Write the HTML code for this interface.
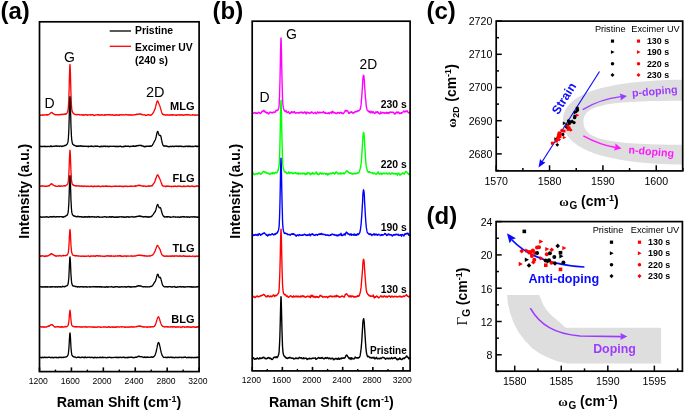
<!DOCTYPE html>
<html><head><meta charset="utf-8"><style>
html,body{margin:0;padding:0;background:#fff;}
svg{display:block;will-change:transform;}
</style></head><body>
<svg width="685" height="411" viewBox="0 0 685 411">
<rect width="685" height="411" fill="#fff"/>
<text x="0.5" y="18.6" font-family='"Liberation Sans", sans-serif' font-size="24" font-weight="bold" text-anchor="start" fill="#000">(a)</text>
<polyline points="39.5,114.9 39.7,115.0 39.8,115.0 40.0,115.0 40.1,115.1 40.3,115.1 40.5,115.2 40.6,115.4 40.8,115.2 40.9,115.1 41.1,115.2 41.3,115.2 41.4,115.1 41.6,115.0 41.7,115.0 41.9,115.1 42.1,114.9 42.2,115.1 42.4,114.9 42.5,115.0 42.7,115.0 42.9,115.2 43.0,115.1 43.2,115.2 43.3,115.2 43.5,115.1 43.6,114.9 43.8,115.1 44.0,115.1 44.1,115.1 44.3,114.9 44.4,114.9 44.6,114.8 44.8,114.8 44.9,115.0 45.1,114.7 45.2,114.8 45.4,114.9 45.6,114.8 45.7,114.8 45.9,114.8 46.0,114.8 46.2,114.7 46.4,114.9 46.5,115.0 46.7,114.7 46.8,115.0 47.0,114.9 47.2,114.8 47.3,115.1 47.5,114.9 47.6,114.7 47.8,114.8 48.0,114.8 48.1,114.7 48.3,114.7 48.4,114.6 48.6,114.6 48.8,114.6 48.9,114.3 49.1,114.3 49.2,114.1 49.4,114.1 49.6,113.8 49.7,113.8 49.9,113.7 50.0,113.6 50.2,113.5 50.4,113.1 50.5,113.1 50.7,113.1 50.8,112.7 51.0,112.7 51.2,112.6 51.3,112.7 51.5,112.6 51.6,112.5 51.8,112.5 51.9,112.6 52.1,112.9 52.3,112.8 52.4,113.0 52.6,113.2 52.7,113.3 52.9,113.5 53.1,113.5 53.2,113.7 53.4,113.7 53.5,113.9 53.7,113.9 53.9,113.9 54.0,114.0 54.2,114.1 54.3,114.3 54.5,114.4 54.7,114.5 54.8,114.4 55.0,114.7 55.1,114.6 55.3,114.6 55.5,114.7 55.6,114.7 55.8,114.8 55.9,114.9 56.1,114.6 56.3,114.6 56.4,114.7 56.6,114.7 56.7,114.7 56.9,114.7 57.1,114.8 57.2,114.8 57.4,114.6 57.5,114.7 57.7,114.7 57.9,114.6 58.0,114.8 58.2,114.7 58.3,114.9 58.5,114.8 58.7,114.8 58.8,114.7 59.0,114.8 59.1,114.6 59.3,114.7 59.5,114.9 59.6,114.6 59.8,114.9 59.9,114.6 60.1,114.8 60.2,114.6 60.4,114.7 60.6,114.6 60.7,114.4 60.9,114.6 61.0,114.6 61.2,114.5 61.4,114.4 61.5,114.4 61.7,114.3 61.8,114.5 62.0,114.4 62.2,114.4 62.3,114.3 62.5,114.4 62.6,114.3 62.8,114.6 63.0,114.4 63.1,114.5 63.3,114.3 63.4,114.2 63.6,114.2 63.8,114.2 63.9,114.2 64.1,114.1 64.2,114.1 64.4,114.0 64.6,114.0 64.7,114.2 64.9,114.0 65.0,113.9 65.2,114.0 65.4,114.2 65.5,113.9 65.7,114.0 65.8,113.9 66.0,113.8 66.2,114.0 66.3,113.9 66.5,113.7 66.6,113.4 66.8,113.3 67.0,113.0 67.1,112.8 67.3,112.3 67.4,112.0 67.6,111.9 67.7,111.2 67.9,110.6 68.1,109.7 68.2,108.4 68.4,106.6 68.5,104.4 68.7,101.1 68.9,97.2 69.0,92.4 69.2,87.0 69.3,81.0 69.5,74.9 69.7,69.5 69.8,65.7 70.0,64.5 70.1,66.0 70.3,69.7 70.5,75.1 70.6,81.1 70.8,87.1 70.9,92.6 71.1,97.1 71.3,101.2 71.4,104.1 71.6,106.7 71.7,108.4 71.9,109.7 72.1,110.8 72.2,111.5 72.4,111.7 72.5,112.1 72.7,112.6 72.9,112.7 73.0,113.0 73.2,113.3 73.3,113.2 73.5,113.3 73.7,113.7 73.8,113.8 74.0,113.9 74.1,114.0 74.3,114.0 74.5,114.1 74.6,114.3 74.8,114.3 74.9,114.3 75.1,114.6 75.3,114.6 75.4,114.6 75.6,114.5 75.7,114.5 75.9,114.5 76.0,114.5 76.2,114.6 76.4,114.5 76.5,114.6 76.7,114.6 76.8,114.8 77.0,114.5 77.2,114.7 77.3,114.7 77.5,114.7 77.6,114.5 77.8,114.6 78.0,114.7 78.1,114.6 78.3,114.6 78.4,114.6 78.6,114.7 78.8,114.6 78.9,114.5 79.1,114.6 79.2,114.6 79.4,114.5 79.6,114.8 79.7,115.0 79.9,114.9 80.0,114.7 80.2,114.8 80.4,114.9 80.5,114.8 80.7,114.8 80.8,114.8 81.0,114.8 81.2,114.9 81.3,114.9 81.5,114.9 81.6,114.8 81.8,115.0 82.0,114.9 82.1,115.1 82.3,114.8 82.4,114.9 82.6,114.9 82.8,114.8 82.9,115.1 83.1,115.0 83.2,114.9 83.4,115.0 83.5,115.0 83.7,114.8 83.9,115.1 84.0,115.1 84.2,115.2 84.3,115.0 84.5,115.0 84.7,114.9 84.8,115.0 85.0,114.8 85.1,114.7 85.3,114.7 85.5,114.6 85.6,114.6 85.8,114.5 85.9,114.9 86.1,114.9 86.3,114.9 86.4,114.9 86.6,114.9 86.7,115.0 86.9,114.9 87.1,115.0 87.2,115.0 87.4,115.2 87.5,115.1 87.7,115.0 87.9,115.0 88.0,114.9 88.2,115.1 88.3,115.0 88.5,114.9 88.7,114.9 88.8,114.8 89.0,114.9 89.1,114.9 89.3,114.8 89.5,114.8 89.6,114.8 89.8,114.8 89.9,114.7 90.1,114.8 90.3,114.8 90.4,115.0 90.6,114.8 90.7,115.0 90.9,115.1 91.1,114.9 91.2,114.8 91.4,114.9 91.5,114.8 91.7,114.7 91.8,114.8 92.0,114.9 92.2,114.7 92.3,114.8 92.5,114.7 92.6,114.9 92.8,114.8 93.0,114.8 93.1,115.1 93.3,114.9 93.4,115.2 93.6,115.3 93.8,115.2 93.9,115.3 94.1,115.5 94.2,115.3 94.4,115.3 94.6,115.2 94.7,115.3 94.9,115.4 95.0,115.3 95.2,115.1 95.4,115.1 95.5,115.0 95.7,115.1 95.8,115.0 96.0,115.0 96.2,114.9 96.3,114.8 96.5,114.8 96.6,114.8 96.8,114.8 97.0,114.9 97.1,115.0 97.3,114.9 97.4,114.8 97.6,114.7 97.8,114.9 97.9,114.7 98.1,114.7 98.2,115.0 98.4,115.0 98.6,114.9 98.7,114.7 98.9,114.9 99.0,114.9 99.2,115.1 99.3,115.3 99.5,115.1 99.7,115.0 99.8,115.0 100.0,115.1 100.1,115.0 100.3,114.9 100.5,115.0 100.6,114.8 100.8,115.0 100.9,115.0 101.1,115.0 101.3,114.8 101.4,114.9 101.6,114.8 101.7,114.8 101.9,114.8 102.1,114.7 102.2,114.8 102.4,115.0 102.5,115.0 102.7,115.0 102.9,115.1 103.0,114.9 103.2,115.0 103.3,115.1 103.5,115.2 103.7,115.1 103.8,115.2 104.0,115.1 104.1,115.0 104.3,115.0 104.5,115.2 104.6,115.1 104.8,114.8 104.9,115.1 105.1,115.0 105.3,115.1 105.4,114.9 105.6,114.9 105.7,114.8 105.9,115.1 106.1,114.8 106.2,115.0 106.4,114.8 106.5,114.8 106.7,114.6 106.9,114.7 107.0,114.9 107.2,114.6 107.3,114.9 107.5,114.8 107.6,114.6 107.8,114.7 108.0,114.7 108.1,114.8 108.3,114.8 108.4,114.7 108.6,114.8 108.8,114.8 108.9,114.7 109.1,114.8 109.2,114.9 109.4,114.6 109.6,114.7 109.7,114.6 109.9,114.5 110.0,114.8 110.2,114.7 110.4,115.0 110.5,114.8 110.7,115.0 110.8,115.0 111.0,115.0 111.2,115.1 111.3,115.0 111.5,115.1 111.6,115.0 111.8,114.8 112.0,114.9 112.1,114.9 112.3,115.0 112.4,114.8 112.6,115.0 112.8,114.8 112.9,115.1 113.1,114.9 113.2,114.9 113.4,115.1 113.6,115.2 113.7,115.0 113.9,115.1 114.0,115.1 114.2,115.1 114.4,115.3 114.5,115.2 114.7,115.2 114.8,115.3 115.0,115.1 115.2,115.2 115.3,115.1 115.5,115.1 115.6,114.9 115.8,115.3 115.9,115.0 116.1,115.0 116.3,114.9 116.4,114.9 116.6,114.8 116.7,115.0 116.9,114.8 117.1,114.8 117.2,114.9 117.4,114.9 117.5,115.2 117.7,115.2 117.9,115.0 118.0,115.0 118.2,115.1 118.3,115.3 118.5,114.9 118.7,115.2 118.8,115.1 119.0,115.2 119.1,115.0 119.3,115.0 119.5,114.8 119.6,114.9 119.8,115.0 119.9,114.9 120.1,114.8 120.3,114.8 120.4,114.7 120.6,114.8 120.7,114.8 120.9,114.8 121.1,114.8 121.2,114.7 121.4,114.9 121.5,114.9 121.7,115.0 121.9,115.1 122.0,114.9 122.2,114.9 122.3,114.9 122.5,114.8 122.7,114.8 122.8,114.8 123.0,114.7 123.1,114.8 123.3,114.7 123.4,114.8 123.6,114.8 123.8,114.9 123.9,114.9 124.1,115.1 124.2,115.1 124.4,115.2 124.6,115.1 124.7,114.9 124.9,115.0 125.0,114.7 125.2,114.7 125.4,114.7 125.5,114.4 125.7,114.6 125.8,114.7 126.0,114.7 126.2,114.7 126.3,114.7 126.5,114.7 126.6,114.8 126.8,114.8 127.0,114.9 127.1,114.7 127.3,114.9 127.4,114.9 127.6,114.9 127.8,114.9 127.9,115.0 128.1,114.8 128.2,115.0 128.4,115.0 128.6,115.0 128.7,115.0 128.9,114.9 129.0,114.9 129.2,115.0 129.4,115.0 129.5,115.0 129.7,114.8 129.8,115.0 130.0,115.1 130.2,115.1 130.3,115.0 130.5,114.9 130.6,115.1 130.8,115.0 131.0,114.8 131.1,115.1 131.3,114.9 131.4,114.9 131.6,114.9 131.7,115.1 131.9,114.9 132.1,115.0 132.2,115.1 132.4,115.1 132.5,115.0 132.7,115.0 132.9,114.9 133.0,115.0 133.2,115.1 133.3,115.2 133.5,115.1 133.7,115.1 133.8,114.8 134.0,114.8 134.1,114.8 134.3,114.7 134.5,114.7 134.6,114.6 134.8,114.6 134.9,114.7 135.1,114.6 135.3,114.6 135.4,114.8 135.6,114.8 135.7,114.8 135.9,114.5 136.1,114.6 136.2,114.5 136.4,114.4 136.5,114.2 136.7,114.4 136.9,114.5 137.0,114.4 137.2,114.3 137.3,114.3 137.5,114.4 137.7,114.0 137.8,114.2 138.0,114.2 138.1,114.2 138.3,114.3 138.5,114.2 138.6,114.1 138.8,114.1 138.9,114.1 139.1,113.9 139.2,114.0 139.4,114.0 139.6,114.1 139.7,113.9 139.9,113.9 140.0,113.9 140.2,114.1 140.4,114.0 140.5,114.2 140.7,114.0 140.8,114.1 141.0,114.2 141.2,114.3 141.3,114.4 141.5,114.2 141.6,114.4 141.8,114.6 142.0,114.6 142.1,114.5 142.3,114.9 142.4,114.8 142.6,114.9 142.8,114.8 142.9,114.9 143.1,114.8 143.2,115.0 143.4,114.8 143.6,114.8 143.7,114.9 143.9,114.8 144.0,114.9 144.2,114.8 144.4,114.7 144.5,114.8 144.7,114.8 144.8,115.0 145.0,114.9 145.2,115.0 145.3,115.2 145.5,115.4 145.6,115.5 145.8,115.3 146.0,115.3 146.1,115.4 146.3,115.3 146.4,115.2 146.6,115.3 146.8,115.3 146.9,115.1 147.1,115.0 147.2,114.9 147.4,115.0 147.5,114.8 147.7,114.8 147.9,114.7 148.0,114.8 148.2,114.7 148.3,114.8 148.5,114.7 148.7,114.8 148.8,114.8 149.0,115.1 149.1,115.0 149.3,115.0 149.5,115.0 149.6,115.1 149.8,115.2 149.9,115.1 150.1,115.1 150.3,115.2 150.4,115.4 150.6,115.2 150.7,115.0 150.9,115.0 151.1,115.1 151.2,114.7 151.4,114.6 151.5,114.7 151.7,114.5 151.9,114.4 152.0,114.2 152.2,114.3 152.3,114.1 152.5,113.8 152.7,113.6 152.8,113.1 153.0,113.2 153.1,112.8 153.3,112.6 153.5,112.4 153.6,112.0 153.8,111.5 153.9,111.4 154.1,111.0 154.3,110.7 154.4,110.3 154.6,110.0 154.7,109.4 154.9,109.3 155.1,108.8 155.2,108.4 155.4,107.9 155.5,107.2 155.7,106.4 155.8,105.9 156.0,105.2 156.2,104.5 156.3,103.9 156.5,103.0 156.6,102.7 156.8,101.9 157.0,101.7 157.1,101.3 157.3,101.1 157.4,101.0 157.6,101.0 157.8,101.2 157.9,101.3 158.1,101.8 158.2,102.3 158.4,102.7 158.6,103.0 158.7,103.4 158.9,103.6 159.0,104.2 159.2,104.5 159.4,104.8 159.5,105.2 159.7,105.6 159.8,106.0 160.0,106.4 160.2,106.8 160.3,107.4 160.5,108.2 160.6,108.5 160.8,109.1 161.0,109.7 161.1,110.3 161.3,110.7 161.4,111.4 161.6,112.0 161.8,112.4 161.9,112.9 162.1,113.4 162.2,113.5 162.4,113.9 162.6,114.0 162.7,114.4 162.9,114.1 163.0,114.4 163.2,114.4 163.3,114.6 163.5,114.6 163.7,114.8 163.8,114.5 164.0,114.8 164.1,114.7 164.3,114.7 164.5,114.9 164.6,114.7 164.8,114.7 164.9,114.9 165.1,114.8 165.3,114.9 165.4,115.0 165.6,115.1 165.7,115.2 165.9,115.0 166.1,114.9 166.2,115.0 166.4,114.9 166.5,114.9 166.7,115.0 166.9,114.9 167.0,114.8 167.2,115.1 167.3,115.0 167.5,115.0 167.7,115.0 167.8,115.1 168.0,115.0 168.1,115.1 168.3,115.1 168.5,115.1 168.6,115.1 168.8,114.9 168.9,115.0 169.1,115.0 169.3,115.0 169.4,114.9 169.6,115.2 169.7,115.0 169.9,114.9 170.1,114.8 170.2,114.9 170.4,115.0 170.5,114.9 170.7,115.0 170.9,114.9 171.0,115.0 171.2,114.9 171.3,114.9 171.5,115.0 171.6,115.2 171.8,114.8 172.0,114.9 172.1,114.8 172.3,115.0 172.4,114.8 172.6,114.9 172.8,115.0 172.9,114.9 173.1,114.9 173.2,115.0 173.4,114.9 173.6,115.0 173.7,115.0 173.9,115.0 174.0,115.0 174.2,114.8 174.4,114.8 174.5,114.9 174.7,114.9 174.8,114.9 175.0,114.8 175.2,115.0 175.3,115.0 175.5,115.0 175.6,115.1 175.8,115.3 176.0,115.2 176.1,115.3 176.3,115.1 176.4,115.2 176.6,115.0 176.8,115.0 176.9,115.2 177.1,115.0 177.2,114.9 177.4,114.9 177.6,114.9 177.7,115.0 177.9,114.8 178.0,114.7 178.2,114.8 178.4,114.9 178.5,114.9 178.7,115.0 178.8,114.9 179.0,115.0 179.2,114.8 179.3,115.0 179.5,115.1 179.6,115.0 179.8,114.9 179.9,114.9 180.1,115.1 180.3,114.8 180.4,114.9 180.6,115.0 180.7,115.0 180.9,114.9 181.1,115.0 181.2,115.0 181.4,115.0 181.5,115.0 181.7,114.9 181.9,114.9 182.0,115.0 182.2,114.8 182.3,114.9 182.5,114.9 182.7,114.8 182.8,115.0 183.0,114.9 183.1,115.2 183.3,115.3 183.5,115.3 183.6,115.1 183.8,115.2 183.9,115.1 184.1,115.0 184.3,115.1 184.4,114.8 184.6,115.0 184.7,114.9 184.9,115.0 185.1,114.8 185.2,114.7 185.4,114.8 185.5,114.8 185.7,114.7 185.9,114.7 186.0,114.6 186.2,114.5 186.3,114.8 186.5,114.8 186.7,114.8 186.8,114.8 187.0,115.0 187.1,114.8 187.3,114.7 187.4,114.8 187.6,114.9 187.8,114.6 187.9,114.8 188.1,114.6 188.2,114.6 188.4,114.9 188.6,114.8 188.7,114.7 188.9,114.9 189.0,115.0 189.2,115.1 189.4,115.0 189.5,115.1 189.7,115.1 189.8,115.0 190.0,115.1 190.2,115.1 190.3,115.1 190.5,115.1 190.6,115.1 190.8,115.1 191.0,115.1 191.1,115.1 191.3,115.2 191.4,115.1 191.6,115.1 191.8,115.1 191.9,115.0 192.1,115.1 192.2,114.8 192.4,114.9 192.6,114.7 192.7,115.0 192.9,115.0 193.0,114.6 193.2,114.7 193.4,114.9 193.5,114.9 193.7,114.9 193.8,114.9 194.0,115.0 194.2,115.1 194.3,115.1 194.5,115.3 194.6,115.0 194.8,115.3 195.0,115.1 195.1,115.3 195.3,115.1 195.4,115.0 195.6,115.1 195.7,115.0 195.9,114.9 196.1,114.9 196.2,115.0 196.4,115.1 196.5,115.1 196.7,115.0 196.9,115.1 197.0,115.0 197.2,115.0 197.3,115.1 197.5,115.1 197.7,115.0 197.8,115.1 198.0,115.1 198.1,115.1 198.3,115.1 198.5,115.3 198.6,115.2 198.8,115.3 198.9,115.2 199.1,115.3" fill="none" stroke="#ff0000" stroke-width="1.3" stroke-linejoin="round"/>
<polyline points="39.5,146.2 39.7,146.2 39.8,146.3 40.0,146.2 40.1,146.2 40.3,146.4 40.5,146.3 40.6,146.4 40.8,146.5 40.9,146.7 41.1,146.4 41.3,146.5 41.4,146.5 41.6,146.5 41.7,146.6 41.9,146.4 42.1,146.4 42.2,146.3 42.4,146.4 42.5,146.5 42.7,146.5 42.9,146.4 43.0,146.4 43.2,146.5 43.3,146.5 43.5,146.4 43.6,146.4 43.8,146.3 44.0,146.3 44.1,146.6 44.3,146.3 44.4,146.5 44.6,146.6 44.8,146.5 44.9,146.5 45.1,146.6 45.2,146.6 45.4,146.6 45.6,146.4 45.7,146.5 45.9,146.4 46.0,146.4 46.2,146.5 46.4,146.5 46.5,146.5 46.7,146.4 46.8,146.6 47.0,146.6 47.2,146.6 47.3,146.6 47.5,146.5 47.6,146.5 47.8,146.6 48.0,146.3 48.1,146.5 48.3,146.4 48.4,146.4 48.6,146.3 48.8,146.4 48.9,146.5 49.1,146.6 49.2,146.7 49.4,146.6 49.6,146.6 49.7,146.5 49.9,146.5 50.0,146.4 50.2,146.4 50.4,146.4 50.5,146.1 50.7,145.9 50.8,146.0 51.0,146.0 51.2,146.1 51.3,146.5 51.5,146.4 51.6,146.3 51.8,146.6 51.9,146.6 52.1,146.4 52.3,146.4 52.4,146.4 52.6,146.4 52.7,146.4 52.9,146.4 53.1,146.4 53.2,146.4 53.4,146.4 53.5,146.4 53.7,146.1 53.9,146.3 54.0,146.3 54.2,146.2 54.3,146.3 54.5,146.2 54.7,146.1 54.8,146.3 55.0,146.2 55.1,146.2 55.3,146.2 55.5,146.2 55.6,146.1 55.8,145.8 55.9,146.0 56.1,146.0 56.3,145.9 56.4,146.1 56.6,146.2 56.7,146.0 56.9,146.0 57.1,146.4 57.2,146.1 57.4,146.1 57.5,146.2 57.7,146.2 57.9,146.1 58.0,146.3 58.2,146.1 58.3,146.1 58.5,146.2 58.7,146.2 58.8,146.1 59.0,146.2 59.1,146.2 59.3,146.5 59.5,146.2 59.6,146.4 59.8,146.2 59.9,146.2 60.1,146.2 60.2,146.2 60.4,146.2 60.6,146.0 60.7,145.9 60.9,145.9 61.0,146.1 61.2,146.2 61.4,146.3 61.5,146.3 61.7,146.4 61.8,146.5 62.0,146.3 62.2,146.1 62.3,146.1 62.5,146.0 62.6,146.3 62.8,146.0 63.0,146.2 63.1,146.1 63.3,146.2 63.4,146.1 63.6,145.9 63.8,145.9 63.9,145.9 64.1,145.8 64.2,145.7 64.4,145.7 64.6,145.9 64.7,145.5 64.9,145.6 65.0,145.4 65.2,145.5 65.4,145.5 65.5,145.4 65.7,145.4 65.8,145.1 66.0,145.2 66.2,145.0 66.3,145.0 66.5,144.8 66.6,144.4 66.8,144.4 67.0,144.3 67.1,144.3 67.3,143.9 67.4,143.5 67.6,143.0 67.7,142.8 67.9,142.1 68.1,141.0 68.2,139.7 68.4,137.9 68.5,135.8 68.7,132.9 68.9,128.8 69.0,124.2 69.2,118.8 69.3,112.8 69.5,107.1 69.7,101.7 69.8,98.0 70.0,96.7 70.1,98.1 70.3,101.8 70.5,107.0 70.6,112.8 70.8,118.6 70.9,124.1 71.1,128.7 71.3,132.4 71.4,135.5 71.6,137.9 71.7,139.5 71.9,140.8 72.1,141.7 72.2,142.6 72.4,143.2 72.5,143.8 72.7,143.8 72.9,144.1 73.0,144.5 73.2,144.6 73.3,144.7 73.5,145.0 73.7,144.9 73.8,144.9 74.0,145.0 74.1,145.2 74.3,145.3 74.5,145.2 74.6,145.4 74.8,145.6 74.9,145.7 75.1,145.6 75.3,145.8 75.4,145.9 75.6,145.7 75.7,145.9 75.9,146.1 76.0,146.1 76.2,146.0 76.4,146.2 76.5,146.3 76.7,146.4 76.8,146.0 77.0,146.5 77.2,146.1 77.3,146.3 77.5,146.3 77.6,146.3 77.8,146.2 78.0,146.0 78.1,146.2 78.3,146.0 78.4,145.9 78.6,146.4 78.8,146.1 78.9,146.2 79.1,145.9 79.2,146.2 79.4,146.1 79.6,146.1 79.7,145.9 79.9,145.8 80.0,145.9 80.2,145.8 80.4,145.8 80.5,146.0 80.7,145.9 80.8,146.0 81.0,146.0 81.2,146.2 81.3,146.1 81.5,146.0 81.6,146.1 81.8,145.9 82.0,146.0 82.1,146.1 82.3,146.0 82.4,146.1 82.6,146.1 82.8,146.3 82.9,146.5 83.1,146.3 83.2,146.4 83.4,146.3 83.5,146.2 83.7,146.2 83.9,146.4 84.0,146.4 84.2,146.2 84.3,146.1 84.5,146.3 84.7,146.2 84.8,146.3 85.0,146.3 85.1,146.3 85.3,146.4 85.5,146.3 85.6,146.3 85.8,146.1 85.9,146.2 86.1,146.1 86.3,146.2 86.4,146.1 86.6,146.3 86.7,146.3 86.9,146.1 87.1,146.2 87.2,146.2 87.4,146.4 87.5,146.5 87.7,146.5 87.9,146.4 88.0,146.6 88.2,146.3 88.3,146.7 88.5,146.5 88.7,146.3 88.8,146.8 89.0,146.6 89.1,146.3 89.3,146.4 89.5,146.3 89.6,146.3 89.8,146.1 89.9,146.2 90.1,146.3 90.3,146.3 90.4,146.4 90.6,146.3 90.7,146.5 90.9,146.2 91.1,146.3 91.2,146.1 91.4,146.1 91.5,146.4 91.7,146.2 91.8,146.3 92.0,146.2 92.2,146.2 92.3,146.3 92.5,146.3 92.6,146.3 92.8,146.5 93.0,146.5 93.1,146.4 93.3,146.4 93.4,146.4 93.6,146.4 93.8,146.4 93.9,146.6 94.1,146.3 94.2,146.2 94.4,146.2 94.6,146.1 94.7,146.1 94.9,146.1 95.0,146.2 95.2,146.1 95.4,146.3 95.5,146.1 95.7,146.2 95.8,146.0 96.0,146.3 96.2,146.2 96.3,146.3 96.5,146.2 96.6,146.3 96.8,146.1 97.0,146.2 97.1,146.4 97.3,146.0 97.4,146.3 97.6,146.3 97.8,146.2 97.9,146.3 98.1,146.4 98.2,146.3 98.4,146.4 98.6,146.3 98.7,146.4 98.9,146.4 99.0,146.5 99.2,146.6 99.3,146.7 99.5,146.5 99.7,146.9 99.8,146.9 100.0,146.8 100.1,146.6 100.3,146.5 100.5,146.5 100.6,146.4 100.8,146.1 100.9,146.3 101.1,146.6 101.3,146.1 101.4,146.5 101.6,146.4 101.7,146.4 101.9,146.6 102.1,146.4 102.2,146.5 102.4,146.6 102.5,146.5 102.7,146.4 102.9,146.5 103.0,146.4 103.2,146.6 103.3,146.3 103.5,146.4 103.7,146.2 103.8,146.4 104.0,146.3 104.1,146.0 104.3,146.2 104.5,146.1 104.6,146.2 104.8,146.4 104.9,146.2 105.1,146.2 105.3,146.5 105.4,146.3 105.6,146.5 105.7,146.4 105.9,146.2 106.1,146.3 106.2,146.5 106.4,146.4 106.5,146.3 106.7,146.3 106.9,146.3 107.0,146.3 107.2,146.5 107.3,146.3 107.5,146.2 107.6,146.2 107.8,146.4 108.0,146.5 108.1,146.4 108.3,146.4 108.4,146.6 108.6,146.5 108.8,146.6 108.9,146.7 109.1,146.5 109.2,146.5 109.4,146.5 109.6,146.3 109.7,146.2 109.9,146.3 110.0,146.2 110.2,146.1 110.4,146.3 110.5,146.3 110.7,146.3 110.8,146.4 111.0,146.4 111.2,146.2 111.3,146.4 111.5,146.4 111.6,146.4 111.8,146.3 112.0,146.4 112.1,146.4 112.3,146.4 112.4,146.3 112.6,146.4 112.8,146.2 112.9,146.3 113.1,146.4 113.2,146.2 113.4,146.3 113.6,146.4 113.7,146.3 113.9,146.3 114.0,146.4 114.2,146.5 114.4,146.2 114.5,146.3 114.7,146.3 114.8,146.3 115.0,146.4 115.2,146.4 115.3,146.5 115.5,146.4 115.6,146.5 115.8,146.5 115.9,146.4 116.1,146.5 116.3,146.6 116.4,146.5 116.6,146.3 116.7,146.4 116.9,146.3 117.1,146.5 117.2,146.5 117.4,146.4 117.5,146.4 117.7,146.6 117.9,146.4 118.0,146.5 118.2,146.4 118.3,146.4 118.5,146.4 118.7,146.7 118.8,146.5 119.0,146.4 119.1,146.3 119.3,146.3 119.5,146.3 119.6,146.2 119.8,146.3 119.9,146.1 120.1,146.3 120.3,146.2 120.4,146.4 120.6,146.2 120.7,146.4 120.9,146.5 121.1,146.6 121.2,146.4 121.4,146.7 121.5,146.6 121.7,146.7 121.9,146.7 122.0,146.7 122.2,146.8 122.3,146.6 122.5,146.6 122.7,146.7 122.8,146.6 123.0,146.6 123.1,146.5 123.3,146.5 123.4,146.5 123.6,146.7 123.8,146.4 123.9,146.7 124.1,146.6 124.2,146.5 124.4,146.6 124.6,146.3 124.7,146.3 124.9,146.2 125.0,146.3 125.2,146.2 125.4,146.2 125.5,146.2 125.7,146.0 125.8,146.3 126.0,146.1 126.2,146.2 126.3,146.3 126.5,146.2 126.6,146.2 126.8,146.2 127.0,146.3 127.1,146.4 127.3,146.4 127.4,146.2 127.6,146.2 127.8,146.2 127.9,146.3 128.1,146.1 128.2,146.4 128.4,146.2 128.6,146.2 128.7,146.3 128.9,146.4 129.0,146.4 129.2,146.5 129.4,146.4 129.5,146.5 129.7,146.6 129.8,146.5 130.0,146.7 130.2,146.5 130.3,146.5 130.5,146.3 130.6,146.3 130.8,146.4 131.0,146.2 131.1,146.3 131.3,146.3 131.4,146.3 131.6,146.1 131.7,146.3 131.9,146.4 132.1,146.3 132.2,146.4 132.4,146.1 132.5,146.3 132.7,146.1 132.9,146.3 133.0,145.9 133.2,146.2 133.3,146.0 133.5,146.2 133.7,146.0 133.8,146.1 134.0,146.4 134.1,146.1 134.3,146.2 134.5,146.2 134.6,146.2 134.8,146.4 134.9,146.4 135.1,146.2 135.3,146.0 135.4,146.3 135.6,146.3 135.7,146.2 135.9,146.2 136.1,145.9 136.2,146.0 136.4,145.8 136.5,145.7 136.7,145.9 136.9,145.7 137.0,146.0 137.2,145.7 137.3,145.6 137.5,145.7 137.7,145.7 137.8,145.5 138.0,145.4 138.1,145.6 138.3,145.7 138.5,145.5 138.6,145.5 138.8,145.8 138.9,145.7 139.1,145.5 139.2,145.5 139.4,145.4 139.6,145.4 139.7,145.4 139.9,145.4 140.0,145.3 140.2,145.1 140.4,145.4 140.5,145.5 140.7,145.5 140.8,145.6 141.0,145.5 141.2,145.5 141.3,145.7 141.5,145.6 141.6,145.5 141.8,145.9 142.0,145.7 142.1,145.8 142.3,145.8 142.4,145.8 142.6,145.9 142.8,146.1 142.9,146.2 143.1,146.0 143.2,146.4 143.4,146.3 143.6,146.3 143.7,146.5 143.9,146.5 144.0,146.4 144.2,146.8 144.4,146.5 144.5,146.7 144.7,146.6 144.8,146.7 145.0,146.5 145.2,146.6 145.3,146.4 145.5,146.5 145.6,146.3 145.8,146.3 146.0,146.5 146.1,146.3 146.3,146.3 146.4,146.5 146.6,146.3 146.8,146.1 146.9,146.3 147.1,146.1 147.2,146.3 147.4,146.3 147.5,146.2 147.7,146.2 147.9,146.3 148.0,146.3 148.2,146.2 148.3,146.4 148.5,146.2 148.7,146.4 148.8,146.4 149.0,146.4 149.1,146.4 149.3,146.2 149.5,146.4 149.6,146.2 149.8,146.1 149.9,146.0 150.1,146.0 150.3,146.2 150.4,146.0 150.6,146.2 150.7,146.3 150.9,146.3 151.1,146.3 151.2,146.1 151.4,146.0 151.5,146.1 151.7,145.9 151.9,145.9 152.0,145.6 152.2,145.5 152.3,145.3 152.5,145.0 152.7,144.7 152.8,144.4 153.0,144.1 153.1,143.8 153.3,143.5 153.5,143.0 153.6,142.9 153.8,142.4 153.9,142.3 154.1,141.9 154.3,141.6 154.4,141.5 154.6,141.0 154.7,140.6 154.9,140.4 155.1,140.1 155.2,140.1 155.4,139.5 155.5,139.1 155.7,138.4 155.8,138.0 156.0,137.4 156.2,136.9 156.3,135.9 156.5,135.3 156.6,134.5 156.8,133.7 157.0,133.1 157.1,132.4 157.3,131.7 157.4,131.7 157.6,131.5 157.8,131.4 157.9,131.5 158.1,132.1 158.2,132.5 158.4,133.1 158.6,133.7 158.7,134.1 158.9,134.7 159.0,134.9 159.2,135.2 159.4,135.3 159.5,135.4 159.7,135.5 159.8,135.3 160.0,135.3 160.2,135.3 160.3,135.4 160.5,135.5 160.6,135.9 160.8,136.3 161.0,136.8 161.1,137.5 161.3,138.1 161.4,139.2 161.6,139.9 161.8,140.6 161.9,141.3 162.1,142.3 162.2,142.8 162.4,143.4 162.6,143.9 162.7,144.4 162.9,144.9 163.0,145.1 163.2,145.5 163.3,145.4 163.5,145.8 163.7,145.7 163.8,146.1 164.0,145.9 164.1,146.0 164.3,146.1 164.5,146.2 164.6,145.9 164.8,146.0 164.9,145.9 165.1,146.1 165.3,146.0 165.4,146.0 165.6,146.0 165.7,146.0 165.9,146.0 166.1,146.1 166.2,146.2 166.4,145.9 166.5,146.1 166.7,146.1 166.9,146.2 167.0,146.1 167.2,146.3 167.3,146.2 167.5,146.5 167.7,146.5 167.8,146.5 168.0,146.6 168.1,146.6 168.3,146.4 168.5,146.7 168.6,146.6 168.8,146.6 168.9,146.7 169.1,146.8 169.3,146.5 169.4,146.5 169.6,146.7 169.7,146.7 169.9,146.4 170.1,146.4 170.2,146.4 170.4,146.4 170.5,146.3 170.7,146.5 170.9,146.4 171.0,146.4 171.2,146.6 171.3,146.5 171.5,146.5 171.6,146.5 171.8,146.5 172.0,146.4 172.1,146.4 172.3,146.2 172.4,146.5 172.6,146.4 172.8,146.2 172.9,146.3 173.1,146.4 173.2,146.4 173.4,146.5 173.6,146.5 173.7,146.3 173.9,146.4 174.0,146.3 174.2,146.4 174.4,146.4 174.5,146.7 174.7,146.4 174.8,146.2 175.0,146.3 175.2,146.3 175.3,146.2 175.5,146.2 175.6,146.2 175.8,146.2 176.0,146.2 176.1,146.1 176.3,146.3 176.4,146.2 176.6,146.2 176.8,146.1 176.9,146.1 177.1,146.3 177.2,146.1 177.4,146.3 177.6,146.4 177.7,146.3 177.9,146.4 178.0,146.3 178.2,146.5 178.4,146.5 178.5,146.4 178.7,146.2 178.8,146.2 179.0,146.4 179.2,146.5 179.3,146.3 179.5,146.4 179.6,146.2 179.8,146.2 179.9,146.2 180.1,146.3 180.3,146.1 180.4,146.3 180.6,146.4 180.7,146.2 180.9,146.2 181.1,146.4 181.2,146.3 181.4,146.2 181.5,146.5 181.7,146.4 181.9,146.4 182.0,146.6 182.2,146.4 182.3,146.3 182.5,146.4 182.7,146.3 182.8,146.3 183.0,146.5 183.1,146.4 183.3,146.4 183.5,146.7 183.6,146.6 183.8,146.6 183.9,146.6 184.1,146.5 184.3,146.6 184.4,146.4 184.6,146.6 184.7,146.3 184.9,146.4 185.1,146.2 185.2,146.3 185.4,146.4 185.5,146.5 185.7,146.3 185.9,146.3 186.0,146.3 186.2,146.3 186.3,146.2 186.5,146.4 186.7,146.2 186.8,146.4 187.0,146.4 187.1,146.3 187.3,146.3 187.4,146.2 187.6,146.6 187.8,146.2 187.9,146.5 188.1,146.4 188.2,146.3 188.4,146.2 188.6,146.4 188.7,146.5 188.9,146.2 189.0,146.3 189.2,146.4 189.4,146.3 189.5,146.5 189.7,146.2 189.8,146.4 190.0,146.2 190.2,146.5 190.3,146.3 190.5,146.1 190.6,146.4 190.8,146.4 191.0,146.6 191.1,146.4 191.3,146.5 191.4,146.6 191.6,146.7 191.8,146.5 191.9,146.6 192.1,146.5 192.2,146.5 192.4,146.5 192.6,146.5 192.7,146.4 192.9,146.6 193.0,146.4 193.2,146.7 193.4,146.7 193.5,146.6 193.7,146.5 193.8,146.5 194.0,146.5 194.2,146.5 194.3,146.3 194.5,146.3 194.6,146.1 194.8,146.1 195.0,146.0 195.1,146.2 195.3,146.2 195.4,146.2 195.6,146.4 195.7,146.4 195.9,146.0 196.1,146.3 196.2,146.2 196.4,146.4 196.5,146.6 196.7,146.3 196.9,146.3 197.0,146.3 197.2,146.4 197.3,146.4 197.5,146.5 197.7,146.3 197.8,146.5 198.0,146.3 198.1,146.4 198.3,146.5 198.5,146.4 198.6,146.2 198.8,146.2 198.9,146.2 199.1,146.3" fill="none" stroke="#000" stroke-width="1.3" stroke-linejoin="round"/>
<polyline points="39.5,186.4 39.7,186.3 39.8,186.2 40.0,186.4 40.1,186.4 40.3,186.2 40.5,186.3 40.6,186.1 40.8,186.3 40.9,186.1 41.1,186.0 41.3,186.0 41.4,185.9 41.6,186.0 41.7,186.0 41.9,186.0 42.1,185.9 42.2,185.7 42.4,186.1 42.5,185.9 42.7,186.1 42.9,186.2 43.0,186.1 43.2,186.1 43.3,186.1 43.5,186.1 43.6,186.0 43.8,186.0 44.0,186.0 44.1,186.2 44.3,186.1 44.4,186.3 44.6,186.2 44.8,186.2 44.9,186.2 45.1,186.3 45.2,186.4 45.4,186.3 45.6,186.2 45.7,186.2 45.9,186.4 46.0,186.2 46.2,186.2 46.4,186.3 46.5,186.3 46.7,186.2 46.8,186.1 47.0,186.3 47.2,186.1 47.3,186.1 47.5,186.0 47.6,185.8 47.8,185.8 48.0,186.0 48.1,185.9 48.3,185.8 48.4,185.7 48.6,185.7 48.8,185.7 48.9,185.6 49.1,185.8 49.2,185.8 49.4,185.9 49.6,185.6 49.7,185.3 49.9,185.1 50.0,184.6 50.2,184.7 50.4,184.6 50.5,184.5 50.7,184.3 50.8,184.2 51.0,184.0 51.2,184.0 51.3,184.1 51.5,183.8 51.6,183.9 51.8,183.8 51.9,184.2 52.1,184.3 52.3,184.3 52.4,184.3 52.6,184.5 52.7,184.7 52.9,184.8 53.1,184.9 53.2,185.1 53.4,185.1 53.5,185.4 53.7,185.4 53.9,185.4 54.0,185.5 54.2,185.6 54.3,185.8 54.5,185.7 54.7,185.9 54.8,185.8 55.0,185.8 55.1,186.0 55.3,185.9 55.5,186.1 55.6,186.1 55.8,186.0 55.9,186.1 56.1,186.1 56.3,186.1 56.4,186.1 56.6,186.4 56.7,186.3 56.9,186.4 57.1,186.3 57.2,186.4 57.4,186.4 57.5,186.4 57.7,186.3 57.9,186.2 58.0,186.1 58.2,185.9 58.3,186.0 58.5,185.9 58.7,185.9 58.8,185.9 59.0,186.0 59.1,186.3 59.3,186.0 59.5,186.1 59.6,186.2 59.8,185.9 59.9,186.1 60.1,186.1 60.2,186.3 60.4,186.1 60.6,186.0 60.7,186.1 60.9,186.1 61.0,186.0 61.2,186.1 61.4,186.0 61.5,186.1 61.7,186.1 61.8,186.3 62.0,186.1 62.2,186.1 62.3,186.1 62.5,186.1 62.6,186.2 62.8,186.1 63.0,186.0 63.1,186.0 63.3,186.0 63.4,186.0 63.6,185.9 63.8,185.8 63.9,185.7 64.1,185.8 64.2,185.6 64.4,185.9 64.6,185.9 64.7,185.7 64.9,185.9 65.0,186.0 65.2,185.9 65.4,186.0 65.5,185.9 65.7,185.5 65.8,185.6 66.0,185.5 66.2,185.4 66.3,185.3 66.5,185.1 66.6,185.0 66.8,184.9 67.0,184.8 67.1,184.7 67.3,184.4 67.4,184.2 67.6,184.1 67.7,183.7 67.9,183.2 68.1,182.3 68.2,181.5 68.4,180.2 68.5,178.6 68.7,176.3 68.9,173.6 69.0,170.1 69.2,166.2 69.3,162.0 69.5,157.8 69.7,153.9 69.8,151.3 70.0,150.2 70.1,151.2 70.3,153.9 70.5,157.7 70.6,162.1 70.8,166.3 70.9,170.2 71.1,173.6 71.3,176.4 71.4,178.8 71.6,180.4 71.7,181.5 71.9,182.8 72.1,183.3 72.2,183.7 72.4,184.1 72.5,184.3 72.7,184.8 72.9,184.8 73.0,184.7 73.2,185.1 73.3,185.1 73.5,185.4 73.7,185.2 73.8,185.2 74.0,185.5 74.1,185.5 74.3,185.6 74.5,185.4 74.6,185.7 74.8,185.9 74.9,185.6 75.1,185.9 75.3,185.7 75.4,186.0 75.6,185.9 75.7,185.8 75.9,185.9 76.0,185.9 76.2,185.7 76.4,185.9 76.5,185.8 76.7,185.7 76.8,186.1 77.0,185.8 77.2,185.8 77.3,185.9 77.5,185.8 77.6,185.8 77.8,185.9 78.0,185.9 78.1,185.9 78.3,186.1 78.4,185.9 78.6,186.0 78.8,186.0 78.9,185.9 79.1,186.1 79.2,186.0 79.4,186.2 79.6,186.2 79.7,186.2 79.9,186.0 80.0,186.2 80.2,186.1 80.4,186.2 80.5,186.1 80.7,186.0 80.8,186.2 81.0,186.1 81.2,186.0 81.3,186.2 81.5,186.0 81.6,186.0 81.8,186.0 82.0,186.0 82.1,186.0 82.3,186.1 82.4,186.3 82.6,186.3 82.8,186.2 82.9,186.4 83.1,186.2 83.2,186.3 83.4,186.4 83.5,186.3 83.7,186.5 83.9,186.3 84.0,186.2 84.2,186.4 84.3,186.2 84.5,186.2 84.7,185.9 84.8,186.2 85.0,186.1 85.1,186.1 85.3,186.1 85.5,186.2 85.6,186.1 85.8,186.3 85.9,186.2 86.1,186.3 86.3,186.5 86.4,186.6 86.6,186.3 86.7,186.5 86.9,186.4 87.1,186.3 87.2,186.4 87.4,186.3 87.5,186.1 87.7,186.1 87.9,186.4 88.0,186.1 88.2,186.3 88.3,186.3 88.5,186.3 88.7,186.1 88.8,186.2 89.0,186.3 89.1,186.4 89.3,186.3 89.5,186.3 89.6,186.5 89.8,186.5 89.9,186.4 90.1,186.3 90.3,186.4 90.4,186.4 90.6,186.4 90.7,186.2 90.9,186.3 91.1,186.2 91.2,186.1 91.4,186.3 91.5,186.2 91.7,186.2 91.8,186.2 92.0,186.0 92.2,186.2 92.3,186.3 92.5,186.4 92.6,186.5 92.8,186.4 93.0,186.4 93.1,186.6 93.3,186.6 93.4,186.7 93.6,186.5 93.8,186.2 93.9,186.3 94.1,186.1 94.2,186.0 94.4,186.4 94.6,186.2 94.7,186.2 94.9,186.2 95.0,186.4 95.2,186.3 95.4,186.4 95.5,186.2 95.7,186.2 95.8,186.5 96.0,186.5 96.2,186.4 96.3,186.4 96.5,186.4 96.6,186.3 96.8,186.5 97.0,186.3 97.1,186.3 97.3,186.2 97.4,186.3 97.6,186.2 97.8,186.2 97.9,186.0 98.1,186.2 98.2,186.4 98.4,186.2 98.6,186.2 98.7,186.4 98.9,186.4 99.0,186.3 99.2,186.1 99.3,186.4 99.5,186.2 99.7,186.2 99.8,186.4 100.0,186.4 100.1,186.5 100.3,186.8 100.5,186.6 100.6,186.6 100.8,186.5 100.9,186.6 101.1,186.5 101.3,186.5 101.4,186.3 101.6,186.3 101.7,186.3 101.9,186.1 102.1,186.0 102.2,186.0 102.4,186.2 102.5,186.2 102.7,186.3 102.9,186.3 103.0,186.2 103.2,186.3 103.3,186.1 103.5,186.5 103.7,186.4 103.8,186.3 104.0,186.2 104.1,186.4 104.3,186.2 104.5,186.3 104.6,186.4 104.8,186.4 104.9,186.3 105.1,186.4 105.3,186.2 105.4,186.3 105.6,186.2 105.7,186.2 105.9,186.3 106.1,186.1 106.2,186.3 106.4,186.1 106.5,186.3 106.7,186.0 106.9,186.2 107.0,186.1 107.2,186.1 107.3,186.3 107.5,186.4 107.6,186.2 107.8,186.5 108.0,186.3 108.1,186.3 108.3,186.4 108.4,186.4 108.6,186.1 108.8,186.5 108.9,186.4 109.1,186.3 109.2,186.2 109.4,186.2 109.6,186.2 109.7,186.4 109.9,186.3 110.0,186.3 110.2,186.3 110.4,186.6 110.5,186.4 110.7,186.4 110.8,186.6 111.0,186.5 111.2,186.5 111.3,186.4 111.5,186.3 111.6,186.3 111.8,186.4 112.0,186.4 112.1,186.5 112.3,186.5 112.4,186.4 112.6,186.4 112.8,186.3 112.9,186.2 113.1,186.3 113.2,186.3 113.4,186.3 113.6,186.3 113.7,186.2 113.9,186.2 114.0,186.3 114.2,186.4 114.4,186.3 114.5,186.4 114.7,186.3 114.8,186.1 115.0,186.2 115.2,186.4 115.3,186.1 115.5,186.2 115.6,186.3 115.8,186.3 115.9,186.1 116.1,186.4 116.3,186.2 116.4,186.2 116.6,186.2 116.7,186.3 116.9,186.3 117.1,186.3 117.2,186.4 117.4,186.2 117.5,186.2 117.7,186.4 117.9,186.4 118.0,186.4 118.2,186.2 118.3,186.4 118.5,186.3 118.7,186.4 118.8,186.1 119.0,186.3 119.1,186.2 119.3,186.1 119.5,186.2 119.6,186.4 119.8,186.2 119.9,186.2 120.1,186.4 120.3,186.4 120.4,186.3 120.6,186.1 120.7,186.2 120.9,186.3 121.1,186.1 121.2,186.1 121.4,186.3 121.5,186.5 121.7,186.3 121.9,186.2 122.0,186.3 122.2,186.4 122.3,186.5 122.5,186.6 122.7,186.6 122.8,186.5 123.0,186.6 123.1,186.5 123.3,186.6 123.4,186.5 123.6,186.8 123.8,186.5 123.9,186.3 124.1,186.2 124.2,186.2 124.4,186.1 124.6,186.2 124.7,186.2 124.9,186.4 125.0,186.3 125.2,186.2 125.4,186.2 125.5,186.2 125.7,186.3 125.8,186.3 126.0,186.4 126.2,186.2 126.3,186.4 126.5,186.3 126.6,186.2 126.8,186.1 127.0,186.2 127.1,186.4 127.3,186.5 127.4,186.4 127.6,186.5 127.8,186.4 127.9,186.4 128.1,186.4 128.2,186.5 128.4,186.4 128.6,186.4 128.7,186.3 128.9,186.4 129.0,186.4 129.2,186.2 129.4,186.5 129.5,186.3 129.7,186.3 129.8,186.4 130.0,186.4 130.2,186.3 130.3,186.3 130.5,186.2 130.6,186.2 130.8,186.0 131.0,186.4 131.1,186.0 131.3,186.3 131.4,186.2 131.6,186.2 131.7,186.2 131.9,186.3 132.1,186.3 132.2,186.5 132.4,186.3 132.5,186.3 132.7,186.1 132.9,186.2 133.0,186.2 133.2,186.1 133.3,186.1 133.5,186.1 133.7,186.2 133.8,186.2 134.0,186.2 134.1,186.2 134.3,186.4 134.5,186.1 134.6,186.2 134.8,186.4 134.9,185.9 135.1,186.0 135.3,186.1 135.4,185.8 135.6,186.2 135.7,185.7 135.9,186.1 136.1,186.1 136.2,186.0 136.4,185.9 136.5,186.0 136.7,185.8 136.9,185.9 137.0,185.7 137.2,185.7 137.3,185.8 137.5,185.5 137.7,185.6 137.8,185.6 138.0,185.4 138.1,185.6 138.3,185.5 138.5,185.3 138.6,185.5 138.8,185.4 138.9,185.4 139.1,185.4 139.2,185.3 139.4,185.5 139.6,185.3 139.7,185.5 139.9,185.4 140.0,185.4 140.2,185.4 140.4,185.4 140.5,185.4 140.7,185.7 140.8,185.8 141.0,186.0 141.2,185.9 141.3,185.8 141.5,185.8 141.6,185.8 141.8,185.8 142.0,185.9 142.1,185.9 142.3,185.7 142.4,185.8 142.6,186.1 142.8,186.0 142.9,186.0 143.1,186.2 143.2,186.1 143.4,186.2 143.6,186.2 143.7,186.0 143.9,186.3 144.0,186.1 144.2,186.1 144.4,186.1 144.5,186.2 144.7,186.2 144.8,186.2 145.0,186.0 145.2,186.2 145.3,186.1 145.5,186.3 145.6,186.3 145.8,186.3 146.0,186.5 146.1,186.3 146.3,186.3 146.4,186.3 146.6,186.2 146.8,186.3 146.9,186.4 147.1,186.2 147.2,186.4 147.4,186.4 147.5,186.4 147.7,186.4 147.9,186.3 148.0,186.2 148.2,186.4 148.3,186.2 148.5,186.0 148.7,186.1 148.8,185.9 149.0,185.7 149.1,185.7 149.3,185.8 149.5,186.1 149.6,186.1 149.8,186.1 149.9,186.2 150.1,186.3 150.3,186.0 150.4,186.1 150.6,186.0 150.7,185.9 150.9,185.9 151.1,185.8 151.2,185.7 151.4,185.6 151.5,185.7 151.7,186.0 151.9,185.6 152.0,185.5 152.2,185.7 152.3,185.6 152.5,185.4 152.7,185.0 152.8,185.0 153.0,184.6 153.1,184.3 153.3,184.0 153.5,183.8 153.6,183.7 153.8,183.4 153.9,183.1 154.1,183.0 154.3,182.6 154.4,182.5 154.6,182.0 154.7,181.6 154.9,181.5 155.1,180.9 155.2,180.6 155.4,180.1 155.5,179.6 155.7,179.1 155.8,178.8 156.0,178.0 156.2,177.8 156.3,177.5 156.5,176.8 156.6,176.4 156.8,176.1 157.0,175.8 157.1,175.1 157.3,175.0 157.4,174.8 157.6,174.8 157.8,174.8 157.9,175.0 158.1,175.1 158.2,175.5 158.4,175.8 158.6,176.2 158.7,176.6 158.9,177.0 159.0,177.3 159.2,177.9 159.4,178.0 159.5,178.1 159.7,178.7 159.8,178.8 160.0,179.3 160.2,179.6 160.3,180.0 160.5,180.5 160.6,180.8 160.8,181.4 161.0,182.0 161.1,182.1 161.3,182.7 161.4,183.3 161.6,183.6 161.8,183.9 161.9,184.7 162.1,184.7 162.2,185.3 162.4,185.4 162.6,185.5 162.7,185.7 162.9,185.9 163.0,186.1 163.2,186.1 163.3,186.1 163.5,186.2 163.7,186.3 163.8,186.3 164.0,186.1 164.1,186.1 164.3,186.2 164.5,186.1 164.6,186.1 164.8,186.1 164.9,186.2 165.1,186.3 165.3,186.4 165.4,186.3 165.6,186.6 165.7,186.4 165.9,186.7 166.1,186.4 166.2,186.3 166.4,186.2 166.5,186.0 166.7,186.2 166.9,186.2 167.0,186.4 167.2,186.1 167.3,186.4 167.5,186.2 167.7,186.3 167.8,186.0 168.0,186.3 168.1,186.2 168.3,186.3 168.5,186.2 168.6,186.1 168.8,186.3 168.9,186.3 169.1,186.3 169.3,186.3 169.4,186.3 169.6,186.3 169.7,186.1 169.9,186.1 170.1,186.4 170.2,186.4 170.4,186.4 170.5,186.4 170.7,186.4 170.9,186.5 171.0,186.5 171.2,186.5 171.3,186.8 171.5,186.6 171.6,186.4 171.8,186.3 172.0,186.4 172.1,186.5 172.3,186.4 172.4,186.3 172.6,186.3 172.8,186.3 172.9,186.2 173.1,186.5 173.2,186.4 173.4,186.6 173.6,186.2 173.7,186.3 173.9,186.4 174.0,186.2 174.2,186.1 174.4,186.1 174.5,186.2 174.7,186.2 174.8,186.2 175.0,186.3 175.2,186.3 175.3,186.2 175.5,186.2 175.6,186.1 175.8,186.2 176.0,186.3 176.1,186.3 176.3,186.4 176.4,186.3 176.6,186.3 176.8,186.4 176.9,186.6 177.1,186.5 177.2,186.6 177.4,186.3 177.6,186.4 177.7,186.4 177.9,186.3 178.0,186.0 178.2,186.1 178.4,186.1 178.5,186.0 178.7,186.2 178.8,186.2 179.0,186.1 179.2,186.3 179.3,186.1 179.5,186.2 179.6,186.2 179.8,186.1 179.9,186.3 180.1,186.3 180.3,186.4 180.4,186.3 180.6,186.3 180.7,186.2 180.9,186.1 181.1,186.2 181.2,186.1 181.4,186.3 181.5,186.3 181.7,186.5 181.9,186.5 182.0,186.5 182.2,186.5 182.3,186.6 182.5,186.7 182.7,186.6 182.8,186.3 183.0,186.4 183.1,186.5 183.3,186.1 183.5,186.0 183.6,185.8 183.8,185.8 183.9,186.2 184.1,186.1 184.3,186.2 184.4,186.4 184.6,186.5 184.7,186.3 184.9,186.5 185.1,186.4 185.2,186.4 185.4,186.4 185.5,186.4 185.7,186.6 185.9,186.5 186.0,186.4 186.2,186.4 186.3,186.4 186.5,186.3 186.7,186.2 186.8,186.3 187.0,186.2 187.1,186.1 187.3,186.0 187.4,186.1 187.6,186.0 187.8,186.2 187.9,186.2 188.1,186.0 188.2,186.2 188.4,186.3 188.6,186.3 188.7,186.2 188.9,186.4 189.0,186.3 189.2,186.2 189.4,186.3 189.5,186.4 189.7,186.5 189.8,186.6 190.0,186.5 190.2,186.4 190.3,186.5 190.5,186.4 190.6,186.4 190.8,186.2 191.0,186.3 191.1,186.3 191.3,186.2 191.4,186.2 191.6,186.0 191.8,186.0 191.9,186.0 192.1,186.2 192.2,186.2 192.4,186.0 192.6,186.2 192.7,186.1 192.9,186.3 193.0,186.3 193.2,186.2 193.4,186.4 193.5,186.3 193.7,186.3 193.8,186.3 194.0,186.5 194.2,186.5 194.3,186.5 194.5,186.5 194.6,186.7 194.8,186.5 195.0,186.4 195.1,186.6 195.3,186.5 195.4,186.4 195.6,186.1 195.7,186.2 195.9,186.3 196.1,186.2 196.2,186.3 196.4,186.0 196.5,186.1 196.7,185.9 196.9,186.1 197.0,185.9 197.2,186.1 197.3,186.0 197.5,186.0 197.7,186.1 197.8,186.3 198.0,186.3 198.1,186.6 198.3,186.6 198.5,186.4 198.6,186.3 198.8,186.3 198.9,186.2 199.1,186.4" fill="none" stroke="#ff0000" stroke-width="1.3" stroke-linejoin="round"/>
<polyline points="39.5,217.1 39.7,217.0 39.8,217.0 40.0,217.2 40.1,217.2 40.3,216.8 40.5,216.9 40.6,217.2 40.8,217.0 40.9,217.0 41.1,217.1 41.3,217.2 41.4,217.2 41.6,217.2 41.7,217.3 41.9,217.2 42.1,217.3 42.2,217.1 42.4,217.1 42.5,217.1 42.7,217.2 42.9,217.1 43.0,217.0 43.2,217.1 43.3,217.1 43.5,217.1 43.6,217.0 43.8,217.2 44.0,217.1 44.1,217.0 44.3,217.0 44.4,217.1 44.6,217.1 44.8,217.1 44.9,217.0 45.1,217.0 45.2,217.1 45.4,217.2 45.6,217.1 45.7,216.9 45.9,217.1 46.0,216.9 46.2,217.0 46.4,217.0 46.5,216.8 46.7,216.9 46.8,216.7 47.0,216.8 47.2,216.7 47.3,216.9 47.5,217.0 47.6,217.1 47.8,217.1 48.0,217.1 48.1,217.2 48.3,217.2 48.4,217.4 48.6,217.3 48.8,217.1 48.9,217.1 49.1,217.0 49.2,216.9 49.4,217.0 49.6,217.0 49.7,216.8 49.9,216.8 50.0,216.6 50.2,216.8 50.4,216.8 50.5,216.6 50.7,216.9 50.8,216.9 51.0,216.8 51.2,216.9 51.3,216.8 51.5,217.0 51.6,216.8 51.8,216.9 51.9,217.1 52.1,216.9 52.3,216.9 52.4,216.8 52.6,216.7 52.7,216.8 52.9,216.8 53.1,216.6 53.2,216.8 53.4,216.8 53.5,216.8 53.7,216.5 53.9,216.5 54.0,216.4 54.2,216.8 54.3,216.8 54.5,216.9 54.7,216.8 54.8,216.8 55.0,217.0 55.1,217.1 55.3,217.0 55.5,217.0 55.6,217.0 55.8,216.9 55.9,216.8 56.1,216.6 56.3,216.8 56.4,216.8 56.6,216.8 56.7,216.7 56.9,216.7 57.1,216.9 57.2,216.8 57.4,216.8 57.5,216.7 57.7,216.7 57.9,216.8 58.0,216.7 58.2,216.7 58.3,216.8 58.5,216.9 58.7,216.8 58.8,216.9 59.0,216.7 59.1,216.7 59.3,216.6 59.5,216.6 59.6,216.8 59.8,216.7 59.9,216.7 60.1,216.7 60.2,216.7 60.4,216.6 60.6,216.7 60.7,216.7 60.9,216.7 61.0,216.7 61.2,216.7 61.4,216.6 61.5,216.7 61.7,216.7 61.8,216.9 62.0,216.6 62.2,216.8 62.3,217.1 62.5,216.9 62.6,216.9 62.8,217.0 63.0,217.2 63.1,217.0 63.3,217.0 63.4,216.9 63.6,216.8 63.8,217.1 63.9,216.7 64.1,216.6 64.2,216.6 64.4,216.6 64.6,216.6 64.7,216.6 64.9,216.5 65.0,216.3 65.2,216.5 65.4,216.3 65.5,216.2 65.7,216.0 65.8,216.0 66.0,215.8 66.2,215.8 66.3,215.5 66.5,215.6 66.6,215.5 66.8,215.3 67.0,215.2 67.1,215.1 67.3,215.1 67.4,214.5 67.6,214.4 67.7,213.8 67.9,213.3 68.1,212.6 68.2,211.4 68.4,209.9 68.5,207.9 68.7,205.6 68.9,202.3 69.0,198.5 69.2,193.8 69.3,189.0 69.5,184.4 69.7,179.9 69.8,176.8 70.0,175.7 70.1,176.7 70.3,179.9 70.5,184.2 70.6,189.1 70.8,193.9 70.9,198.5 71.1,202.3 71.3,205.6 71.4,208.2 71.6,210.2 71.7,211.6 71.9,212.7 72.1,213.1 72.2,214.1 72.4,214.4 72.5,214.7 72.7,215.0 72.9,215.1 73.0,215.3 73.2,215.6 73.3,215.8 73.5,215.7 73.7,215.7 73.8,216.0 74.0,215.9 74.1,216.2 74.3,216.1 74.5,216.0 74.6,216.2 74.8,216.3 74.9,216.0 75.1,216.3 75.3,216.2 75.4,216.4 75.6,216.3 75.7,216.3 75.9,216.5 76.0,216.7 76.2,216.8 76.4,216.9 76.5,216.7 76.7,216.6 76.8,216.6 77.0,216.6 77.2,216.5 77.3,216.5 77.5,216.2 77.6,216.5 77.8,216.5 78.0,216.8 78.1,216.6 78.3,216.5 78.4,216.6 78.6,216.5 78.8,216.6 78.9,216.5 79.1,216.8 79.2,216.8 79.4,216.6 79.6,216.7 79.7,216.9 79.9,216.8 80.0,216.8 80.2,216.7 80.4,216.7 80.5,216.8 80.7,216.8 80.8,216.7 81.0,216.7 81.2,216.9 81.3,216.7 81.5,217.0 81.6,216.9 81.8,217.0 82.0,217.1 82.1,217.0 82.3,217.0 82.4,216.9 82.6,216.9 82.8,217.1 82.9,217.2 83.1,217.2 83.2,217.3 83.4,217.1 83.5,217.0 83.7,217.1 83.9,217.0 84.0,217.0 84.2,216.8 84.3,217.0 84.5,216.8 84.7,217.0 84.8,216.8 85.0,217.1 85.1,216.8 85.3,217.0 85.5,216.8 85.6,216.9 85.8,217.1 85.9,216.9 86.1,216.9 86.3,216.9 86.4,216.7 86.6,217.0 86.7,217.0 86.9,216.9 87.1,217.1 87.2,217.0 87.4,217.0 87.5,217.1 87.7,216.9 87.9,217.2 88.0,216.7 88.2,216.9 88.3,216.9 88.5,216.5 88.7,216.5 88.8,216.8 89.0,216.7 89.1,216.8 89.3,217.0 89.5,216.9 89.6,216.8 89.8,216.7 89.9,217.0 90.1,216.9 90.3,217.0 90.4,216.9 90.6,216.7 90.7,217.0 90.9,216.9 91.1,216.9 91.2,216.7 91.4,216.7 91.5,216.7 91.7,216.7 91.8,216.7 92.0,216.8 92.2,216.8 92.3,216.9 92.5,216.8 92.6,217.0 92.8,216.9 93.0,216.7 93.1,216.9 93.3,216.9 93.4,217.0 93.6,216.9 93.8,216.9 93.9,216.9 94.1,217.0 94.2,216.9 94.4,216.9 94.6,216.9 94.7,217.0 94.9,216.9 95.0,216.8 95.2,217.1 95.4,217.0 95.5,217.1 95.7,217.1 95.8,217.2 96.0,217.2 96.2,217.1 96.3,217.1 96.5,217.0 96.6,217.2 96.8,217.0 97.0,217.0 97.1,216.8 97.3,216.5 97.4,216.8 97.6,216.6 97.8,216.7 97.9,216.7 98.1,216.8 98.2,216.9 98.4,216.7 98.6,217.0 98.7,216.9 98.9,217.0 99.0,217.2 99.2,217.2 99.3,217.1 99.5,217.0 99.7,217.3 99.8,217.3 100.0,217.3 100.1,217.1 100.3,217.1 100.5,217.1 100.6,217.2 100.8,217.2 100.9,217.2 101.1,217.1 101.3,217.2 101.4,217.2 101.6,217.1 101.7,217.2 101.9,217.4 102.1,217.2 102.2,217.3 102.4,217.1 102.5,217.1 102.7,216.9 102.9,217.0 103.0,217.1 103.2,217.2 103.3,217.1 103.5,217.0 103.7,216.9 103.8,216.8 104.0,216.8 104.1,216.8 104.3,216.7 104.5,216.8 104.6,216.7 104.8,216.6 104.9,216.7 105.1,216.6 105.3,216.7 105.4,216.9 105.6,216.8 105.7,216.9 105.9,217.0 106.1,217.1 106.2,217.0 106.4,217.2 106.5,217.1 106.7,217.1 106.9,217.1 107.0,217.0 107.2,217.0 107.3,217.1 107.5,217.2 107.6,217.1 107.8,217.1 108.0,217.1 108.1,217.2 108.3,217.1 108.4,217.1 108.6,216.9 108.8,216.8 108.9,216.9 109.1,216.9 109.2,216.8 109.4,217.1 109.6,216.9 109.7,216.8 109.9,217.0 110.0,217.1 110.2,217.0 110.4,217.1 110.5,216.9 110.7,216.9 110.8,216.9 111.0,217.0 111.2,217.2 111.3,216.8 111.5,217.0 111.6,216.7 111.8,216.8 112.0,216.8 112.1,216.8 112.3,216.8 112.4,216.6 112.6,216.8 112.8,216.7 112.9,217.1 113.1,216.9 113.2,216.9 113.4,216.9 113.6,217.0 113.7,216.9 113.9,217.2 114.0,217.1 114.2,217.2 114.4,217.2 114.5,217.2 114.7,217.4 114.8,217.2 115.0,217.1 115.2,217.3 115.3,217.2 115.5,217.3 115.6,217.4 115.8,217.1 115.9,217.3 116.1,217.0 116.3,217.2 116.4,217.1 116.6,216.9 116.7,217.0 116.9,217.0 117.1,217.1 117.2,217.3 117.4,217.0 117.5,217.3 117.7,217.1 117.9,217.1 118.0,217.0 118.2,217.3 118.3,217.1 118.5,217.0 118.7,216.9 118.8,217.0 119.0,216.7 119.1,216.9 119.3,217.1 119.5,216.8 119.6,216.9 119.8,216.9 119.9,216.8 120.1,216.8 120.3,216.9 120.4,216.8 120.6,216.8 120.7,216.6 120.9,216.7 121.1,216.6 121.2,216.8 121.4,216.8 121.5,216.8 121.7,216.7 121.9,217.1 122.0,217.1 122.2,217.0 122.3,216.9 122.5,217.0 122.7,217.1 122.8,216.9 123.0,216.9 123.1,217.0 123.3,217.0 123.4,217.0 123.6,217.0 123.8,217.0 123.9,217.3 124.1,217.3 124.2,217.3 124.4,217.2 124.6,217.2 124.7,217.3 124.9,217.1 125.0,217.3 125.2,217.2 125.4,217.1 125.5,217.1 125.7,217.1 125.8,216.9 126.0,217.0 126.2,217.2 126.3,216.9 126.5,217.0 126.6,217.1 126.8,216.9 127.0,216.8 127.1,216.7 127.3,216.9 127.4,216.9 127.6,216.9 127.8,216.7 127.9,216.9 128.1,216.7 128.2,216.9 128.4,216.9 128.6,217.1 128.7,217.2 128.9,217.3 129.0,217.1 129.2,217.3 129.4,217.0 129.5,216.9 129.7,217.0 129.8,216.8 130.0,216.9 130.2,216.9 130.3,216.9 130.5,217.0 130.6,216.9 130.8,216.9 131.0,216.8 131.1,216.9 131.3,216.8 131.4,216.8 131.6,216.8 131.7,216.8 131.9,216.5 132.1,216.5 132.2,216.6 132.4,216.7 132.5,216.8 132.7,216.9 132.9,217.0 133.0,217.0 133.2,217.0 133.3,217.0 133.5,217.0 133.7,217.0 133.8,217.1 134.0,217.1 134.1,217.1 134.3,217.0 134.5,217.1 134.6,217.0 134.8,217.0 134.9,216.9 135.1,216.8 135.3,216.7 135.4,216.8 135.6,216.7 135.7,216.6 135.9,216.6 136.1,216.8 136.2,216.5 136.4,216.6 136.5,216.6 136.7,216.4 136.9,216.5 137.0,216.6 137.2,216.5 137.3,216.4 137.5,216.4 137.7,216.3 137.8,216.4 138.0,216.2 138.1,216.2 138.3,216.2 138.5,216.3 138.6,216.2 138.8,216.2 138.9,215.9 139.1,216.2 139.2,216.3 139.4,216.2 139.6,216.0 139.7,216.0 139.9,216.1 140.0,216.0 140.2,216.2 140.4,216.2 140.5,216.4 140.7,216.5 140.8,216.2 141.0,216.6 141.2,216.5 141.3,216.5 141.5,216.5 141.6,216.6 141.8,216.7 142.0,216.4 142.1,216.7 142.3,216.8 142.4,216.7 142.6,216.7 142.8,216.7 142.9,216.6 143.1,216.7 143.2,216.7 143.4,216.8 143.6,217.0 143.7,216.8 143.9,216.8 144.0,216.9 144.2,216.7 144.4,216.7 144.5,216.8 144.7,216.7 144.8,216.8 145.0,216.7 145.2,216.8 145.3,216.8 145.5,216.6 145.6,216.5 145.8,216.6 146.0,216.7 146.1,216.5 146.3,216.7 146.4,216.8 146.6,216.8 146.8,216.9 146.9,217.0 147.1,216.8 147.2,216.9 147.4,216.9 147.5,217.1 147.7,216.9 147.9,217.2 148.0,217.1 148.2,217.1 148.3,217.0 148.5,216.9 148.7,217.2 148.8,216.9 149.0,217.1 149.1,217.0 149.3,216.9 149.5,217.0 149.6,216.9 149.8,216.9 149.9,216.6 150.1,216.8 150.3,216.7 150.4,216.7 150.6,216.7 150.7,216.8 150.9,216.9 151.1,216.5 151.2,216.7 151.4,216.5 151.5,216.5 151.7,216.2 151.9,216.1 152.0,215.9 152.2,215.8 152.3,215.6 152.5,215.3 152.7,215.2 152.8,214.8 153.0,214.8 153.1,214.6 153.3,214.3 153.5,214.2 153.6,213.7 153.8,213.4 153.9,213.2 154.1,213.1 154.3,212.9 154.4,212.7 154.6,212.4 154.7,212.3 154.9,211.9 155.1,211.6 155.2,211.3 155.4,211.3 155.5,210.5 155.7,210.3 155.8,210.0 156.0,209.3 156.2,208.6 156.3,208.0 156.5,207.4 156.6,206.8 156.8,205.9 157.0,205.5 157.1,205.1 157.3,204.8 157.4,204.6 157.6,204.4 157.8,204.4 157.9,204.8 158.1,205.3 158.2,205.5 158.4,205.9 158.6,206.6 158.7,206.7 158.9,207.2 159.0,207.4 159.2,207.6 159.4,207.7 159.5,207.9 159.7,207.6 159.8,207.6 160.0,207.5 160.2,207.6 160.3,207.7 160.5,208.0 160.6,208.1 160.8,208.6 161.0,209.2 161.1,209.6 161.3,210.3 161.4,210.9 161.6,211.4 161.8,211.9 161.9,212.8 162.1,213.2 162.2,213.8 162.4,214.0 162.6,214.5 162.7,214.8 162.9,215.2 163.0,215.7 163.2,215.9 163.3,216.0 163.5,216.1 163.7,216.4 163.8,216.4 164.0,216.6 164.1,216.7 164.3,216.5 164.5,216.8 164.6,217.1 164.8,216.9 164.9,216.9 165.1,216.9 165.3,216.9 165.4,217.0 165.6,216.9 165.7,216.8 165.9,216.6 166.1,216.9 166.2,216.7 166.4,216.7 166.5,217.0 166.7,217.0 166.9,216.8 167.0,217.0 167.2,217.0 167.3,216.8 167.5,217.0 167.7,216.7 167.8,216.7 168.0,216.7 168.1,216.7 168.3,216.9 168.5,216.7 168.6,216.8 168.8,216.8 168.9,216.9 169.1,216.9 169.3,217.0 169.4,216.9 169.6,216.8 169.7,217.0 169.9,217.0 170.1,217.0 170.2,217.1 170.4,217.3 170.5,217.1 170.7,217.1 170.9,217.3 171.0,217.1 171.2,217.1 171.3,217.1 171.5,217.2 171.6,217.2 171.8,217.1 172.0,217.1 172.1,217.1 172.3,217.1 172.4,216.8 172.6,216.9 172.8,216.9 172.9,216.9 173.1,216.8 173.2,216.7 173.4,216.7 173.6,216.5 173.7,216.8 173.9,216.8 174.0,216.9 174.2,216.9 174.4,217.0 174.5,217.0 174.7,217.1 174.8,217.2 175.0,217.1 175.2,217.2 175.3,217.0 175.5,217.1 175.6,216.9 175.8,217.0 176.0,217.0 176.1,217.1 176.3,217.1 176.4,217.1 176.6,217.2 176.8,217.1 176.9,217.1 177.1,217.1 177.2,217.0 177.4,217.0 177.6,217.1 177.7,217.0 177.9,217.0 178.0,217.1 178.2,217.1 178.4,217.1 178.5,217.0 178.7,217.2 178.8,217.2 179.0,217.4 179.2,217.3 179.3,217.3 179.5,217.3 179.6,217.1 179.8,217.1 179.9,217.3 180.1,217.2 180.3,217.0 180.4,217.0 180.6,216.9 180.7,217.1 180.9,217.0 181.1,217.1 181.2,217.0 181.4,217.1 181.5,217.0 181.7,217.0 181.9,217.0 182.0,216.9 182.2,216.6 182.3,216.6 182.5,216.5 182.7,216.6 182.8,216.8 183.0,216.8 183.1,216.7 183.3,216.9 183.5,216.8 183.6,216.7 183.8,216.7 183.9,216.8 184.1,217.0 184.3,216.7 184.4,217.0 184.6,217.0 184.7,216.8 184.9,216.9 185.1,216.8 185.2,216.9 185.4,217.0 185.5,216.9 185.7,217.1 185.9,217.1 186.0,217.0 186.2,217.0 186.3,217.0 186.5,217.0 186.7,216.9 186.8,217.1 187.0,217.1 187.1,216.9 187.3,217.2 187.4,216.9 187.6,216.8 187.8,216.9 187.9,216.7 188.1,216.8 188.2,216.8 188.4,216.9 188.6,217.0 188.7,217.1 188.9,217.2 189.0,217.3 189.2,217.4 189.4,217.2 189.5,217.1 189.7,217.2 189.8,216.9 190.0,216.9 190.2,217.0 190.3,216.9 190.5,216.8 190.6,216.9 190.8,216.9 191.0,216.7 191.1,216.9 191.3,216.8 191.4,216.9 191.6,216.9 191.8,217.1 191.9,217.0 192.1,216.9 192.2,217.0 192.4,216.9 192.6,217.0 192.7,217.0 192.9,217.0 193.0,216.7 193.2,216.8 193.4,216.9 193.5,216.8 193.7,216.9 193.8,216.7 194.0,216.9 194.2,216.8 194.3,217.0 194.5,217.0 194.6,217.1 194.8,217.0 195.0,217.1 195.1,216.9 195.3,216.9 195.4,217.1 195.6,217.1 195.7,216.9 195.9,217.0 196.1,217.0 196.2,217.2 196.4,217.1 196.5,217.1 196.7,216.8 196.9,216.9 197.0,217.0 197.2,217.0 197.3,217.1 197.5,217.0 197.7,217.3 197.8,217.3 198.0,217.2 198.1,217.2 198.3,217.4 198.5,217.1 198.6,217.2 198.8,217.3 198.9,216.9 199.1,217.0" fill="none" stroke="#000" stroke-width="1.3" stroke-linejoin="round"/>
<polyline points="39.5,256.1 39.7,256.0 39.8,256.1 40.0,256.2 40.1,256.1 40.3,256.3 40.5,255.9 40.6,256.1 40.8,256.0 40.9,256.3 41.1,256.0 41.3,256.0 41.4,255.9 41.6,256.1 41.7,255.9 41.9,256.0 42.1,255.7 42.2,256.0 42.4,255.9 42.5,255.9 42.7,255.9 42.9,255.7 43.0,255.8 43.2,256.0 43.3,256.1 43.5,256.1 43.6,256.2 43.8,256.2 44.0,256.5 44.1,256.5 44.3,256.3 44.4,256.5 44.6,256.1 44.8,256.2 44.9,256.4 45.1,256.1 45.2,256.0 45.4,256.3 45.6,256.2 45.7,256.0 45.9,256.2 46.0,256.0 46.2,255.9 46.4,256.0 46.5,256.0 46.7,255.9 46.8,256.0 47.0,255.9 47.2,256.0 47.3,256.0 47.5,256.0 47.6,255.9 47.8,255.7 48.0,255.7 48.1,255.7 48.3,255.8 48.4,255.7 48.6,255.5 48.8,255.5 48.9,255.2 49.1,255.4 49.2,255.1 49.4,255.1 49.6,255.0 49.7,254.8 49.9,254.7 50.0,254.5 50.2,254.4 50.4,254.4 50.5,254.6 50.7,254.2 50.8,254.0 51.0,253.8 51.2,254.0 51.3,253.7 51.5,253.7 51.6,253.9 51.8,253.8 51.9,254.1 52.1,254.1 52.3,254.0 52.4,254.2 52.6,254.2 52.7,254.3 52.9,254.6 53.1,254.7 53.2,254.8 53.4,254.9 53.5,254.9 53.7,255.1 53.9,255.0 54.0,255.2 54.2,255.5 54.3,255.6 54.5,255.5 54.7,255.6 54.8,255.8 55.0,255.9 55.1,255.6 55.3,255.8 55.5,255.9 55.6,256.0 55.8,255.9 55.9,256.0 56.1,256.0 56.3,256.3 56.4,256.1 56.6,256.0 56.7,255.9 56.9,256.1 57.1,256.0 57.2,255.8 57.4,255.9 57.5,255.8 57.7,255.8 57.9,255.8 58.0,255.8 58.2,255.9 58.3,255.9 58.5,256.0 58.7,256.0 58.8,255.9 59.0,255.7 59.1,255.9 59.3,255.5 59.5,255.5 59.6,255.7 59.8,255.7 59.9,255.8 60.1,255.7 60.2,255.7 60.4,255.8 60.6,255.9 60.7,255.8 60.9,255.8 61.0,255.8 61.2,255.8 61.4,256.0 61.5,256.0 61.7,255.8 61.8,255.8 62.0,255.8 62.2,255.9 62.3,255.7 62.5,255.8 62.6,255.5 62.8,255.6 63.0,255.7 63.1,255.7 63.3,255.5 63.4,255.5 63.6,255.7 63.8,255.5 63.9,255.5 64.1,255.6 64.2,255.6 64.4,255.7 64.6,255.7 64.7,255.6 64.9,255.7 65.0,255.7 65.2,255.6 65.4,255.6 65.5,255.7 65.7,255.4 65.8,255.6 66.0,255.4 66.2,255.3 66.3,255.3 66.5,255.2 66.6,255.3 66.8,255.1 67.0,255.0 67.1,254.9 67.3,255.0 67.4,254.8 67.6,254.4 67.7,254.2 67.9,253.7 68.1,253.3 68.2,252.6 68.4,251.8 68.5,250.1 68.7,248.8 68.9,246.7 69.0,244.1 69.2,241.3 69.3,238.1 69.5,235.0 69.7,232.3 69.8,230.0 70.0,229.6 70.1,230.1 70.3,232.3 70.5,235.0 70.6,238.2 70.8,241.3 70.9,244.2 71.1,246.5 71.3,248.5 71.4,250.3 71.6,251.5 71.7,252.6 71.9,252.8 72.1,253.6 72.2,254.1 72.4,254.2 72.5,254.5 72.7,254.9 72.9,255.0 73.0,255.0 73.2,255.3 73.3,255.3 73.5,255.4 73.7,255.4 73.8,255.4 74.0,255.3 74.1,255.4 74.3,255.6 74.5,255.6 74.6,255.8 74.8,255.7 74.9,255.5 75.1,255.8 75.3,255.9 75.4,255.9 75.6,255.8 75.7,255.7 75.9,256.0 76.0,255.7 76.2,255.9 76.4,255.7 76.5,255.7 76.7,255.9 76.8,255.6 77.0,255.7 77.2,255.9 77.3,255.8 77.5,255.9 77.6,255.9 77.8,255.9 78.0,256.2 78.1,256.0 78.3,256.0 78.4,256.0 78.6,256.0 78.8,256.2 78.9,256.2 79.1,256.1 79.2,256.1 79.4,256.2 79.6,256.0 79.7,256.1 79.9,256.1 80.0,256.1 80.2,256.2 80.4,256.1 80.5,256.1 80.7,256.3 80.8,256.2 81.0,256.3 81.2,256.2 81.3,256.3 81.5,256.2 81.6,256.3 81.8,256.4 82.0,256.2 82.1,256.2 82.3,256.2 82.4,255.8 82.6,256.0 82.8,256.1 82.9,256.2 83.1,256.1 83.2,256.2 83.4,256.3 83.5,256.1 83.7,256.3 83.9,256.3 84.0,256.2 84.2,256.1 84.3,256.3 84.5,256.2 84.7,256.1 84.8,256.2 85.0,256.1 85.1,256.3 85.3,256.3 85.5,256.3 85.6,256.2 85.8,256.1 85.9,256.1 86.1,256.2 86.3,256.1 86.4,256.4 86.6,256.1 86.7,256.1 86.9,256.2 87.1,256.2 87.2,256.1 87.4,256.1 87.5,256.1 87.7,256.2 87.9,256.2 88.0,256.1 88.2,256.1 88.3,256.2 88.5,256.2 88.7,255.8 88.8,256.1 89.0,256.1 89.1,256.2 89.3,256.3 89.5,256.4 89.6,256.5 89.8,256.4 89.9,256.4 90.1,256.5 90.3,256.2 90.4,256.3 90.6,256.3 90.7,256.2 90.9,255.9 91.1,256.1 91.2,256.0 91.4,256.0 91.5,256.2 91.7,256.1 91.8,256.0 92.0,256.1 92.2,256.1 92.3,256.0 92.5,256.1 92.6,256.1 92.8,256.0 93.0,256.0 93.1,256.0 93.3,255.9 93.4,255.9 93.6,256.2 93.8,256.0 93.9,256.1 94.1,256.1 94.2,256.1 94.4,256.1 94.6,256.1 94.7,256.0 94.9,256.2 95.0,256.0 95.2,256.2 95.4,255.9 95.5,256.0 95.7,256.2 95.8,256.0 96.0,255.9 96.2,256.0 96.3,255.8 96.5,255.9 96.6,255.7 96.8,255.8 97.0,255.8 97.1,255.9 97.3,255.9 97.4,255.7 97.6,255.9 97.8,255.8 97.9,255.7 98.1,255.7 98.2,256.1 98.4,256.0 98.6,256.0 98.7,256.1 98.9,256.0 99.0,256.2 99.2,256.0 99.3,256.1 99.5,255.9 99.7,255.6 99.8,255.9 100.0,255.8 100.1,255.9 100.3,256.1 100.5,256.0 100.6,256.2 100.8,256.1 100.9,256.1 101.1,256.2 101.3,256.1 101.4,256.2 101.6,256.2 101.7,256.1 101.9,256.2 102.1,256.2 102.2,256.1 102.4,256.2 102.5,256.2 102.7,256.3 102.9,256.1 103.0,256.3 103.2,256.3 103.3,256.2 103.5,256.3 103.7,256.3 103.8,256.4 104.0,256.3 104.1,256.4 104.3,256.5 104.5,256.4 104.6,256.1 104.8,256.3 104.9,256.3 105.1,256.2 105.3,256.3 105.4,256.2 105.6,256.2 105.7,256.1 105.9,256.0 106.1,256.0 106.2,256.0 106.4,256.1 106.5,256.0 106.7,256.0 106.9,256.0 107.0,256.0 107.2,255.8 107.3,255.9 107.5,255.8 107.6,255.9 107.8,255.9 108.0,255.9 108.1,255.8 108.3,256.0 108.4,256.0 108.6,255.8 108.8,256.0 108.9,255.9 109.1,256.2 109.2,256.0 109.4,256.0 109.6,256.1 109.7,256.1 109.9,256.1 110.0,256.2 110.2,256.0 110.4,256.0 110.5,256.0 110.7,255.8 110.8,256.0 111.0,255.8 111.2,255.9 111.3,255.8 111.5,256.0 111.6,256.0 111.8,256.0 112.0,256.3 112.1,256.2 112.3,256.1 112.4,256.1 112.6,256.2 112.8,256.2 112.9,256.2 113.1,256.2 113.2,256.2 113.4,256.0 113.6,256.1 113.7,256.0 113.9,256.2 114.0,256.3 114.2,256.2 114.4,256.1 114.5,256.1 114.7,256.3 114.8,256.1 115.0,256.1 115.2,256.1 115.3,255.9 115.5,256.1 115.6,256.1 115.8,256.1 115.9,256.0 116.1,256.0 116.3,256.0 116.4,256.1 116.6,256.1 116.7,256.1 116.9,256.2 117.1,256.2 117.2,256.0 117.4,255.9 117.5,256.2 117.7,255.9 117.9,256.1 118.0,256.1 118.2,255.9 118.3,256.0 118.5,256.0 118.7,255.9 118.8,255.9 119.0,255.9 119.1,256.0 119.3,255.9 119.5,255.9 119.6,255.8 119.8,255.7 119.9,256.0 120.1,255.6 120.3,255.8 120.4,256.0 120.6,255.8 120.7,256.1 120.9,256.2 121.1,256.0 121.2,256.2 121.4,256.1 121.5,256.3 121.7,256.2 121.9,256.3 122.0,256.4 122.2,256.4 122.3,256.4 122.5,256.3 122.7,256.1 122.8,256.2 123.0,256.2 123.1,256.0 123.3,256.2 123.4,256.1 123.6,256.2 123.8,256.0 123.9,256.1 124.1,256.2 124.2,256.1 124.4,256.2 124.6,255.9 124.7,256.2 124.9,255.9 125.0,255.8 125.2,255.9 125.4,255.9 125.5,256.0 125.7,255.9 125.8,256.1 126.0,256.0 126.2,256.4 126.3,256.3 126.5,256.5 126.6,256.2 126.8,256.3 127.0,256.1 127.1,256.2 127.3,256.2 127.4,255.9 127.6,255.9 127.8,255.8 127.9,255.8 128.1,256.0 128.2,256.0 128.4,256.0 128.6,256.1 128.7,256.2 128.9,256.1 129.0,256.1 129.2,256.2 129.4,256.1 129.5,256.1 129.7,256.2 129.8,256.2 130.0,256.2 130.2,256.1 130.3,256.2 130.5,256.2 130.6,256.0 130.8,256.0 131.0,256.1 131.1,255.8 131.3,256.0 131.4,256.0 131.6,256.0 131.7,256.1 131.9,256.0 132.1,256.1 132.2,256.0 132.4,256.4 132.5,256.3 132.7,256.3 132.9,256.2 133.0,256.2 133.2,256.2 133.3,256.2 133.5,256.1 133.7,256.0 133.8,256.1 134.0,256.0 134.1,255.9 134.3,255.9 134.5,256.1 134.6,256.1 134.8,255.9 134.9,256.2 135.1,256.1 135.3,255.9 135.4,255.9 135.6,255.9 135.7,256.0 135.9,255.8 136.1,255.7 136.2,255.8 136.4,255.5 136.5,255.7 136.7,255.7 136.9,255.6 137.0,255.6 137.2,255.5 137.3,255.5 137.5,255.4 137.7,255.2 137.8,255.2 138.0,255.2 138.1,255.3 138.3,255.4 138.5,255.2 138.6,255.1 138.8,255.1 138.9,255.2 139.1,255.3 139.2,255.2 139.4,255.1 139.6,255.0 139.7,255.2 139.9,255.1 140.0,255.1 140.2,255.2 140.4,255.4 140.5,255.2 140.7,255.5 140.8,255.5 141.0,255.4 141.2,255.5 141.3,255.5 141.5,255.4 141.6,255.5 141.8,255.5 142.0,255.6 142.1,255.6 142.3,255.7 142.4,255.7 142.6,255.3 142.8,255.7 142.9,255.5 143.1,255.7 143.2,255.6 143.4,255.7 143.6,255.9 143.7,255.6 143.9,255.8 144.0,255.8 144.2,255.7 144.4,255.9 144.5,255.9 144.7,255.9 144.8,255.8 145.0,256.3 145.2,255.9 145.3,255.8 145.5,255.9 145.6,255.9 145.8,255.9 146.0,256.0 146.1,255.9 146.3,256.1 146.4,256.0 146.6,255.9 146.8,256.0 146.9,256.0 147.1,256.2 147.2,256.2 147.4,256.1 147.5,256.2 147.7,256.2 147.9,256.4 148.0,256.1 148.2,256.1 148.3,256.1 148.5,255.9 148.7,255.9 148.8,255.8 149.0,255.7 149.1,255.8 149.3,255.9 149.5,256.0 149.6,255.9 149.8,256.0 149.9,256.2 150.1,255.9 150.3,256.0 150.4,256.0 150.6,255.8 150.7,255.8 150.9,255.7 151.1,255.6 151.2,255.6 151.4,255.4 151.5,255.4 151.7,255.4 151.9,255.3 152.0,255.3 152.2,255.1 152.3,255.2 152.5,255.1 152.7,255.0 152.8,254.8 153.0,254.4 153.1,254.5 153.3,254.1 153.5,254.0 153.6,253.9 153.8,253.4 153.9,253.3 154.1,252.9 154.3,252.6 154.4,252.2 154.6,252.0 154.7,251.6 154.9,251.5 155.1,251.2 155.2,250.5 155.4,250.2 155.5,249.8 155.7,249.3 155.8,248.8 156.0,248.5 156.2,248.0 156.3,247.4 156.5,247.1 156.6,246.7 156.8,246.2 157.0,245.9 157.1,245.9 157.3,245.6 157.4,245.3 157.6,245.3 157.8,245.6 157.9,245.6 158.1,245.9 158.2,246.2 158.4,246.6 158.6,246.6 158.7,246.9 158.9,247.4 159.0,247.9 159.2,248.0 159.4,248.2 159.5,248.6 159.7,248.9 159.8,249.1 160.0,249.5 160.2,249.9 160.3,250.4 160.5,250.8 160.6,251.4 160.8,251.8 161.0,252.3 161.1,252.8 161.3,253.4 161.4,253.7 161.6,254.1 161.8,254.5 161.9,254.7 162.1,255.0 162.2,254.9 162.4,255.3 162.6,255.3 162.7,255.4 162.9,255.5 163.0,255.8 163.2,255.8 163.3,255.7 163.5,255.6 163.7,255.8 163.8,255.9 164.0,256.2 164.1,255.9 164.3,256.0 164.5,256.2 164.6,256.3 164.8,256.3 164.9,256.3 165.1,256.4 165.3,256.2 165.4,256.1 165.6,256.0 165.7,256.2 165.9,256.2 166.1,256.1 166.2,256.2 166.4,256.0 166.5,256.2 166.7,256.0 166.9,255.9 167.0,256.0 167.2,255.9 167.3,255.9 167.5,256.2 167.7,256.3 167.8,256.4 168.0,256.2 168.1,256.2 168.3,256.1 168.5,256.3 168.6,256.2 168.8,256.1 168.9,256.2 169.1,256.1 169.3,255.9 169.4,256.2 169.6,256.1 169.7,256.1 169.9,256.1 170.1,256.3 170.2,256.3 170.4,256.3 170.5,256.0 170.7,256.1 170.9,256.2 171.0,256.0 171.2,256.0 171.3,255.9 171.5,256.3 171.6,256.2 171.8,256.1 172.0,256.0 172.1,255.9 172.3,255.9 172.4,256.0 172.6,255.9 172.8,256.1 172.9,256.0 173.1,256.0 173.2,256.3 173.4,256.2 173.6,256.3 173.7,256.2 173.9,256.0 174.0,256.2 174.2,256.0 174.4,256.3 174.5,256.0 174.7,255.9 174.8,256.1 175.0,256.1 175.2,256.0 175.3,255.9 175.5,256.1 175.6,255.8 175.8,255.9 176.0,255.8 176.1,255.9 176.3,256.0 176.4,255.9 176.6,256.0 176.8,256.0 176.9,255.8 177.1,255.9 177.2,256.0 177.4,256.0 177.6,256.2 177.7,256.0 177.9,256.3 178.0,256.3 178.2,256.2 178.4,256.0 178.5,256.1 178.7,256.1 178.8,256.1 179.0,256.1 179.2,256.1 179.3,256.0 179.5,256.2 179.6,255.8 179.8,256.0 179.9,256.1 180.1,255.9 180.3,256.2 180.4,256.0 180.6,256.1 180.7,256.0 180.9,256.1 181.1,256.2 181.2,256.2 181.4,256.2 181.5,256.4 181.7,256.2 181.9,256.1 182.0,256.2 182.2,256.2 182.3,256.2 182.5,256.3 182.7,256.0 182.8,256.1 183.0,256.1 183.1,256.0 183.3,255.9 183.5,255.6 183.6,255.8 183.8,256.1 183.9,255.8 184.1,255.9 184.3,256.1 184.4,256.2 184.6,256.3 184.7,256.0 184.9,256.2 185.1,256.3 185.2,256.1 185.4,256.2 185.5,256.4 185.7,256.4 185.9,256.3 186.0,256.0 186.2,256.2 186.3,256.3 186.5,256.2 186.7,256.2 186.8,256.5 187.0,256.2 187.1,256.1 187.3,256.3 187.4,256.2 187.6,256.3 187.8,256.3 187.9,256.4 188.1,256.4 188.2,256.2 188.4,256.3 188.6,256.3 188.7,256.2 188.9,256.3 189.0,256.3 189.2,256.0 189.4,256.2 189.5,256.4 189.7,256.3 189.8,256.2 190.0,256.3 190.2,256.1 190.3,256.1 190.5,256.3 190.6,256.3 190.8,256.3 191.0,256.3 191.1,256.3 191.3,256.3 191.4,256.4 191.6,256.4 191.8,256.3 191.9,256.3 192.1,256.0 192.2,256.0 192.4,256.2 192.6,256.2 192.7,256.1 192.9,256.1 193.0,256.1 193.2,256.3 193.4,256.3 193.5,256.2 193.7,256.4 193.8,256.4 194.0,256.4 194.2,256.3 194.3,256.4 194.5,256.2 194.6,256.5 194.8,256.4 195.0,256.2 195.1,256.5 195.3,256.4 195.4,256.2 195.6,256.5 195.7,256.1 195.9,256.2 196.1,256.3 196.2,256.0 196.4,256.4 196.5,256.3 196.7,256.3 196.9,256.2 197.0,256.4 197.2,256.2 197.3,256.2 197.5,256.2 197.7,256.1 197.8,256.4 198.0,256.1 198.1,256.1 198.3,256.1 198.5,256.1 198.6,256.1 198.8,256.1 198.9,255.9 199.1,255.9" fill="none" stroke="#ff0000" stroke-width="1.3" stroke-linejoin="round"/>
<polyline points="39.5,286.7 39.7,286.7 39.8,286.7 40.0,286.8 40.1,286.7 40.3,286.6 40.5,286.8 40.6,286.8 40.8,286.6 40.9,286.7 41.1,286.7 41.3,286.7 41.4,286.8 41.6,286.9 41.7,287.0 41.9,287.0 42.1,287.0 42.2,287.0 42.4,287.1 42.5,286.9 42.7,287.1 42.9,287.0 43.0,287.0 43.2,287.0 43.3,287.0 43.5,287.0 43.6,286.9 43.8,287.1 44.0,287.0 44.1,287.0 44.3,287.0 44.4,287.0 44.6,286.8 44.8,286.8 44.9,286.7 45.1,286.6 45.2,286.6 45.4,287.0 45.6,286.7 45.7,286.9 45.9,287.1 46.0,286.9 46.2,287.1 46.4,287.1 46.5,287.0 46.7,287.1 46.8,286.9 47.0,286.8 47.2,286.9 47.3,286.8 47.5,286.7 47.6,286.7 47.8,287.1 48.0,286.8 48.1,286.9 48.3,286.8 48.4,286.9 48.6,286.9 48.8,286.8 48.9,286.8 49.1,286.8 49.2,286.8 49.4,286.9 49.6,287.1 49.7,287.0 49.9,287.1 50.0,287.0 50.2,286.9 50.4,286.8 50.5,287.0 50.7,286.8 50.8,286.9 51.0,287.1 51.2,286.9 51.3,287.0 51.5,286.8 51.6,286.7 51.8,286.7 51.9,286.7 52.1,286.9 52.3,287.0 52.4,286.7 52.6,286.8 52.7,286.8 52.9,286.8 53.1,286.7 53.2,286.9 53.4,286.9 53.5,286.9 53.7,286.8 53.9,286.9 54.0,286.7 54.2,287.0 54.3,286.8 54.5,286.8 54.7,286.8 54.8,286.8 55.0,286.8 55.1,286.7 55.3,287.0 55.5,286.8 55.6,286.8 55.8,287.0 55.9,286.7 56.1,286.8 56.3,286.7 56.4,286.9 56.6,286.9 56.7,286.9 56.9,286.9 57.1,287.0 57.2,287.2 57.4,286.9 57.5,287.0 57.7,287.0 57.9,286.9 58.0,286.7 58.2,286.9 58.3,286.7 58.5,286.7 58.7,286.7 58.8,286.6 59.0,286.8 59.1,286.7 59.3,286.8 59.5,286.9 59.6,286.9 59.8,286.9 59.9,286.9 60.1,287.1 60.2,286.9 60.4,286.7 60.6,286.8 60.7,286.7 60.9,286.8 61.0,286.8 61.2,286.8 61.4,287.0 61.5,286.9 61.7,286.9 61.8,286.9 62.0,286.8 62.2,286.9 62.3,286.7 62.5,286.7 62.6,286.2 62.8,286.4 63.0,286.4 63.1,286.6 63.3,286.5 63.4,286.4 63.6,286.7 63.8,286.7 63.9,286.6 64.1,286.8 64.2,286.9 64.4,286.9 64.6,286.8 64.7,286.5 64.9,286.8 65.0,286.3 65.2,286.4 65.4,286.2 65.5,286.4 65.7,286.2 65.8,286.2 66.0,286.1 66.2,286.0 66.3,285.9 66.5,285.7 66.6,285.9 66.8,285.8 67.0,285.6 67.1,285.6 67.3,285.5 67.4,285.5 67.6,285.2 67.7,284.9 67.9,284.4 68.1,283.8 68.2,283.2 68.4,282.2 68.5,280.8 68.7,279.0 68.9,276.7 69.0,273.8 69.2,270.5 69.3,267.0 69.5,263.4 69.7,260.1 69.8,257.9 70.0,256.8 70.1,257.9 70.3,259.8 70.5,263.2 70.6,266.6 70.8,270.2 70.9,273.3 71.1,276.1 71.3,278.6 71.4,280.4 71.6,281.8 71.7,282.9 71.9,283.8 72.1,284.4 72.2,284.8 72.4,284.9 72.5,285.3 72.7,285.6 72.9,286.0 73.0,286.0 73.2,286.0 73.3,286.1 73.5,286.0 73.7,286.1 73.8,286.1 74.0,285.9 74.1,286.1 74.3,286.2 74.5,286.1 74.6,286.1 74.8,286.3 74.9,286.5 75.1,286.4 75.3,286.4 75.4,286.5 75.6,286.3 75.7,286.3 75.9,286.5 76.0,286.5 76.2,286.5 76.4,286.5 76.5,286.7 76.7,286.7 76.8,286.7 77.0,286.8 77.2,287.0 77.3,287.1 77.5,287.1 77.6,287.1 77.8,286.6 78.0,286.8 78.1,286.8 78.3,286.8 78.4,286.6 78.6,286.8 78.8,286.8 78.9,286.7 79.1,286.8 79.2,286.8 79.4,286.8 79.6,287.0 79.7,286.9 79.9,286.8 80.0,286.8 80.2,286.9 80.4,286.7 80.5,286.9 80.7,286.6 80.8,286.9 81.0,286.8 81.2,286.6 81.3,286.7 81.5,286.8 81.6,286.7 81.8,286.6 82.0,286.7 82.1,286.9 82.3,286.6 82.4,286.9 82.6,286.9 82.8,286.9 82.9,286.9 83.1,287.0 83.2,287.1 83.4,287.0 83.5,286.9 83.7,287.1 83.9,286.8 84.0,287.0 84.2,287.0 84.3,287.0 84.5,286.9 84.7,286.9 84.8,286.7 85.0,286.8 85.1,286.7 85.3,286.8 85.5,286.6 85.6,286.8 85.8,286.8 85.9,286.8 86.1,286.8 86.3,287.0 86.4,286.8 86.6,286.8 86.7,287.0 86.9,286.8 87.1,287.1 87.2,286.9 87.4,287.0 87.5,287.0 87.7,287.0 87.9,286.9 88.0,286.8 88.2,286.8 88.3,286.9 88.5,286.9 88.7,286.9 88.8,286.8 89.0,286.8 89.1,286.7 89.3,286.9 89.5,287.0 89.6,286.8 89.8,287.0 89.9,287.0 90.1,286.9 90.3,287.0 90.4,286.9 90.6,286.7 90.7,286.9 90.9,286.9 91.1,287.0 91.2,286.8 91.4,286.8 91.5,286.8 91.7,286.8 91.8,286.8 92.0,286.9 92.2,286.9 92.3,286.8 92.5,286.8 92.6,286.8 92.8,286.8 93.0,286.9 93.1,286.5 93.3,286.8 93.4,286.8 93.6,286.9 93.8,286.7 93.9,286.8 94.1,286.9 94.2,286.7 94.4,286.6 94.6,286.8 94.7,286.7 94.9,286.9 95.0,286.7 95.2,287.0 95.4,286.9 95.5,286.7 95.7,286.7 95.8,286.7 96.0,286.8 96.2,286.9 96.3,286.7 96.5,286.8 96.6,286.6 96.8,286.8 97.0,287.0 97.1,286.6 97.3,286.9 97.4,287.0 97.6,286.7 97.8,286.7 97.9,286.7 98.1,286.9 98.2,286.7 98.4,286.7 98.6,286.8 98.7,286.7 98.9,286.7 99.0,286.7 99.2,286.9 99.3,286.7 99.5,287.0 99.7,286.8 99.8,286.8 100.0,287.0 100.1,286.9 100.3,286.7 100.5,286.9 100.6,286.7 100.8,286.8 100.9,287.0 101.1,286.8 101.3,286.9 101.4,286.8 101.6,287.0 101.7,286.8 101.9,286.6 102.1,286.6 102.2,286.7 102.4,286.8 102.5,286.9 102.7,287.0 102.9,287.0 103.0,287.0 103.2,287.1 103.3,287.0 103.5,287.1 103.7,287.2 103.8,287.2 104.0,287.1 104.1,287.0 104.3,287.1 104.5,287.2 104.6,286.9 104.8,287.1 104.9,287.2 105.1,287.1 105.3,287.0 105.4,287.3 105.6,287.2 105.7,287.0 105.9,287.0 106.1,287.0 106.2,286.7 106.4,287.0 106.5,286.6 106.7,286.7 106.9,286.7 107.0,286.9 107.2,286.8 107.3,287.0 107.5,287.1 107.6,287.1 107.8,287.0 108.0,287.2 108.1,286.9 108.3,287.1 108.4,286.9 108.6,287.0 108.8,286.9 108.9,286.9 109.1,286.9 109.2,286.8 109.4,286.8 109.6,286.9 109.7,286.9 109.9,286.8 110.0,286.8 110.2,286.8 110.4,286.8 110.5,286.8 110.7,286.8 110.8,286.7 111.0,286.8 111.2,286.7 111.3,286.5 111.5,286.8 111.6,286.7 111.8,286.8 112.0,286.8 112.1,286.9 112.3,286.8 112.4,287.0 112.6,286.9 112.8,286.9 112.9,286.9 113.1,287.1 113.2,287.1 113.4,287.2 113.6,287.3 113.7,287.1 113.9,287.1 114.0,287.0 114.2,287.0 114.4,286.9 114.5,286.9 114.7,287.1 114.8,286.7 115.0,286.9 115.2,286.9 115.3,286.9 115.5,286.7 115.6,286.8 115.8,286.8 115.9,286.7 116.1,286.8 116.3,286.7 116.4,286.7 116.6,286.8 116.7,286.7 116.9,286.8 117.1,286.7 117.2,286.8 117.4,286.8 117.5,286.8 117.7,286.7 117.9,286.8 118.0,286.8 118.2,286.9 118.3,287.0 118.5,287.0 118.7,286.9 118.8,287.0 119.0,286.8 119.1,286.8 119.3,287.0 119.5,287.0 119.6,287.0 119.8,287.0 119.9,287.2 120.1,287.0 120.3,286.9 120.4,287.2 120.6,286.9 120.7,286.8 120.9,286.8 121.1,286.6 121.2,286.9 121.4,286.6 121.5,286.7 121.7,286.8 121.9,286.8 122.0,287.0 122.2,286.7 122.3,286.8 122.5,286.9 122.7,286.9 122.8,286.9 123.0,286.9 123.1,287.0 123.3,286.8 123.4,286.8 123.6,286.9 123.8,286.8 123.9,286.8 124.1,286.7 124.2,286.7 124.4,286.6 124.6,286.7 124.7,286.7 124.9,286.9 125.0,286.7 125.2,287.1 125.4,287.1 125.5,287.0 125.7,286.9 125.8,286.9 126.0,287.1 126.2,287.0 126.3,287.0 126.5,286.9 126.6,287.1 126.8,286.8 127.0,286.9 127.1,286.7 127.3,286.7 127.4,286.8 127.6,286.6 127.8,286.6 127.9,286.7 128.1,286.7 128.2,286.8 128.4,286.4 128.6,286.7 128.7,286.7 128.9,286.6 129.0,286.6 129.2,286.9 129.4,286.7 129.5,286.8 129.7,287.0 129.8,287.0 130.0,287.1 130.2,286.9 130.3,287.0 130.5,287.1 130.6,287.0 130.8,286.7 131.0,287.0 131.1,286.9 131.3,286.8 131.4,287.1 131.6,286.8 131.7,287.1 131.9,286.9 132.1,287.1 132.2,286.9 132.4,286.8 132.5,286.9 132.7,286.9 132.9,286.9 133.0,286.9 133.2,286.7 133.3,286.8 133.5,286.8 133.7,286.7 133.8,286.7 134.0,286.7 134.1,286.8 134.3,286.8 134.5,286.6 134.6,286.6 134.8,286.9 134.9,286.6 135.1,286.8 135.3,286.7 135.4,286.6 135.6,286.7 135.7,286.7 135.9,286.8 136.1,286.8 136.2,286.5 136.4,286.6 136.5,286.5 136.7,286.3 136.9,286.2 137.0,286.4 137.2,286.1 137.3,286.1 137.5,286.0 137.7,286.0 137.8,285.9 138.0,286.0 138.1,286.0 138.3,285.8 138.5,285.7 138.6,285.9 138.8,285.7 138.9,285.8 139.1,286.0 139.2,286.1 139.4,286.0 139.6,285.9 139.7,286.1 139.9,285.8 140.0,286.0 140.2,286.2 140.4,286.1 140.5,285.9 140.7,285.9 140.8,286.2 141.0,286.1 141.2,286.0 141.3,286.2 141.5,286.2 141.6,286.2 141.8,286.5 142.0,286.5 142.1,286.5 142.3,286.6 142.4,286.7 142.6,286.7 142.8,286.8 142.9,286.8 143.1,286.9 143.2,286.8 143.4,286.8 143.6,286.6 143.7,286.7 143.9,286.8 144.0,287.0 144.2,286.6 144.4,286.6 144.5,286.7 144.7,286.7 144.8,286.6 145.0,286.7 145.2,286.6 145.3,286.7 145.5,286.9 145.6,287.0 145.8,286.8 146.0,286.8 146.1,286.9 146.3,286.9 146.4,286.9 146.6,286.7 146.8,286.8 146.9,286.9 147.1,286.8 147.2,286.7 147.4,286.9 147.5,286.9 147.7,287.0 147.9,286.9 148.0,286.8 148.2,286.9 148.3,286.8 148.5,286.8 148.7,286.9 148.8,286.9 149.0,287.0 149.1,286.7 149.3,286.8 149.5,286.7 149.6,286.9 149.8,286.7 149.9,286.6 150.1,286.6 150.3,286.5 150.4,286.5 150.6,286.6 150.7,286.5 150.9,286.6 151.1,286.5 151.2,286.4 151.4,286.3 151.5,286.1 151.7,286.3 151.9,286.1 152.0,286.1 152.2,286.0 152.3,285.8 152.5,285.5 152.7,285.5 152.8,285.3 153.0,284.9 153.1,284.7 153.3,284.5 153.5,284.0 153.6,283.8 153.8,283.4 153.9,283.4 154.1,283.1 154.3,282.8 154.4,282.4 154.6,282.3 154.7,282.2 154.9,281.8 155.1,281.6 155.2,281.4 155.4,280.9 155.5,280.6 155.7,280.3 155.8,279.7 156.0,279.2 156.2,278.7 156.3,278.1 156.5,277.4 156.6,276.9 156.8,276.3 157.0,275.5 157.1,275.0 157.3,274.7 157.4,274.5 157.6,274.4 157.8,274.1 157.9,274.4 158.1,274.7 158.2,275.1 158.4,275.6 158.6,276.1 158.7,276.7 158.9,276.8 159.0,277.3 159.2,277.4 159.4,277.5 159.5,277.7 159.7,277.6 159.8,277.4 160.0,277.4 160.2,277.5 160.3,277.4 160.5,277.9 160.6,278.1 160.8,278.5 161.0,279.0 161.1,279.7 161.3,280.2 161.4,280.8 161.6,281.7 161.8,282.1 161.9,282.8 162.1,283.3 162.2,284.1 162.4,284.6 162.6,285.0 162.7,285.3 162.9,285.5 163.0,285.7 163.2,285.8 163.3,286.1 163.5,286.1 163.7,286.4 163.8,286.3 164.0,286.4 164.1,286.5 164.3,286.8 164.5,286.6 164.6,286.9 164.8,286.9 164.9,286.8 165.1,286.8 165.3,286.6 165.4,286.7 165.6,286.6 165.7,286.8 165.9,286.7 166.1,286.7 166.2,286.8 166.4,286.8 166.5,286.7 166.7,286.7 166.9,286.6 167.0,286.8 167.2,287.0 167.3,286.7 167.5,286.9 167.7,286.8 167.8,286.9 168.0,286.9 168.1,286.8 168.3,286.6 168.5,286.7 168.6,286.9 168.8,286.7 168.9,286.8 169.1,286.6 169.3,286.5 169.4,286.7 169.6,286.7 169.7,286.6 169.9,286.7 170.1,286.7 170.2,286.6 170.4,286.8 170.5,286.8 170.7,286.6 170.9,286.8 171.0,286.8 171.2,286.8 171.3,287.0 171.5,286.9 171.6,287.0 171.8,287.1 172.0,287.0 172.1,286.8 172.3,286.9 172.4,287.1 172.6,286.9 172.8,286.9 172.9,286.9 173.1,286.9 173.2,286.9 173.4,286.9 173.6,286.7 173.7,286.7 173.9,286.7 174.0,286.7 174.2,286.5 174.4,286.7 174.5,286.5 174.7,286.8 174.8,286.9 175.0,287.0 175.2,287.0 175.3,286.9 175.5,287.2 175.6,287.1 175.8,287.3 176.0,287.1 176.1,287.1 176.3,287.2 176.4,287.3 176.6,287.1 176.8,287.3 176.9,287.3 177.1,286.9 177.2,287.0 177.4,286.9 177.6,287.0 177.7,286.9 177.9,286.9 178.0,287.0 178.2,287.0 178.4,286.9 178.5,286.8 178.7,286.8 178.8,286.8 179.0,286.8 179.2,286.7 179.3,286.8 179.5,286.6 179.6,286.8 179.8,286.9 179.9,286.8 180.1,286.6 180.3,286.9 180.4,286.8 180.6,286.5 180.7,286.8 180.9,286.9 181.1,286.9 181.2,287.0 181.4,287.0 181.5,286.9 181.7,286.7 181.9,286.7 182.0,286.8 182.2,286.9 182.3,286.7 182.5,286.7 182.7,286.8 182.8,286.7 183.0,286.7 183.1,286.9 183.3,287.0 183.5,287.0 183.6,286.9 183.8,287.1 183.9,286.9 184.1,287.1 184.3,287.0 184.4,287.0 184.6,287.0 184.7,286.9 184.9,287.0 185.1,287.0 185.2,287.0 185.4,287.1 185.5,286.9 185.7,287.0 185.9,287.0 186.0,286.8 186.2,286.9 186.3,286.8 186.5,286.8 186.7,286.8 186.8,286.9 187.0,286.7 187.1,286.7 187.3,286.6 187.4,286.7 187.6,286.8 187.8,286.8 187.9,286.8 188.1,286.7 188.2,286.6 188.4,286.7 188.6,286.6 188.7,286.6 188.9,286.8 189.0,286.7 189.2,286.9 189.4,286.6 189.5,286.8 189.7,286.7 189.8,286.9 190.0,286.8 190.2,286.9 190.3,286.9 190.5,286.9 190.6,287.0 190.8,287.0 191.0,286.8 191.1,287.0 191.3,286.9 191.4,286.8 191.6,287.1 191.8,286.6 191.9,286.8 192.1,286.7 192.2,286.8 192.4,286.8 192.6,287.2 192.7,286.9 192.9,287.0 193.0,287.0 193.2,286.8 193.4,286.9 193.5,287.1 193.7,286.9 193.8,286.9 194.0,287.0 194.2,286.8 194.3,286.8 194.5,287.0 194.6,287.0 194.8,286.8 195.0,286.9 195.1,287.0 195.3,287.0 195.4,287.1 195.6,287.1 195.7,287.1 195.9,287.0 196.1,287.0 196.2,287.1 196.4,286.8 196.5,287.0 196.7,286.8 196.9,286.8 197.0,286.9 197.2,286.7 197.3,286.7 197.5,286.7 197.7,286.8 197.8,287.0 198.0,286.5 198.1,286.7 198.3,286.7 198.5,286.8 198.6,286.7 198.8,286.5 198.9,286.9 199.1,286.7" fill="none" stroke="#000" stroke-width="1.3" stroke-linejoin="round"/>
<polyline points="39.5,326.7 39.7,326.8 39.8,326.7 40.0,326.8 40.1,326.8 40.3,326.7 40.5,326.8 40.6,326.9 40.8,326.9 40.9,326.9 41.1,326.9 41.3,326.8 41.4,326.8 41.6,327.0 41.7,326.8 41.9,326.9 42.1,326.7 42.2,326.9 42.4,326.9 42.5,326.8 42.7,327.0 42.9,326.9 43.0,327.0 43.2,327.0 43.3,327.0 43.5,327.2 43.6,327.0 43.8,327.1 44.0,327.0 44.1,327.0 44.3,327.0 44.4,327.0 44.6,326.9 44.8,327.0 44.9,327.1 45.1,326.9 45.2,326.9 45.4,326.9 45.6,327.2 45.7,327.1 45.9,327.1 46.0,327.1 46.2,327.0 46.4,327.0 46.5,326.9 46.7,326.9 46.8,326.7 47.0,326.6 47.2,326.7 47.3,326.6 47.5,326.3 47.6,326.5 47.8,326.5 48.0,326.3 48.1,326.3 48.3,326.0 48.4,326.2 48.6,326.0 48.8,325.9 48.9,326.0 49.1,326.2 49.2,325.9 49.4,325.8 49.6,325.9 49.7,325.7 49.9,325.8 50.0,325.3 50.2,325.2 50.4,325.2 50.5,325.1 50.7,325.0 50.8,325.0 51.0,324.6 51.2,324.6 51.3,324.6 51.5,324.6 51.6,324.6 51.8,324.5 51.9,324.5 52.1,324.8 52.3,324.9 52.4,325.2 52.6,325.0 52.7,325.3 52.9,325.2 53.1,325.4 53.2,325.6 53.4,325.8 53.5,325.9 53.7,326.1 53.9,326.3 54.0,326.3 54.2,326.6 54.3,326.6 54.5,326.7 54.7,327.0 54.8,326.9 55.0,327.0 55.1,327.0 55.3,327.0 55.5,327.1 55.6,326.9 55.8,327.1 55.9,327.1 56.1,327.0 56.3,326.8 56.4,326.7 56.6,326.8 56.7,326.8 56.9,326.9 57.1,326.8 57.2,326.8 57.4,326.9 57.5,326.7 57.7,326.9 57.9,326.9 58.0,326.6 58.2,326.8 58.3,326.7 58.5,326.7 58.7,326.7 58.8,326.7 59.0,327.0 59.1,327.0 59.3,327.1 59.5,327.0 59.6,327.2 59.8,327.1 59.9,327.0 60.1,326.9 60.2,327.1 60.4,327.0 60.6,326.8 60.7,326.9 60.9,327.0 61.0,327.1 61.2,326.8 61.4,327.0 61.5,327.2 61.7,327.0 61.8,327.1 62.0,326.7 62.2,327.1 62.3,327.0 62.5,326.8 62.6,327.1 62.8,327.1 63.0,327.2 63.1,327.2 63.3,327.0 63.4,326.9 63.6,327.0 63.8,327.0 63.9,327.0 64.1,326.9 64.2,326.9 64.4,326.9 64.6,326.8 64.7,327.0 64.9,326.9 65.0,326.5 65.2,326.5 65.4,326.5 65.5,326.5 65.7,326.7 65.8,326.6 66.0,326.6 66.2,326.7 66.3,326.8 66.5,326.6 66.6,326.6 66.8,326.6 67.0,326.5 67.1,326.5 67.3,326.4 67.4,326.1 67.6,326.1 67.7,325.8 67.9,325.8 68.1,325.4 68.2,324.8 68.4,324.4 68.5,323.4 68.7,322.6 68.9,321.2 69.0,319.5 69.2,317.7 69.3,315.8 69.5,313.9 69.7,312.1 69.8,310.9 70.0,310.2 70.1,310.8 70.3,312.0 70.5,313.6 70.6,315.7 70.8,317.5 70.9,319.2 71.1,321.0 71.3,322.3 71.4,323.5 71.6,324.1 71.7,324.9 71.9,325.4 72.1,325.6 72.2,325.9 72.4,325.9 72.5,326.0 72.7,326.2 72.9,326.3 73.0,326.3 73.2,326.3 73.3,326.3 73.5,326.6 73.7,326.6 73.8,326.5 74.0,326.7 74.1,326.8 74.3,326.7 74.5,326.8 74.6,326.8 74.8,326.6 74.9,326.7 75.1,326.7 75.3,326.8 75.4,326.8 75.6,326.5 75.7,326.8 75.9,326.9 76.0,327.0 76.2,327.0 76.4,326.8 76.5,326.8 76.7,326.7 76.8,326.9 77.0,326.7 77.2,326.9 77.3,326.8 77.5,326.8 77.6,326.5 77.8,326.7 78.0,326.9 78.1,326.7 78.3,326.8 78.4,326.9 78.6,327.0 78.8,326.9 78.9,326.9 79.1,326.8 79.2,326.9 79.4,326.9 79.6,326.9 79.7,326.8 79.9,327.0 80.0,326.7 80.2,327.0 80.4,326.9 80.5,327.0 80.7,326.9 80.8,327.0 81.0,327.1 81.2,326.9 81.3,326.9 81.5,326.9 81.6,327.0 81.8,326.8 82.0,327.0 82.1,326.9 82.3,326.9 82.4,326.9 82.6,326.8 82.8,327.1 82.9,327.0 83.1,327.1 83.2,326.8 83.4,326.8 83.5,327.0 83.7,326.8 83.9,326.9 84.0,326.9 84.2,326.9 84.3,326.9 84.5,326.8 84.7,327.0 84.8,326.8 85.0,326.6 85.1,326.8 85.3,326.5 85.5,326.7 85.6,326.7 85.8,326.8 85.9,327.1 86.1,326.9 86.3,327.0 86.4,327.1 86.6,327.1 86.7,327.2 86.9,326.9 87.1,326.9 87.2,327.0 87.4,326.8 87.5,326.8 87.7,327.0 87.9,326.9 88.0,326.9 88.2,326.8 88.3,326.8 88.5,326.9 88.7,326.9 88.8,327.0 89.0,327.0 89.1,326.8 89.3,326.8 89.5,326.9 89.6,326.7 89.8,326.8 89.9,326.9 90.1,326.8 90.3,326.9 90.4,327.0 90.6,326.9 90.7,327.0 90.9,327.1 91.1,327.1 91.2,326.9 91.4,327.1 91.5,326.9 91.7,326.9 91.8,326.8 92.0,326.8 92.2,326.8 92.3,327.0 92.5,326.9 92.6,327.0 92.8,327.1 93.0,327.0 93.1,327.1 93.3,327.1 93.4,327.0 93.6,327.2 93.8,327.0 93.9,327.2 94.1,327.1 94.2,327.2 94.4,327.3 94.6,327.2 94.7,327.1 94.9,327.2 95.0,327.2 95.2,327.1 95.4,327.1 95.5,327.2 95.7,327.3 95.8,327.0 96.0,327.2 96.2,327.2 96.3,327.2 96.5,327.1 96.6,327.3 96.8,327.0 97.0,327.2 97.1,327.3 97.3,326.9 97.4,327.1 97.6,327.1 97.8,327.1 97.9,326.9 98.1,326.9 98.2,326.8 98.4,326.9 98.6,326.9 98.7,326.7 98.9,326.8 99.0,326.9 99.2,327.0 99.3,327.0 99.5,327.1 99.7,327.1 99.8,327.1 100.0,326.9 100.1,327.2 100.3,327.3 100.5,327.0 100.6,327.1 100.8,327.2 100.9,327.3 101.1,327.2 101.3,327.3 101.4,327.1 101.6,327.2 101.7,327.2 101.9,327.1 102.1,327.2 102.2,327.2 102.4,327.2 102.5,327.1 102.7,327.2 102.9,327.0 103.0,327.1 103.2,326.9 103.3,327.0 103.5,327.1 103.7,327.0 103.8,327.1 104.0,326.9 104.1,327.2 104.3,327.1 104.5,327.0 104.6,327.0 104.8,327.0 104.9,327.1 105.1,326.9 105.3,326.8 105.4,326.9 105.6,327.1 105.7,327.0 105.9,327.0 106.1,327.1 106.2,327.1 106.4,327.2 106.5,327.0 106.7,327.1 106.9,327.2 107.0,327.1 107.2,327.2 107.3,327.4 107.5,327.1 107.6,327.2 107.8,327.1 108.0,327.0 108.1,327.0 108.3,326.8 108.4,326.7 108.6,327.0 108.8,326.8 108.9,327.0 109.1,326.9 109.2,327.0 109.4,327.1 109.6,327.1 109.7,327.0 109.9,327.2 110.0,327.0 110.2,327.1 110.4,327.3 110.5,327.1 110.7,327.2 110.8,327.0 111.0,327.1 111.2,327.0 111.3,327.1 111.5,327.0 111.6,327.0 111.8,327.1 112.0,327.0 112.1,327.0 112.3,327.2 112.4,327.0 112.6,327.0 112.8,327.0 112.9,327.1 113.1,327.0 113.2,327.0 113.4,327.0 113.6,327.2 113.7,327.0 113.9,326.9 114.0,327.1 114.2,327.1 114.4,327.2 114.5,327.0 114.7,327.3 114.8,327.1 115.0,327.1 115.2,327.0 115.3,327.2 115.5,327.1 115.6,327.3 115.8,327.1 115.9,327.0 116.1,327.1 116.3,327.0 116.4,327.2 116.6,327.0 116.7,327.1 116.9,327.0 117.1,327.0 117.2,326.9 117.4,326.8 117.5,326.8 117.7,326.7 117.9,326.8 118.0,326.8 118.2,326.7 118.3,327.0 118.5,327.1 118.7,327.1 118.8,327.2 119.0,327.1 119.1,327.0 119.3,326.9 119.5,327.1 119.6,327.1 119.8,327.1 119.9,327.0 120.1,327.0 120.3,326.9 120.4,326.9 120.6,326.9 120.7,326.9 120.9,326.7 121.1,326.7 121.2,326.9 121.4,326.9 121.5,326.7 121.7,327.0 121.9,326.8 122.0,327.2 122.2,327.2 122.3,327.1 122.5,326.9 122.7,326.8 122.8,326.9 123.0,326.9 123.1,326.7 123.3,326.8 123.4,326.9 123.6,326.9 123.8,326.8 123.9,326.8 124.1,327.0 124.2,327.0 124.4,327.2 124.6,327.3 124.7,327.3 124.9,327.2 125.0,327.3 125.2,327.4 125.4,327.2 125.5,327.3 125.7,327.3 125.8,327.1 126.0,327.0 126.2,327.0 126.3,327.0 126.5,326.9 126.6,327.0 126.8,326.9 127.0,327.1 127.1,327.1 127.3,326.9 127.4,327.2 127.6,327.1 127.8,327.3 127.9,327.2 128.1,327.1 128.2,327.2 128.4,327.0 128.6,327.1 128.7,327.1 128.9,327.0 129.0,327.1 129.2,327.0 129.4,327.1 129.5,326.9 129.7,327.1 129.8,327.1 130.0,327.1 130.2,327.0 130.3,327.3 130.5,326.9 130.6,326.9 130.8,326.8 131.0,326.9 131.1,326.7 131.3,326.9 131.4,326.7 131.6,326.9 131.7,326.9 131.9,327.1 132.1,327.0 132.2,327.0 132.4,327.1 132.5,326.9 132.7,326.9 132.9,327.1 133.0,326.8 133.2,327.1 133.3,326.9 133.5,326.9 133.7,327.0 133.8,327.0 134.0,326.9 134.1,327.0 134.3,327.1 134.5,327.1 134.6,327.0 134.8,326.9 134.9,326.8 135.1,326.8 135.3,326.9 135.4,326.9 135.6,326.8 135.7,326.9 135.9,326.7 136.1,326.7 136.2,326.7 136.4,326.9 136.5,326.5 136.7,326.7 136.9,326.7 137.0,326.6 137.2,326.7 137.3,326.6 137.5,326.5 137.7,326.2 137.8,326.3 138.0,326.2 138.1,326.2 138.3,326.2 138.5,326.1 138.6,326.2 138.8,326.3 138.9,326.2 139.1,326.1 139.2,325.9 139.4,326.2 139.6,326.3 139.7,326.2 139.9,326.2 140.0,326.3 140.2,326.2 140.4,326.4 140.5,326.2 140.7,326.2 140.8,326.3 141.0,326.2 141.2,326.4 141.3,326.5 141.5,326.4 141.6,326.6 141.8,326.6 142.0,326.7 142.1,326.8 142.3,326.7 142.4,326.8 142.6,326.7 142.8,326.8 142.9,326.8 143.1,327.0 143.2,326.9 143.4,326.7 143.6,327.0 143.7,326.9 143.9,326.9 144.0,327.0 144.2,327.0 144.4,326.9 144.5,327.0 144.7,327.0 144.8,326.9 145.0,326.9 145.2,326.9 145.3,326.8 145.5,326.8 145.6,326.9 145.8,327.0 146.0,326.9 146.1,326.9 146.3,327.0 146.4,327.0 146.6,327.1 146.8,327.2 146.9,327.0 147.1,327.1 147.2,327.0 147.4,327.0 147.5,327.3 147.7,327.2 147.9,326.9 148.0,327.1 148.2,327.0 148.3,327.1 148.5,327.0 148.7,326.9 148.8,326.9 149.0,326.9 149.1,326.9 149.3,326.9 149.5,326.9 149.6,327.0 149.8,326.9 149.9,327.0 150.1,327.0 150.3,327.0 150.4,327.1 150.6,326.8 150.7,326.9 150.9,326.9 151.1,327.0 151.2,326.9 151.4,326.9 151.5,326.9 151.7,326.6 151.9,326.8 152.0,326.6 152.2,326.6 152.3,326.6 152.5,326.7 152.7,326.7 152.8,326.8 153.0,326.7 153.1,326.6 153.3,326.6 153.5,326.7 153.6,326.8 153.8,326.6 153.9,326.5 154.1,326.5 154.3,326.4 154.4,326.3 154.6,326.1 154.7,325.7 154.9,325.6 155.1,325.5 155.2,325.1 155.4,324.5 155.5,324.4 155.7,323.8 155.8,323.7 156.0,323.0 156.2,322.4 156.3,322.0 156.5,321.3 156.6,320.9 156.8,320.2 157.0,319.6 157.1,319.3 157.3,318.6 157.4,318.4 157.6,317.9 157.8,317.4 157.9,317.1 158.1,317.2 158.2,317.0 158.4,316.7 158.6,317.0 158.7,316.9 158.9,317.1 159.0,317.4 159.2,317.9 159.4,318.5 159.5,319.0 159.7,319.4 159.8,320.3 160.0,320.8 160.2,321.3 160.3,321.9 160.5,322.3 160.6,322.8 160.8,323.3 161.0,323.7 161.1,324.0 161.3,324.3 161.4,324.8 161.6,325.0 161.8,325.5 161.9,325.5 162.1,325.8 162.2,325.9 162.4,326.0 162.6,326.3 162.7,326.3 162.9,326.3 163.0,326.4 163.2,326.6 163.3,326.4 163.5,326.7 163.7,326.7 163.8,326.6 164.0,326.8 164.1,326.9 164.3,326.8 164.5,326.8 164.6,327.0 164.8,327.0 164.9,326.7 165.1,326.8 165.3,326.8 165.4,326.8 165.6,326.6 165.7,326.9 165.9,326.8 166.1,326.8 166.2,326.9 166.4,326.7 166.5,326.8 166.7,326.8 166.9,326.7 167.0,326.8 167.2,326.9 167.3,326.8 167.5,327.0 167.7,326.8 167.8,326.9 168.0,326.8 168.1,326.9 168.3,326.8 168.5,327.0 168.6,326.9 168.8,326.9 168.9,327.0 169.1,326.9 169.3,326.9 169.4,326.8 169.6,326.8 169.7,327.0 169.9,327.0 170.1,327.0 170.2,327.1 170.4,326.9 170.5,327.2 170.7,326.9 170.9,326.9 171.0,326.9 171.2,326.7 171.3,326.9 171.5,326.9 171.6,326.8 171.8,326.7 172.0,326.8 172.1,326.7 172.3,327.1 172.4,327.0 172.6,326.9 172.8,326.8 172.9,327.0 173.1,327.0 173.2,326.8 173.4,326.8 173.6,326.7 173.7,326.9 173.9,326.8 174.0,327.0 174.2,326.8 174.4,326.7 174.5,326.7 174.7,326.8 174.8,326.7 175.0,327.0 175.2,327.0 175.3,327.0 175.5,327.0 175.6,327.3 175.8,327.4 176.0,327.1 176.1,327.1 176.3,327.2 176.4,326.8 176.6,326.8 176.8,326.6 176.9,326.6 177.1,326.7 177.2,326.8 177.4,326.8 177.6,326.8 177.7,326.9 177.9,327.0 178.0,327.3 178.2,327.1 178.4,327.0 178.5,327.1 178.7,327.0 178.8,326.8 179.0,326.8 179.2,326.8 179.3,326.8 179.5,326.8 179.6,326.9 179.8,326.9 179.9,327.0 180.1,326.9 180.3,327.1 180.4,327.1 180.6,327.0 180.7,327.2 180.9,327.3 181.1,327.1 181.2,327.5 181.4,327.2 181.5,327.2 181.7,327.1 181.9,327.1 182.0,327.0 182.2,326.8 182.3,326.9 182.5,326.7 182.7,326.8 182.8,327.0 183.0,326.7 183.1,326.5 183.3,326.7 183.5,326.7 183.6,326.8 183.8,326.8 183.9,326.8 184.1,326.8 184.3,327.0 184.4,327.1 184.6,326.9 184.7,327.3 184.9,327.2 185.1,327.1 185.2,327.1 185.4,327.0 185.5,327.1 185.7,327.1 185.9,327.1 186.0,327.0 186.2,327.0 186.3,326.9 186.5,327.1 186.7,327.0 186.8,326.9 187.0,326.7 187.1,326.8 187.3,326.7 187.4,327.1 187.6,327.0 187.8,326.9 187.9,326.9 188.1,327.2 188.2,327.1 188.4,326.8 188.6,326.9 188.7,326.8 188.9,326.7 189.0,326.9 189.2,327.1 189.4,327.0 189.5,326.9 189.7,326.9 189.8,327.0 190.0,327.1 190.2,326.8 190.3,326.8 190.5,327.2 190.6,327.1 190.8,327.3 191.0,327.2 191.1,327.3 191.3,327.1 191.4,327.3 191.6,327.3 191.8,327.2 191.9,327.1 192.1,327.1 192.2,326.9 192.4,326.8 192.6,327.0 192.7,327.1 192.9,327.0 193.0,326.8 193.2,327.1 193.4,327.1 193.5,327.0 193.7,326.8 193.8,327.1 194.0,327.1 194.2,327.1 194.3,326.9 194.5,327.0 194.6,327.3 194.8,327.3 195.0,327.2 195.1,327.2 195.3,327.3 195.4,327.2 195.6,327.2 195.7,327.2 195.9,327.3 196.1,327.2 196.2,327.3 196.4,327.2 196.5,327.0 196.7,327.2 196.9,326.8 197.0,326.9 197.2,327.0 197.3,327.0 197.5,326.7 197.7,327.1 197.8,327.1 198.0,327.1 198.1,326.8 198.3,326.9 198.5,327.0 198.6,326.9 198.8,327.1 198.9,326.8 199.1,327.0" fill="none" stroke="#ff0000" stroke-width="1.3" stroke-linejoin="round"/>
<polyline points="39.5,357.4 39.7,357.4 39.8,357.3 40.0,357.3 40.1,357.4 40.3,357.5 40.5,357.6 40.6,357.4 40.8,357.5 40.9,357.6 41.1,357.6 41.3,357.5 41.4,357.5 41.6,357.7 41.7,357.5 41.9,357.5 42.1,357.3 42.2,357.5 42.4,357.4 42.5,357.6 42.7,357.3 42.9,357.4 43.0,357.5 43.2,357.6 43.3,357.3 43.5,357.7 43.6,357.5 43.8,357.6 44.0,357.6 44.1,357.5 44.3,357.5 44.4,357.2 44.6,357.4 44.8,357.3 44.9,357.2 45.1,357.2 45.2,357.5 45.4,357.3 45.6,357.3 45.7,357.5 45.9,357.3 46.0,357.4 46.2,357.4 46.4,357.5 46.5,357.6 46.7,357.6 46.8,357.4 47.0,357.5 47.2,357.5 47.3,357.5 47.5,357.5 47.6,357.4 47.8,357.4 48.0,357.4 48.1,357.3 48.3,357.4 48.4,357.3 48.6,357.2 48.8,357.3 48.9,357.2 49.1,357.3 49.2,357.3 49.4,357.2 49.6,357.1 49.7,357.4 49.9,357.4 50.0,357.4 50.2,357.5 50.4,357.5 50.5,357.5 50.7,357.6 50.8,357.8 51.0,357.6 51.2,357.6 51.3,357.4 51.5,357.5 51.6,357.6 51.8,357.4 51.9,357.5 52.1,357.5 52.3,357.5 52.4,357.6 52.6,357.5 52.7,357.6 52.9,357.5 53.1,357.8 53.2,357.6 53.4,357.6 53.5,357.7 53.7,357.5 53.9,357.6 54.0,357.5 54.2,357.6 54.3,357.5 54.5,357.6 54.7,357.5 54.8,357.4 55.0,357.4 55.1,357.4 55.3,357.4 55.5,357.5 55.6,357.5 55.8,357.5 55.9,357.3 56.1,357.5 56.3,357.3 56.4,357.5 56.6,357.5 56.7,357.5 56.9,357.5 57.1,357.5 57.2,357.8 57.4,357.6 57.5,357.6 57.7,357.7 57.9,357.6 58.0,357.6 58.2,357.4 58.3,357.4 58.5,357.8 58.7,357.4 58.8,357.4 59.0,357.4 59.1,357.5 59.3,357.2 59.5,357.3 59.6,357.3 59.8,357.3 59.9,357.3 60.1,357.3 60.2,357.3 60.4,357.1 60.6,357.5 60.7,357.3 60.9,357.4 61.0,357.6 61.2,357.4 61.4,357.5 61.5,357.4 61.7,357.5 61.8,357.4 62.0,357.4 62.2,357.5 62.3,357.4 62.5,357.3 62.6,357.3 62.8,357.4 63.0,357.2 63.1,357.4 63.3,357.4 63.4,357.5 63.6,357.2 63.8,357.3 63.9,357.1 64.1,357.2 64.2,357.2 64.4,357.3 64.6,357.2 64.7,357.2 64.9,357.1 65.0,357.1 65.2,357.1 65.4,357.1 65.5,357.1 65.7,357.1 65.8,357.1 66.0,356.7 66.2,356.8 66.3,356.8 66.5,356.7 66.6,356.7 66.8,356.6 67.0,356.4 67.1,356.3 67.3,356.3 67.4,356.0 67.6,355.8 67.7,355.6 67.9,355.2 68.1,354.8 68.2,354.1 68.4,353.2 68.5,351.9 68.7,350.4 68.9,348.6 69.0,346.1 69.2,343.8 69.3,340.9 69.5,338.0 69.7,335.4 69.8,333.6 70.0,332.8 70.1,333.5 70.3,335.5 70.5,337.9 70.6,340.8 70.8,343.7 70.9,346.3 71.1,348.7 71.3,350.6 71.4,352.3 71.6,353.2 71.7,354.2 71.9,355.0 72.1,355.3 72.2,355.6 72.4,355.8 72.5,356.1 72.7,356.2 72.9,356.4 73.0,356.3 73.2,356.4 73.3,356.6 73.5,356.7 73.7,356.9 73.8,356.6 74.0,356.9 74.1,356.8 74.3,357.1 74.5,357.1 74.6,357.1 74.8,357.1 74.9,357.1 75.1,357.0 75.3,357.1 75.4,357.2 75.6,357.2 75.7,357.3 75.9,357.3 76.0,357.7 76.2,357.6 76.4,357.7 76.5,357.6 76.7,357.5 76.8,357.5 77.0,357.5 77.2,357.4 77.3,357.4 77.5,357.3 77.6,357.1 77.8,357.2 78.0,357.3 78.1,357.4 78.3,357.1 78.4,357.1 78.6,357.3 78.8,357.2 78.9,357.2 79.1,357.4 79.2,357.3 79.4,357.2 79.6,357.5 79.7,357.6 79.9,357.6 80.0,357.7 80.2,357.6 80.4,357.6 80.5,357.5 80.7,357.4 80.8,357.6 81.0,357.6 81.2,357.5 81.3,357.6 81.5,357.3 81.6,357.1 81.8,357.2 82.0,357.2 82.1,357.0 82.3,357.1 82.4,357.3 82.6,357.4 82.8,357.3 82.9,357.4 83.1,357.4 83.2,357.4 83.4,357.4 83.5,357.5 83.7,357.5 83.9,357.5 84.0,357.3 84.2,357.8 84.3,357.5 84.5,357.5 84.7,357.3 84.8,357.4 85.0,357.2 85.1,357.3 85.3,357.2 85.5,357.4 85.6,357.2 85.8,357.3 85.9,357.4 86.1,357.7 86.3,357.4 86.4,357.6 86.6,357.5 86.7,357.5 86.9,357.5 87.1,357.5 87.2,357.5 87.4,357.4 87.5,357.3 87.7,357.3 87.9,357.2 88.0,357.3 88.2,357.3 88.3,357.3 88.5,357.4 88.7,357.3 88.8,357.4 89.0,357.4 89.1,357.1 89.3,357.4 89.5,357.4 89.6,357.4 89.8,357.3 89.9,357.5 90.1,357.5 90.3,357.5 90.4,357.4 90.6,357.5 90.7,357.5 90.9,357.6 91.1,357.5 91.2,357.4 91.4,357.3 91.5,357.3 91.7,357.3 91.8,357.2 92.0,357.3 92.2,357.3 92.3,357.3 92.5,357.5 92.6,357.5 92.8,357.6 93.0,357.5 93.1,357.9 93.3,357.8 93.4,357.7 93.6,357.7 93.8,357.6 93.9,357.5 94.1,357.7 94.2,357.4 94.4,357.5 94.6,357.6 94.7,357.3 94.9,357.4 95.0,357.3 95.2,357.5 95.4,357.3 95.5,357.3 95.7,357.6 95.8,357.6 96.0,357.4 96.2,357.7 96.3,357.6 96.5,357.9 96.6,357.8 96.8,357.5 97.0,357.5 97.1,357.4 97.3,357.5 97.4,357.5 97.6,357.5 97.8,357.5 97.9,357.4 98.1,357.5 98.2,357.7 98.4,357.7 98.6,357.6 98.7,357.7 98.9,357.6 99.0,357.6 99.2,357.4 99.3,357.6 99.5,357.4 99.7,357.5 99.8,357.2 100.0,357.5 100.1,357.6 100.3,357.3 100.5,357.6 100.6,357.6 100.8,357.5 100.9,357.4 101.1,357.6 101.3,357.5 101.4,357.6 101.6,357.5 101.7,357.4 101.9,357.6 102.1,357.4 102.2,357.6 102.4,357.3 102.5,357.4 102.7,357.4 102.9,357.6 103.0,357.3 103.2,357.4 103.3,357.6 103.5,357.5 103.7,357.7 103.8,357.7 104.0,357.5 104.1,357.5 104.3,357.3 104.5,357.4 104.6,357.4 104.8,357.4 104.9,357.3 105.1,357.4 105.3,357.4 105.4,357.6 105.6,357.5 105.7,357.5 105.9,357.6 106.1,357.7 106.2,357.6 106.4,357.7 106.5,357.6 106.7,357.8 106.9,357.7 107.0,357.6 107.2,357.6 107.3,357.5 107.5,357.6 107.6,357.4 107.8,357.3 108.0,357.3 108.1,357.5 108.3,357.5 108.4,357.5 108.6,357.5 108.8,357.4 108.9,357.3 109.1,357.3 109.2,357.2 109.4,357.4 109.6,357.3 109.7,357.4 109.9,357.4 110.0,357.3 110.2,357.5 110.4,357.6 110.5,357.4 110.7,357.5 110.8,357.6 111.0,357.5 111.2,357.7 111.3,357.6 111.5,357.7 111.6,357.6 111.8,357.5 112.0,357.6 112.1,357.6 112.3,357.6 112.4,357.5 112.6,357.5 112.8,357.6 112.9,357.6 113.1,357.6 113.2,357.6 113.4,357.6 113.6,357.5 113.7,357.5 113.9,357.6 114.0,357.5 114.2,357.3 114.4,357.3 114.5,357.3 114.7,357.3 114.8,357.4 115.0,357.4 115.2,357.3 115.3,357.2 115.5,357.5 115.6,357.6 115.8,357.4 115.9,357.5 116.1,357.4 116.3,357.5 116.4,357.4 116.6,357.4 116.7,357.4 116.9,357.2 117.1,357.5 117.2,357.4 117.4,357.2 117.5,357.5 117.7,357.4 117.9,357.5 118.0,357.5 118.2,357.4 118.3,357.4 118.5,357.4 118.7,357.5 118.8,357.7 119.0,357.6 119.1,357.4 119.3,357.3 119.5,357.3 119.6,357.3 119.8,357.1 119.9,357.1 120.1,357.4 120.3,357.4 120.4,357.2 120.6,357.2 120.7,357.3 120.9,357.5 121.1,357.6 121.2,357.5 121.4,357.4 121.5,357.5 121.7,357.6 121.9,357.5 122.0,357.5 122.2,357.6 122.3,357.5 122.5,357.3 122.7,357.4 122.8,357.2 123.0,357.4 123.1,357.3 123.3,357.2 123.4,357.3 123.6,357.4 123.8,357.1 123.9,357.4 124.1,357.6 124.2,357.3 124.4,357.4 124.6,357.4 124.7,357.5 124.9,357.3 125.0,357.4 125.2,357.6 125.4,357.7 125.5,357.8 125.7,357.7 125.8,357.7 126.0,357.7 126.2,357.6 126.3,357.4 126.5,357.4 126.6,357.7 126.8,357.7 127.0,357.5 127.1,357.5 127.3,357.6 127.4,357.5 127.6,357.7 127.8,357.5 127.9,357.5 128.1,357.7 128.2,357.3 128.4,357.5 128.6,357.3 128.7,357.4 128.9,357.4 129.0,357.4 129.2,357.4 129.4,357.3 129.5,357.4 129.7,357.2 129.8,357.3 130.0,357.2 130.2,357.4 130.3,357.2 130.5,357.4 130.6,357.3 130.8,357.3 131.0,357.4 131.1,357.3 131.3,357.1 131.4,357.4 131.6,357.1 131.7,357.4 131.9,357.3 132.1,357.2 132.2,357.4 132.4,357.4 132.5,357.7 132.7,357.5 132.9,357.7 133.0,357.7 133.2,357.5 133.3,357.6 133.5,357.8 133.7,357.6 133.8,357.6 134.0,357.5 134.1,357.4 134.3,357.5 134.5,357.4 134.6,357.3 134.8,357.4 134.9,357.5 135.1,357.5 135.3,357.2 135.4,357.2 135.6,357.2 135.7,357.3 135.9,357.2 136.1,357.1 136.2,357.1 136.4,357.3 136.5,357.4 136.7,357.1 136.9,356.9 137.0,357.1 137.2,356.9 137.3,356.9 137.5,356.9 137.7,356.7 137.8,356.5 138.0,356.4 138.1,356.6 138.3,356.4 138.5,356.5 138.6,356.3 138.8,356.4 138.9,356.2 139.1,356.3 139.2,356.4 139.4,356.5 139.6,356.6 139.7,356.5 139.9,356.5 140.0,356.8 140.2,356.6 140.4,356.7 140.5,356.7 140.7,356.8 140.8,356.7 141.0,356.7 141.2,356.7 141.3,356.6 141.5,356.7 141.6,356.7 141.8,356.8 142.0,356.8 142.1,356.9 142.3,356.9 142.4,356.9 142.6,356.9 142.8,357.2 142.9,357.3 143.1,357.2 143.2,357.5 143.4,357.5 143.6,357.4 143.7,357.2 143.9,357.2 144.0,357.2 144.2,357.4 144.4,357.1 144.5,357.0 144.7,357.0 144.8,357.1 145.0,357.3 145.2,357.1 145.3,357.1 145.5,357.5 145.6,357.5 145.8,357.4 146.0,357.5 146.1,357.4 146.3,357.1 146.4,357.2 146.6,357.3 146.8,357.1 146.9,357.1 147.1,357.3 147.2,357.2 147.4,357.1 147.5,357.2 147.7,357.2 147.9,357.4 148.0,357.2 148.2,357.5 148.3,357.2 148.5,357.3 148.7,357.2 148.8,357.3 149.0,357.4 149.1,357.4 149.3,357.4 149.5,357.3 149.6,357.3 149.8,357.3 149.9,357.3 150.1,357.2 150.3,357.3 150.4,357.2 150.6,357.2 150.7,357.1 150.9,357.1 151.1,356.9 151.2,356.9 151.4,356.8 151.5,357.0 151.7,357.0 151.9,357.1 152.0,357.0 152.2,357.4 152.3,357.1 152.5,357.3 152.7,357.2 152.8,356.8 153.0,357.0 153.1,357.1 153.3,356.7 153.5,357.0 153.6,356.7 153.8,356.6 153.9,356.6 154.1,356.2 154.3,356.2 154.4,356.0 154.6,355.7 154.7,355.6 154.9,355.6 155.1,355.0 155.2,354.7 155.4,354.2 155.5,353.7 155.7,353.3 155.8,352.9 156.0,352.2 156.2,351.6 156.3,350.8 156.5,350.4 156.6,349.2 156.8,348.7 157.0,347.9 157.1,347.0 157.3,346.1 157.4,345.3 157.6,344.7 157.8,344.1 157.9,343.4 158.1,343.0 158.2,342.8 158.4,342.7 158.6,342.5 158.7,342.6 158.9,342.8 159.0,343.5 159.2,343.7 159.4,344.1 159.5,344.8 159.7,345.6 159.8,346.2 160.0,346.6 160.2,347.5 160.3,348.3 160.5,349.1 160.6,349.8 160.8,350.7 161.0,351.4 161.1,352.2 161.3,352.8 161.4,353.2 161.6,353.7 161.8,354.3 161.9,354.9 162.1,355.2 162.2,355.5 162.4,355.5 162.6,356.0 162.7,356.3 162.9,356.5 163.0,356.6 163.2,356.9 163.3,357.0 163.5,357.5 163.7,357.3 163.8,357.3 164.0,357.3 164.1,357.3 164.3,357.3 164.5,357.3 164.6,357.3 164.8,357.4 164.9,357.4 165.1,357.3 165.3,357.5 165.4,357.3 165.6,357.2 165.7,357.1 165.9,357.3 166.1,357.4 166.2,357.5 166.4,357.6 166.5,357.4 166.7,357.4 166.9,357.6 167.0,357.6 167.2,357.4 167.3,357.4 167.5,357.5 167.7,357.3 167.8,357.2 168.0,357.0 168.1,357.4 168.3,357.4 168.5,357.4 168.6,357.4 168.8,357.3 168.9,357.5 169.1,357.5 169.3,357.6 169.4,357.4 169.6,357.6 169.7,357.4 169.9,357.5 170.1,357.2 170.2,357.3 170.4,357.4 170.5,357.3 170.7,357.2 170.9,357.3 171.0,357.4 171.2,357.2 171.3,357.2 171.5,357.4 171.6,357.3 171.8,357.5 172.0,357.4 172.1,357.3 172.3,357.5 172.4,357.7 172.6,357.5 172.8,357.6 172.9,357.6 173.1,357.4 173.2,357.6 173.4,357.5 173.6,357.5 173.7,357.3 173.9,357.3 174.0,357.3 174.2,357.6 174.4,357.6 174.5,357.7 174.7,357.8 174.8,357.6 175.0,357.5 175.2,357.5 175.3,357.6 175.5,357.3 175.6,357.3 175.8,357.2 176.0,357.2 176.1,357.4 176.3,357.3 176.4,357.3 176.6,357.5 176.8,357.5 176.9,357.5 177.1,357.5 177.2,357.5 177.4,357.4 177.6,357.5 177.7,357.4 177.9,357.5 178.0,357.5 178.2,357.5 178.4,357.4 178.5,357.4 178.7,357.3 178.8,357.7 179.0,357.4 179.2,357.5 179.3,357.5 179.5,357.2 179.6,357.2 179.8,357.2 179.9,357.1 180.1,357.1 180.3,357.1 180.4,357.4 180.6,357.4 180.7,357.4 180.9,357.4 181.1,357.3 181.2,357.6 181.4,357.7 181.5,357.5 181.7,357.6 181.9,357.5 182.0,357.5 182.2,357.4 182.3,357.4 182.5,357.4 182.7,357.5 182.8,357.5 183.0,357.5 183.1,357.4 183.3,357.3 183.5,357.5 183.6,357.1 183.8,357.4 183.9,357.3 184.1,357.3 184.3,357.2 184.4,357.3 184.6,357.1 184.7,357.1 184.9,357.3 185.1,357.1 185.2,357.4 185.4,357.4 185.5,357.0 185.7,357.2 185.9,357.4 186.0,357.4 186.2,357.4 186.3,357.5 186.5,357.6 186.7,357.7 186.8,357.8 187.0,357.7 187.1,357.7 187.3,357.5 187.4,357.6 187.6,357.4 187.8,357.7 187.9,357.7 188.1,357.5 188.2,357.3 188.4,357.4 188.6,357.4 188.7,357.5 188.9,357.5 189.0,357.5 189.2,357.2 189.4,357.6 189.5,357.4 189.7,357.4 189.8,357.6 190.0,357.5 190.2,357.4 190.3,357.4 190.5,357.5 190.6,357.6 190.8,357.7 191.0,357.5 191.1,357.5 191.3,357.7 191.4,357.4 191.6,357.6 191.8,357.5 191.9,357.5 192.1,357.5 192.2,357.5 192.4,357.5 192.6,357.4 192.7,357.5 192.9,357.5 193.0,357.6 193.2,357.6 193.4,357.5 193.5,357.6 193.7,357.6 193.8,357.8 194.0,357.6 194.2,357.5 194.3,357.5 194.5,357.6 194.6,357.5 194.8,357.5 195.0,357.5 195.1,357.6 195.3,357.6 195.4,357.6 195.6,357.4 195.7,357.5 195.9,357.3 196.1,357.6 196.2,357.6 196.4,357.6 196.5,357.4 196.7,357.5 196.9,357.3 197.0,357.3 197.2,357.1 197.3,357.2 197.5,357.3 197.7,357.5 197.8,357.6 198.0,357.4 198.1,357.5 198.3,357.5 198.5,357.4 198.6,357.2 198.8,357.3 198.9,357.2 199.1,357.3" fill="none" stroke="#000" stroke-width="1.3" stroke-linejoin="round"/>
<rect x="39.5" y="21.8" width="159.6" height="349.8" fill="none" stroke="#000" stroke-width="1.7"/>
<line x1="39.5" y1="371.6" x2="39.5" y2="367.40000000000003" stroke="#000" stroke-width="1.6"/>
<line x1="55.46" y1="371.6" x2="55.46" y2="369.6" stroke="#000" stroke-width="1.4"/>
<line x1="71.42" y1="371.6" x2="71.42" y2="367.40000000000003" stroke="#000" stroke-width="1.6"/>
<line x1="87.38" y1="371.6" x2="87.38" y2="369.6" stroke="#000" stroke-width="1.4"/>
<line x1="103.34" y1="371.6" x2="103.34" y2="367.40000000000003" stroke="#000" stroke-width="1.6"/>
<line x1="119.3" y1="371.6" x2="119.3" y2="369.6" stroke="#000" stroke-width="1.4"/>
<line x1="135.26" y1="371.6" x2="135.26" y2="367.40000000000003" stroke="#000" stroke-width="1.6"/>
<line x1="151.22" y1="371.6" x2="151.22" y2="369.6" stroke="#000" stroke-width="1.4"/>
<line x1="167.18" y1="371.6" x2="167.18" y2="367.40000000000003" stroke="#000" stroke-width="1.6"/>
<line x1="183.14" y1="371.6" x2="183.14" y2="369.6" stroke="#000" stroke-width="1.4"/>
<line x1="199.1" y1="371.6" x2="199.1" y2="367.40000000000003" stroke="#000" stroke-width="1.6"/>
<text x="38.3" y="383.8" font-family='"Liberation Sans", sans-serif' font-size="8.6" font-weight="normal" text-anchor="middle" fill="#000">1200</text>
<text x="70.2" y="383.8" font-family='"Liberation Sans", sans-serif' font-size="8.6" font-weight="normal" text-anchor="middle" fill="#000">1600</text>
<text x="102.1" y="383.8" font-family='"Liberation Sans", sans-serif' font-size="8.6" font-weight="normal" text-anchor="middle" fill="#000">2000</text>
<text x="134.1" y="383.8" font-family='"Liberation Sans", sans-serif' font-size="8.6" font-weight="normal" text-anchor="middle" fill="#000">2400</text>
<text x="166.0" y="383.8" font-family='"Liberation Sans", sans-serif' font-size="8.6" font-weight="normal" text-anchor="middle" fill="#000">2800</text>
<text x="197.9" y="383.8" font-family='"Liberation Sans", sans-serif' font-size="8.6" font-weight="normal" text-anchor="middle" fill="#000">3200</text>
<line x1="109.7" y1="31" x2="131" y2="31" stroke="#000" stroke-width="1.3"/>
<line x1="109.7" y1="46.3" x2="131" y2="46.3" stroke="#ff0000" stroke-width="1.3"/>
<text x="135" y="34.2" font-family='"Liberation Sans", sans-serif' font-size="10.4" font-weight="bold" text-anchor="start" fill="#000">Pristine</text>
<text x="135" y="50.6" font-family='"Liberation Sans", sans-serif' font-size="10.4" font-weight="bold" text-anchor="start" fill="#000">Excimer UV</text>
<text x="135" y="63.5" font-family='"Liberation Sans", sans-serif' font-size="10.4" font-weight="bold" text-anchor="start" fill="#000">(240 s)</text>
<text x="63.9" y="61.5" font-family='"Liberation Sans", sans-serif' font-size="14.0" font-weight="normal" text-anchor="start" fill="#000">G</text>
<text x="44.4" y="108.3" font-family='"Liberation Sans", sans-serif' font-size="14.0" font-weight="normal" text-anchor="start" fill="#000">D</text>
<text x="146.0" y="96.9" font-family='"Liberation Sans", sans-serif' font-size="14.5" font-weight="normal" text-anchor="start" fill="#000">2D</text>
<text x="194.5" y="109.8" font-family='"Liberation Sans", sans-serif' font-size="11.0" font-weight="bold" text-anchor="end" fill="#000">MLG</text>
<text x="194.5" y="182.3" font-family='"Liberation Sans", sans-serif' font-size="11.0" font-weight="bold" text-anchor="end" fill="#000">FLG</text>
<text x="194.5" y="252.2" font-family='"Liberation Sans", sans-serif' font-size="11.0" font-weight="bold" text-anchor="end" fill="#000">TLG</text>
<text x="194.5" y="323.1" font-family='"Liberation Sans", sans-serif' font-size="11.0" font-weight="bold" text-anchor="end" fill="#000">BLG</text>
<text x="119.0" y="406.6" font-family='"Liberation Sans", sans-serif' font-size="14.2" font-weight="bold" text-anchor="middle" fill="#000">Raman Shift (cm<tspan dy="-5" font-size="9">-1</tspan><tspan dy="5">)</tspan></text>
<text x="28.9" y="191.2" font-family='"Liberation Sans", sans-serif' font-size="14.0" font-weight="bold" text-anchor="middle" fill="#000" transform="rotate(-90 28.9 191.2)">Intensity (a.u.)</text>
<text x="212.5" y="18.6" font-family='"Liberation Sans", sans-serif' font-size="24" font-weight="bold" text-anchor="start" fill="#000">(b)</text>
<polyline points="252.2,112.5 252.4,112.6 252.6,112.9 252.8,113.3 253.0,113.3 253.1,113.2 253.3,113.4 253.5,113.4 253.7,113.0 253.9,113.0 254.1,112.7 254.3,112.6 254.5,112.7 254.7,112.5 254.8,112.5 255.0,112.6 255.2,112.5 255.4,113.0 255.6,113.1 255.8,113.3 256.0,113.5 256.2,113.2 256.3,113.4 256.5,113.0 256.7,113.4 256.9,113.3 257.1,113.4 257.3,113.2 257.5,113.1 257.7,113.2 257.9,112.7 258.0,112.9 258.2,112.9 258.4,112.5 258.6,112.3 258.8,112.5 259.0,112.5 259.2,112.7 259.4,112.8 259.6,112.7 259.7,113.0 259.9,113.3 260.1,113.2 260.3,113.4 260.5,113.4 260.7,113.5 260.9,113.4 261.1,112.6 261.2,112.7 261.4,112.5 261.6,112.0 261.8,111.8 262.0,111.5 262.2,111.3 262.4,111.5 262.6,111.5 262.8,111.4 262.9,111.5 263.1,111.1 263.3,110.6 263.5,110.8 263.7,110.5 263.9,110.2 264.1,110.9 264.3,110.9 264.5,111.2 264.6,111.8 264.8,111.2 265.0,111.4 265.2,111.9 265.4,111.8 265.6,111.8 265.8,112.5 266.0,112.6 266.1,112.5 266.3,112.8 266.5,113.0 266.7,113.1 266.9,112.4 267.1,112.7 267.3,112.6 267.5,112.5 267.7,112.9 267.8,112.8 268.0,113.1 268.2,113.7 268.4,113.7 268.6,113.9 268.8,114.0 269.0,113.6 269.2,113.4 269.4,112.7 269.5,112.5 269.7,112.5 269.9,112.2 270.1,112.1 270.3,112.3 270.5,112.3 270.7,112.1 270.9,112.2 271.1,112.6 271.2,112.8 271.4,112.6 271.6,112.7 271.8,112.6 272.0,112.4 272.2,112.9 272.4,112.6 272.6,112.5 272.7,112.6 272.9,112.9 273.1,112.5 273.3,112.1 273.5,112.1 273.7,111.9 273.9,111.9 274.1,112.1 274.3,112.2 274.4,112.3 274.6,112.3 274.8,112.4 275.0,111.9 275.2,112.2 275.4,111.9 275.6,111.6 275.8,110.8 276.0,111.2 276.1,110.2 276.3,110.2 276.5,110.6 276.7,110.5 276.9,110.6 277.1,110.4 277.3,110.6 277.5,110.6 277.6,110.5 277.8,110.1 278.0,109.9 278.2,109.6 278.4,109.0 278.6,108.4 278.8,107.9 279.0,105.7 279.2,103.8 279.3,100.5 279.5,96.4 279.7,90.5 279.9,83.5 280.1,74.8 280.3,64.8 280.5,54.7 280.7,45.4 280.9,39.4 281.0,38.0 281.2,42.1 281.4,49.6 281.6,59.0 281.8,69.2 282.0,78.5 282.2,86.4 282.4,93.3 282.5,98.2 282.7,101.9 282.9,104.3 283.1,106.2 283.3,107.7 283.5,108.2 283.7,109.2 283.9,109.7 284.1,110.0 284.2,110.5 284.4,110.6 284.6,111.0 284.8,110.9 285.0,110.9 285.2,111.5 285.4,111.1 285.6,110.9 285.8,111.4 285.9,111.0 286.1,110.5 286.3,111.3 286.5,111.8 286.7,112.0 286.9,112.6 287.1,112.5 287.3,112.5 287.4,112.1 287.6,112.1 287.8,112.2 288.0,112.0 288.2,112.0 288.4,111.6 288.6,111.9 288.8,111.9 289.0,112.6 289.1,112.7 289.3,113.3 289.5,113.4 289.7,113.7 289.9,113.1 290.1,113.2 290.3,113.5 290.5,112.9 290.7,112.4 290.8,112.5 291.0,112.3 291.2,112.1 291.4,111.7 291.6,112.1 291.8,111.8 292.0,112.6 292.2,112.3 292.4,112.3 292.5,112.5 292.7,112.5 292.9,112.2 293.1,112.7 293.3,112.3 293.5,111.9 293.7,112.4 293.9,112.3 294.0,112.1 294.2,111.9 294.4,111.4 294.6,111.9 294.8,112.5 295.0,112.6 295.2,113.1 295.4,113.0 295.6,113.3 295.7,113.3 295.9,112.9 296.1,112.8 296.3,112.9 296.5,113.0 296.7,113.0 296.9,112.8 297.1,112.8 297.3,112.7 297.4,112.7 297.6,112.7 297.8,112.6 298.0,112.5 298.2,112.7 298.4,112.6 298.6,112.9 298.8,112.8 298.9,113.2 299.1,113.0 299.3,113.1 299.5,112.9 299.7,112.8 299.9,112.6 300.1,112.4 300.3,112.1 300.5,112.0 300.6,112.3 300.8,112.4 301.0,112.6 301.2,112.8 301.4,112.5 301.6,112.1 301.8,112.4 302.0,112.1 302.2,112.4 302.3,112.9 302.5,113.0 302.7,113.0 302.9,113.0 303.1,113.0 303.3,112.7 303.5,113.0 303.7,112.8 303.8,113.0 304.0,112.3 304.2,112.4 304.4,111.9 304.6,112.3 304.8,112.0 305.0,112.4 305.2,112.3 305.4,112.4 305.5,112.8 305.7,113.2 305.9,113.5 306.1,114.1 306.3,113.6 306.5,112.6 306.7,112.6 306.9,112.0 307.1,112.2 307.2,112.6 307.4,112.3 307.6,112.5 307.8,112.9 308.0,112.7 308.2,112.9 308.4,112.6 308.6,112.5 308.8,112.9 308.9,112.8 309.1,113.1 309.3,113.2 309.5,113.5 309.7,113.4 309.9,113.3 310.1,112.9 310.3,112.6 310.4,112.5 310.6,112.4 310.8,112.6 311.0,112.8 311.2,112.0 311.4,112.0 311.6,112.5 311.8,111.9 312.0,112.2 312.1,112.0 312.3,112.5 312.5,112.6 312.7,112.6 312.9,112.9 313.1,112.9 313.3,113.1 313.5,113.5 313.7,113.4 313.8,113.1 314.0,113.1 314.2,113.1 314.4,113.1 314.6,112.9 314.8,112.5 315.0,112.5 315.2,112.1 315.3,112.3 315.5,112.6 315.7,113.1 315.9,113.2 316.1,113.9 316.3,113.5 316.5,113.2 316.7,113.0 316.9,112.9 317.0,112.7 317.2,112.5 317.4,112.3 317.6,111.9 317.8,112.3 318.0,112.3 318.2,112.5 318.4,113.1 318.6,112.5 318.7,112.8 318.9,112.9 319.1,112.7 319.3,112.7 319.5,112.2 319.7,112.3 319.9,112.6 320.1,112.4 320.2,112.8 320.4,112.5 320.6,112.5 320.8,112.5 321.0,112.4 321.2,112.5 321.4,112.4 321.6,112.6 321.8,112.6 321.9,112.8 322.1,112.4 322.3,112.3 322.5,112.6 322.7,112.5 322.9,112.2 323.1,112.1 323.3,111.8 323.5,112.2 323.6,111.7 323.8,112.6 324.0,112.4 324.2,112.9 324.4,113.0 324.6,112.8 324.8,113.0 325.0,112.8 325.1,112.5 325.3,112.5 325.5,113.3 325.7,113.4 325.9,113.4 326.1,113.4 326.3,113.4 326.5,113.3 326.7,113.4 326.8,112.9 327.0,113.1 327.2,113.0 327.4,113.4 327.6,113.5 327.8,113.1 328.0,113.1 328.2,113.2 328.4,112.9 328.5,112.7 328.7,113.2 328.9,113.3 329.1,113.3 329.3,113.8 329.5,113.4 329.7,112.8 329.9,113.0 330.1,112.7 330.2,112.9 330.4,112.5 330.6,112.3 330.8,112.4 331.0,112.3 331.2,112.1 331.4,112.6 331.6,112.7 331.7,113.2 331.9,113.2 332.1,112.1 332.3,111.8 332.5,111.4 332.7,111.2 332.9,111.5 333.1,111.9 333.3,112.4 333.4,112.3 333.6,112.3 333.8,112.4 334.0,113.0 334.2,113.1 334.4,112.6 334.6,112.5 334.8,112.7 335.0,112.8 335.1,112.7 335.3,112.8 335.5,113.1 335.7,113.2 335.9,113.3 336.1,113.8 336.3,113.4 336.5,113.1 336.6,113.1 336.8,112.9 337.0,113.1 337.2,113.2 337.4,112.7 337.6,113.0 337.8,113.1 338.0,112.8 338.2,112.4 338.3,112.4 338.5,112.5 338.7,112.6 338.9,112.8 339.1,113.1 339.3,113.3 339.5,113.2 339.7,112.7 339.9,113.0 340.0,112.6 340.2,112.5 340.4,112.3 340.6,112.7 340.8,112.4 341.0,112.8 341.2,112.8 341.4,112.6 341.5,112.9 341.7,113.4 341.9,113.3 342.1,113.0 342.3,113.1 342.5,113.1 342.7,112.9 342.9,113.2 343.1,113.3 343.2,113.5 343.4,113.8 343.6,113.2 343.8,113.2 344.0,112.7 344.2,112.5 344.4,112.1 344.6,111.9 344.8,111.4 344.9,111.0 345.1,110.5 345.3,110.8 345.5,110.6 345.7,110.8 345.9,111.1 346.1,110.8 346.3,110.8 346.4,110.5 346.6,111.0 346.8,110.7 347.0,110.8 347.2,110.7 347.4,110.9 347.6,110.8 347.8,111.1 348.0,111.4 348.1,112.1 348.3,112.4 348.5,113.0 348.7,113.3 348.9,112.8 349.1,113.1 349.3,113.4 349.5,113.3 349.7,112.8 349.8,112.6 350.0,112.3 350.2,112.3 350.4,112.5 350.6,112.3 350.8,112.0 351.0,112.2 351.2,112.2 351.4,111.9 351.5,111.9 351.7,111.7 351.9,111.9 352.1,112.4 352.3,112.4 352.5,112.5 352.7,112.7 352.9,112.9 353.0,113.3 353.2,112.9 353.4,113.2 353.6,113.0 353.8,112.5 354.0,112.9 354.2,112.6 354.4,112.3 354.6,112.1 354.7,112.4 354.9,111.6 355.1,111.6 355.3,112.0 355.5,111.9 355.7,111.5 355.9,111.8 356.1,111.7 356.3,111.6 356.4,111.7 356.6,111.3 356.8,111.3 357.0,111.5 357.2,110.9 357.4,111.1 357.6,111.2 357.8,110.9 357.9,110.9 358.1,110.8 358.3,111.0 358.5,110.8 358.7,110.9 358.9,110.8 359.1,110.4 359.3,110.2 359.5,110.3 359.6,110.1 359.8,109.7 360.0,109.8 360.2,109.1 360.4,108.5 360.6,107.2 360.8,106.6 361.0,105.5 361.2,103.6 361.3,101.3 361.5,99.5 361.7,97.1 361.9,94.5 362.1,91.5 362.3,88.7 362.5,85.6 362.7,82.9 362.8,80.1 363.0,78.1 363.2,76.6 363.4,75.3 363.6,75.4 363.8,75.7 364.0,77.1 364.2,79.1 364.4,81.7 364.5,84.0 364.7,87.3 364.9,89.7 365.1,92.7 365.3,95.5 365.5,97.9 365.7,99.8 365.9,101.7 366.1,103.9 366.2,105.1 366.4,106.8 366.6,107.7 366.8,108.6 367.0,109.7 367.2,110.1 367.4,110.4 367.6,110.3 367.8,110.8 367.9,111.0 368.1,111.1 368.3,111.4 368.5,111.1 368.7,111.6 368.9,111.7 369.1,111.7 369.3,112.2 369.4,111.5 369.6,111.7 369.8,111.6 370.0,111.1 370.2,111.6 370.4,112.0 370.6,112.6 370.8,113.0 371.0,112.7 371.1,112.3 371.3,111.6 371.5,111.7 371.7,111.5 371.9,112.1 372.1,112.4 372.3,112.8 372.5,112.8 372.7,112.6 372.8,112.1 373.0,112.0 373.2,111.6 373.4,112.1 373.6,112.1 373.8,112.7 374.0,112.9 374.2,113.3 374.3,113.4 374.5,113.1 374.7,113.2 374.9,112.9 375.1,113.2 375.3,112.6 375.5,112.7 375.7,112.7 375.9,111.7 376.0,112.0 376.2,112.2 376.4,112.5 376.6,112.3 376.8,112.4 377.0,112.1 377.2,112.2 377.4,111.8 377.6,112.2 377.7,111.7 377.9,112.0 378.1,112.9 378.3,112.7 378.5,112.5 378.7,113.2 378.9,113.0 379.1,113.1 379.2,113.1 379.4,113.5 379.6,113.8 379.8,113.7 380.0,114.0 380.2,113.4 380.4,113.2 380.6,112.7 380.8,111.8 380.9,112.2 381.1,112.6 381.3,113.1 381.5,113.2 381.7,113.3 381.9,113.2 382.1,112.9 382.3,112.8 382.5,112.5 382.6,112.4 382.8,112.3 383.0,112.9 383.2,112.8 383.4,112.9 383.6,113.0 383.8,112.8 384.0,113.1 384.1,112.7 384.3,113.1 384.5,113.0 384.7,113.4 384.9,113.1 385.1,113.0 385.3,113.0 385.5,113.1 385.7,112.8 385.8,112.9 386.0,112.8 386.2,113.2 386.4,112.7 386.6,112.3 386.8,112.8 387.0,113.2 387.2,112.5 387.4,113.4 387.5,112.8 387.7,113.0 387.9,112.7 388.1,112.8 388.3,112.7 388.5,112.8 388.7,112.8 388.9,113.5 389.1,113.2 389.2,113.2 389.4,112.8 389.6,112.3 389.8,112.1 390.0,112.0 390.2,112.0 390.4,112.3 390.6,112.4 390.7,112.3 390.9,112.1 391.1,112.1 391.3,112.2 391.5,112.3 391.7,112.4 391.9,112.2 392.1,112.3 392.3,112.2 392.4,112.4 392.6,112.3 392.8,112.3 393.0,112.2 393.2,112.3 393.4,112.9 393.6,112.6 393.8,113.0 394.0,113.2 394.1,113.6 394.3,113.9 394.5,113.7 394.7,113.4 394.9,114.1 395.1,114.0 395.3,113.4 395.5,113.6 395.6,113.5 395.8,112.8 396.0,113.1 396.2,112.7 396.4,112.3 396.6,112.0 396.8,112.2 397.0,112.4 397.2,112.7 397.3,112.6 397.5,112.9 397.7,112.6 397.9,111.9 398.1,112.5 398.3,112.3 398.5,112.3 398.7,112.7 398.9,112.5 399.0,113.1 399.2,112.7 399.4,113.1 399.6,113.6 399.8,113.7 400.0,113.3 400.2,113.1 400.4,113.4 400.5,113.1 400.7,113.1 400.9,113.3 401.1,113.0 401.3,113.4 401.5,112.8 401.7,113.4 401.9,112.7 402.1,112.7 402.2,112.6 402.4,112.6 402.6,112.4 402.8,112.1 403.0,111.9 403.2,111.7 403.4,111.5 403.6,111.2 403.8,111.1 403.9,111.0 404.1,111.6 404.3,111.7 404.5,111.8 404.7,112.0 404.9,111.9 405.1,111.7 405.3,111.5 405.5,111.3 405.6,111.7 405.8,111.5 406.0,111.0 406.2,111.2 406.4,111.4 406.6,111.5 406.8,111.0 407.0,111.1 407.1,111.3 407.3,110.9 407.5,111.3 407.7,111.7 407.9,111.9 408.1,112.6 408.3,112.5 408.5,112.5 408.7,112.4 408.8,112.9 409.0,112.9 409.2,112.8 409.4,113.0 409.6,112.9 409.8,113.3 410.0,113.3 410.2,113.2 410.4,113.0 410.5,112.9" fill="none" stroke="#ff00ff" stroke-width="1.38" stroke-linejoin="round"/>
<polyline points="252.2,172.5 252.4,172.6 252.6,172.7 252.8,172.6 253.0,173.0 253.1,172.9 253.3,173.1 253.5,173.8 253.7,174.0 253.9,174.5 254.1,174.6 254.3,174.4 254.5,174.8 254.7,174.3 254.8,174.5 255.0,174.1 255.2,174.2 255.4,174.0 255.6,174.0 255.8,174.1 256.0,173.6 256.2,173.9 256.3,173.6 256.5,173.8 256.7,173.9 256.9,173.8 257.1,173.9 257.3,173.7 257.5,174.0 257.7,173.8 257.9,174.0 258.0,173.6 258.2,173.8 258.4,173.1 258.6,173.2 258.8,172.6 259.0,172.8 259.2,172.8 259.4,173.1 259.6,173.0 259.7,173.4 259.9,173.5 260.1,173.8 260.3,174.2 260.5,174.0 260.7,174.3 260.9,174.0 261.1,173.7 261.2,174.0 261.4,173.7 261.6,173.8 261.8,173.2 262.0,173.1 262.2,172.8 262.4,172.2 262.6,172.5 262.8,172.0 262.9,172.2 263.1,172.1 263.3,171.7 263.5,171.3 263.7,171.6 263.9,171.6 264.1,171.8 264.3,171.7 264.5,171.6 264.6,171.9 264.8,171.9 265.0,172.5 265.2,172.1 265.4,172.2 265.6,172.4 265.8,172.1 266.0,172.2 266.1,172.3 266.3,172.2 266.5,172.6 266.7,173.1 266.9,173.3 267.1,173.2 267.3,173.4 267.5,173.5 267.7,173.2 267.8,173.3 268.0,173.2 268.2,173.4 268.4,173.3 268.6,173.3 268.8,173.2 269.0,173.6 269.2,173.6 269.4,174.4 269.5,174.3 269.7,174.2 269.9,174.3 270.1,174.0 270.3,173.9 270.5,173.7 270.7,173.4 270.9,173.2 271.1,173.1 271.2,173.2 271.4,173.0 271.6,173.2 271.8,173.3 272.0,173.7 272.2,173.9 272.4,173.1 272.6,173.1 272.7,172.7 272.9,172.4 273.1,172.8 273.3,172.8 273.5,173.4 273.7,173.6 273.9,173.4 274.1,173.8 274.3,173.5 274.4,173.4 274.6,172.8 274.8,172.9 275.0,172.8 275.2,172.9 275.4,172.9 275.6,172.3 275.8,172.7 276.0,172.7 276.1,172.9 276.3,172.7 276.5,172.5 276.7,172.7 276.9,172.5 277.1,172.5 277.3,172.2 277.5,171.7 277.6,171.3 277.8,170.5 278.0,170.7 278.2,170.0 278.4,169.3 278.6,168.1 278.8,167.0 279.0,166.2 279.2,164.7 279.3,162.7 279.5,158.9 279.7,153.0 279.9,146.1 280.1,137.3 280.3,127.2 280.5,117.2 280.7,108.0 280.9,101.7 281.0,100.2 281.2,104.2 281.4,111.9 281.6,120.9 281.8,130.7 282.0,140.1 282.2,147.4 282.4,154.7 282.5,159.2 282.7,163.1 282.9,165.9 283.1,166.9 283.3,168.0 283.5,169.4 283.7,169.4 283.9,170.1 284.1,170.7 284.2,171.3 284.4,171.8 284.6,171.8 284.8,171.8 285.0,172.0 285.2,172.1 285.4,172.3 285.6,172.1 285.8,172.5 285.9,172.0 286.1,172.3 286.3,172.8 286.5,173.0 286.7,173.2 286.9,173.3 287.1,173.6 287.3,173.6 287.4,173.6 287.6,173.3 287.8,173.0 288.0,172.9 288.2,172.9 288.4,172.7 288.6,172.0 288.8,172.1 289.0,172.1 289.1,172.6 289.3,173.6 289.5,173.2 289.7,173.0 289.9,172.9 290.1,172.7 290.3,172.5 290.5,172.8 290.7,172.8 290.8,173.1 291.0,172.5 291.2,172.8 291.4,173.1 291.6,172.6 291.8,173.1 292.0,172.8 292.2,173.2 292.4,173.4 292.5,173.2 292.7,173.3 292.9,173.1 293.1,173.4 293.3,173.6 293.5,173.4 293.7,173.5 293.9,173.5 294.0,173.5 294.2,172.9 294.4,173.1 294.6,172.9 294.8,173.0 295.0,173.0 295.2,172.7 295.4,172.8 295.6,172.6 295.7,172.8 295.9,172.9 296.1,173.2 296.3,173.4 296.5,173.6 296.7,173.5 296.9,173.9 297.1,173.9 297.3,173.8 297.4,173.3 297.6,173.3 297.8,172.9 298.0,172.7 298.2,173.3 298.4,173.3 298.6,174.0 298.8,174.2 298.9,173.9 299.1,174.0 299.3,173.6 299.5,173.4 299.7,173.6 299.9,173.6 300.1,173.2 300.3,173.4 300.5,173.5 300.6,173.7 300.8,173.9 301.0,173.9 301.2,173.7 301.4,173.6 301.6,173.6 301.8,173.2 302.0,173.5 302.2,173.4 302.3,173.3 302.5,173.2 302.7,174.1 302.9,173.5 303.1,173.5 303.3,173.5 303.5,173.3 303.7,173.2 303.8,173.4 304.0,173.3 304.2,173.8 304.4,173.6 304.6,174.1 304.8,174.2 305.0,173.9 305.2,174.7 305.4,174.1 305.5,174.2 305.7,173.7 305.9,173.6 306.1,173.2 306.3,174.0 306.5,173.9 306.7,174.3 306.9,174.4 307.1,174.2 307.2,173.7 307.4,173.2 307.6,172.9 307.8,172.5 308.0,172.6 308.2,172.6 308.4,172.9 308.6,173.2 308.8,173.1 308.9,173.2 309.1,173.1 309.3,172.9 309.5,173.1 309.7,173.4 309.9,173.9 310.1,174.2 310.3,174.8 310.4,174.1 310.6,173.6 310.8,173.9 311.0,173.4 311.2,173.4 311.4,174.1 311.6,174.0 311.8,174.1 312.0,174.2 312.1,173.7 312.3,173.5 312.5,172.8 312.7,172.5 312.9,172.7 313.1,173.3 313.3,173.6 313.5,173.5 313.7,174.0 313.8,173.8 314.0,174.1 314.2,173.9 314.4,174.1 314.6,173.9 314.8,173.8 315.0,173.7 315.2,173.7 315.3,173.3 315.5,172.9 315.7,173.1 315.9,172.4 316.1,171.9 316.3,172.2 316.5,172.5 316.7,173.2 316.9,173.9 317.0,173.5 317.2,173.8 317.4,173.6 317.6,174.3 317.8,174.2 318.0,174.3 318.2,174.5 318.4,174.6 318.6,174.6 318.7,174.2 318.9,173.9 319.1,173.9 319.3,173.6 319.5,174.1 319.7,173.4 319.9,173.2 320.1,173.0 320.2,173.2 320.4,172.9 320.6,173.4 320.8,173.4 321.0,173.5 321.2,173.3 321.4,174.0 321.6,173.8 321.8,174.0 321.9,174.1 322.1,173.9 322.3,173.9 322.5,173.3 322.7,173.2 322.9,173.4 323.1,173.6 323.3,173.9 323.5,173.9 323.6,174.1 323.8,173.6 324.0,173.4 324.2,173.5 324.4,173.6 324.6,173.4 324.8,173.4 325.0,173.6 325.1,173.7 325.3,173.8 325.5,173.9 325.7,173.6 325.9,174.3 326.1,174.1 326.3,173.7 326.5,173.9 326.7,173.5 326.8,173.5 327.0,173.5 327.2,174.5 327.4,174.6 327.6,174.7 327.8,175.2 328.0,174.6 328.2,174.2 328.4,174.0 328.5,173.4 328.7,173.9 328.9,173.8 329.1,173.8 329.3,174.1 329.5,173.7 329.7,173.5 329.9,173.3 330.1,173.3 330.2,173.5 330.4,173.3 330.6,173.3 330.8,173.8 331.0,173.7 331.2,173.6 331.4,174.0 331.6,173.3 331.7,173.6 331.9,173.1 332.1,173.2 332.3,173.2 332.5,173.2 332.7,172.6 332.9,173.0 333.1,173.0 333.3,172.8 333.4,173.3 333.6,173.0 333.8,173.1 334.0,173.5 334.2,173.3 334.4,174.1 334.6,173.9 334.8,173.6 335.0,173.8 335.1,173.7 335.3,173.6 335.5,172.8 335.7,172.4 335.9,171.9 336.1,172.2 336.3,172.0 336.5,172.3 336.6,172.5 336.8,172.4 337.0,172.6 337.2,173.2 337.4,173.1 337.6,173.5 337.8,173.7 338.0,173.3 338.2,173.4 338.3,174.0 338.5,173.6 338.7,173.5 338.9,173.7 339.1,173.8 339.3,173.7 339.5,173.6 339.7,173.5 339.9,173.2 340.0,173.1 340.2,172.7 340.4,173.0 340.6,173.7 340.8,173.7 341.0,174.1 341.2,173.8 341.4,173.4 341.5,173.6 341.7,173.2 341.9,173.4 342.1,173.6 342.3,173.7 342.5,173.3 342.7,173.4 342.9,173.4 343.1,173.5 343.2,172.9 343.4,173.3 343.6,173.5 343.8,173.7 344.0,173.5 344.2,173.9 344.4,173.8 344.6,173.5 344.8,173.2 344.9,172.9 345.1,172.8 345.3,172.8 345.5,172.6 345.7,172.1 345.9,171.8 346.1,171.5 346.3,171.4 346.4,171.0 346.6,170.8 346.8,170.8 347.0,170.9 347.2,171.1 347.4,171.2 347.6,171.5 347.8,171.8 348.0,172.0 348.1,171.9 348.3,172.0 348.5,172.5 348.7,172.4 348.9,172.7 349.1,172.8 349.3,172.8 349.5,172.7 349.7,173.0 349.8,173.0 350.0,173.3 350.2,173.0 350.4,173.1 350.6,173.3 350.8,173.1 351.0,173.3 351.2,173.5 351.4,173.2 351.5,173.6 351.7,173.6 351.9,174.0 352.1,173.7 352.3,173.8 352.5,174.0 352.7,173.6 352.9,173.7 353.0,173.8 353.2,173.7 353.4,174.0 353.6,173.8 353.8,173.8 354.0,173.5 354.2,173.3 354.4,173.4 354.6,173.5 354.7,173.4 354.9,173.8 355.1,173.9 355.3,173.6 355.5,173.4 355.7,173.3 355.9,173.2 356.1,173.3 356.3,173.7 356.4,173.3 356.6,173.6 356.8,173.6 357.0,173.4 357.2,173.2 357.4,173.0 357.6,173.0 357.8,173.2 357.9,173.3 358.1,172.9 358.3,173.0 358.5,172.9 358.7,172.7 358.9,172.4 359.1,172.1 359.3,171.9 359.5,171.1 359.6,170.8 359.8,169.9 360.0,169.2 360.2,168.7 360.4,167.7 360.6,167.0 360.8,165.8 361.0,164.3 361.2,162.9 361.3,161.2 361.5,159.3 361.7,157.0 361.9,154.0 362.1,150.5 362.3,147.1 362.5,143.8 362.7,141.0 362.8,138.0 363.0,136.0 363.2,133.9 363.4,133.1 363.6,132.3 363.8,132.9 364.0,134.4 364.2,136.4 364.4,138.8 364.5,142.0 364.7,144.7 364.9,147.9 365.1,151.1 365.3,154.9 365.5,158.0 365.7,160.9 365.9,163.0 366.1,164.9 366.2,165.9 366.4,167.0 366.6,167.8 366.8,168.4 367.0,169.5 367.2,170.4 367.4,170.9 367.6,171.3 367.8,171.4 367.9,171.8 368.1,171.8 368.3,172.4 368.5,172.2 368.7,172.0 368.9,172.1 369.1,171.9 369.3,171.5 369.4,172.3 369.6,172.4 369.8,171.9 370.0,172.1 370.2,172.4 370.4,172.4 370.6,172.4 370.8,172.6 371.0,172.7 371.1,172.7 371.3,172.9 371.5,172.9 371.7,172.9 371.9,173.0 372.1,172.7 372.3,173.3 372.5,172.7 372.7,173.2 372.8,173.4 373.0,173.6 373.2,173.8 373.4,173.9 373.6,173.2 373.8,173.2 374.0,173.0 374.2,172.7 374.3,172.9 374.5,173.4 374.7,173.3 374.9,173.5 375.1,173.7 375.3,173.9 375.5,174.1 375.7,174.2 375.9,174.3 376.0,174.2 376.2,174.2 376.4,174.3 376.6,173.8 376.8,174.0 377.0,173.4 377.2,173.4 377.4,173.0 377.6,172.7 377.7,172.2 377.9,172.6 378.1,172.0 378.3,171.9 378.5,172.7 378.7,173.0 378.9,173.8 379.1,174.2 379.2,174.1 379.4,174.0 379.6,174.0 379.8,173.6 380.0,173.8 380.2,173.7 380.4,173.4 380.6,173.4 380.8,173.0 380.9,173.7 381.1,174.0 381.3,173.7 381.5,174.2 381.7,174.5 381.9,174.0 382.1,173.6 382.3,173.4 382.5,173.5 382.6,173.8 382.8,173.3 383.0,173.6 383.2,173.5 383.4,173.5 383.6,173.5 383.8,173.3 384.0,173.0 384.1,173.5 384.3,173.3 384.5,173.4 384.7,173.8 384.9,173.8 385.1,173.7 385.3,173.8 385.5,173.3 385.7,173.6 385.8,173.6 386.0,173.5 386.2,173.3 386.4,173.4 386.6,173.1 386.8,173.6 387.0,173.8 387.2,174.1 387.4,174.2 387.5,174.1 387.7,173.9 387.9,173.9 388.1,173.8 388.3,173.9 388.5,173.5 388.7,173.2 388.9,173.0 389.1,172.7 389.2,173.1 389.4,173.0 389.6,173.4 389.8,173.7 390.0,174.1 390.2,174.0 390.4,174.1 390.6,174.3 390.7,173.9 390.9,174.1 391.1,173.7 391.3,173.3 391.5,173.5 391.7,173.0 391.9,173.1 392.1,173.3 392.3,173.5 392.4,173.4 392.6,173.1 392.8,173.5 393.0,173.6 393.2,174.1 393.4,173.9 393.6,173.6 393.8,173.4 394.0,173.6 394.1,173.3 394.3,173.6 394.5,173.7 394.7,173.6 394.9,173.8 395.1,173.7 395.3,173.8 395.5,174.2 395.6,174.1 395.8,173.8 396.0,173.6 396.2,173.6 396.4,173.6 396.6,173.7 396.8,174.1 397.0,174.2 397.2,174.3 397.3,175.2 397.5,174.7 397.7,174.3 397.9,174.0 398.1,173.1 398.3,173.2 398.5,173.2 398.7,173.5 398.9,173.1 399.0,173.4 399.2,174.0 399.4,174.2 399.6,174.3 399.8,175.0 400.0,174.5 400.2,174.9 400.4,174.8 400.5,175.0 400.7,174.8 400.9,174.4 401.1,174.3 401.3,173.7 401.5,173.8 401.7,173.6 401.9,173.8 402.1,173.5 402.2,173.4 402.4,173.5 402.6,173.6 402.8,172.8 403.0,173.1 403.2,173.2 403.4,173.1 403.6,173.4 403.8,173.9 403.9,173.9 404.1,173.8 404.3,174.0 404.5,173.3 404.7,173.1 404.9,172.5 405.1,172.4 405.3,172.1 405.5,172.2 405.6,171.8 405.8,171.3 406.0,171.8 406.2,171.7 406.4,171.6 406.6,172.0 406.8,172.1 407.0,172.2 407.1,172.4 407.3,172.8 407.5,173.1 407.7,173.2 407.9,173.3 408.1,173.6 408.3,173.5 408.5,174.2 408.7,174.2 408.8,174.6 409.0,174.5 409.2,174.6 409.4,174.3 409.6,174.0 409.8,174.2 410.0,174.2 410.2,174.2 410.4,174.0 410.5,173.7" fill="none" stroke="#00ff00" stroke-width="1.38" stroke-linejoin="round"/>
<polyline points="252.2,235.2 252.4,235.4 252.6,235.5 252.8,235.6 253.0,235.6 253.1,235.6 253.3,235.5 253.5,235.2 253.7,234.8 253.9,235.3 254.1,235.1 254.3,235.0 254.5,235.3 254.7,235.3 254.8,234.9 255.0,234.9 255.2,234.5 255.4,234.6 255.6,234.5 255.8,234.9 256.0,234.9 256.2,235.2 256.3,235.3 256.5,235.0 256.7,234.6 256.9,234.7 257.1,234.3 257.3,234.2 257.5,234.7 257.7,234.9 257.9,235.2 258.0,235.6 258.2,235.4 258.4,234.8 258.6,234.2 258.8,234.0 259.0,234.3 259.2,233.7 259.4,234.0 259.6,233.7 259.7,233.9 259.9,234.1 260.1,234.2 260.3,234.7 260.5,235.4 260.7,234.9 260.9,234.9 261.1,234.6 261.2,234.5 261.4,234.4 261.6,234.4 261.8,234.6 262.0,234.2 262.2,234.0 262.4,233.8 262.6,233.6 262.8,233.4 262.9,233.7 263.1,233.1 263.3,233.6 263.5,233.3 263.7,233.1 263.9,232.9 264.1,233.0 264.3,233.0 264.5,233.2 264.6,232.9 264.8,233.3 265.0,233.6 265.2,233.9 265.4,234.1 265.6,234.1 265.8,234.2 266.0,234.5 266.1,234.7 266.3,235.0 266.5,235.3 266.7,235.2 266.9,235.0 267.1,235.3 267.3,235.1 267.5,235.3 267.7,236.0 267.8,235.6 268.0,235.7 268.2,235.3 268.4,235.3 268.6,234.6 268.8,234.5 269.0,234.4 269.2,234.3 269.4,234.7 269.5,234.7 269.7,234.6 269.9,234.7 270.1,234.8 270.3,235.1 270.5,235.1 270.7,234.9 270.9,234.8 271.1,234.5 271.2,234.5 271.4,234.2 271.6,234.0 271.8,234.0 272.0,234.0 272.2,233.9 272.4,234.2 272.6,233.8 272.7,234.1 272.9,234.3 273.1,234.2 273.3,234.6 273.5,234.7 273.7,234.7 273.9,235.1 274.1,234.4 274.3,234.6 274.4,234.2 274.6,233.9 274.8,234.0 275.0,234.1 275.2,234.1 275.4,234.4 275.6,233.8 275.8,234.1 276.0,233.8 276.1,233.6 276.3,233.1 276.5,232.9 276.7,233.2 276.9,233.3 277.1,233.3 277.3,232.9 277.5,232.6 277.6,232.2 277.8,231.5 278.0,231.6 278.2,230.6 278.4,230.3 278.6,229.7 278.8,228.3 279.0,227.1 279.2,225.4 279.3,222.2 279.5,218.4 279.7,212.6 279.9,205.2 280.1,196.4 280.3,186.1 280.5,175.5 280.7,166.3 280.9,159.8 281.0,158.3 281.2,162.0 281.4,169.9 281.6,179.9 281.8,190.1 282.0,199.3 282.2,207.4 282.4,214.3 282.5,219.9 282.7,224.0 282.9,226.6 283.1,228.8 283.3,229.9 283.5,231.2 283.7,231.6 283.9,232.4 284.1,232.5 284.2,233.1 284.4,233.4 284.6,233.2 284.8,233.2 285.0,233.3 285.2,233.0 285.4,233.0 285.6,233.1 285.8,233.5 285.9,233.7 286.1,233.4 286.3,233.5 286.5,233.7 286.7,233.6 286.9,233.7 287.1,234.0 287.3,234.1 287.4,234.2 287.6,234.2 287.8,234.7 288.0,234.4 288.2,234.6 288.4,234.4 288.6,234.5 288.8,234.6 289.0,234.6 289.1,234.8 289.3,234.7 289.5,234.5 289.7,234.4 289.9,235.0 290.1,234.8 290.3,235.2 290.5,234.9 290.7,234.5 290.8,234.6 291.0,234.2 291.2,234.1 291.4,233.9 291.6,234.2 291.8,234.3 292.0,234.0 292.2,234.4 292.4,234.0 292.5,234.1 292.7,233.8 292.9,233.7 293.1,234.4 293.3,234.3 293.5,234.3 293.7,233.7 293.9,234.2 294.0,234.4 294.2,234.5 294.4,234.8 294.6,234.6 294.8,234.8 295.0,234.7 295.2,234.9 295.4,235.1 295.6,235.2 295.7,235.6 295.9,235.9 296.1,236.2 296.3,236.2 296.5,235.9 296.7,235.6 296.9,235.1 297.1,235.1 297.3,235.2 297.4,234.9 297.6,234.9 297.8,234.7 298.0,235.3 298.2,235.2 298.4,235.3 298.6,235.7 298.8,235.7 298.9,235.3 299.1,235.2 299.3,234.7 299.5,234.5 299.7,234.6 299.9,234.7 300.1,234.8 300.3,235.1 300.5,235.1 300.6,235.3 300.8,235.4 301.0,235.4 301.2,235.2 301.4,235.3 301.6,235.2 301.8,235.0 302.0,235.4 302.2,235.1 302.3,235.0 302.5,235.0 302.7,235.3 302.9,235.0 303.1,235.2 303.3,234.9 303.5,234.7 303.7,234.8 303.8,234.7 304.0,234.5 304.2,234.2 304.4,234.2 304.6,234.1 304.8,234.4 305.0,234.6 305.2,235.0 305.4,235.1 305.5,234.9 305.7,234.9 305.9,234.7 306.1,235.1 306.3,235.0 306.5,235.4 306.7,235.2 306.9,235.3 307.1,235.5 307.2,235.2 307.4,235.1 307.6,234.8 307.8,235.1 308.0,235.0 308.2,235.2 308.4,235.1 308.6,234.9 308.8,235.1 308.9,235.0 309.1,234.3 309.3,234.0 309.5,234.1 309.7,234.5 309.9,234.5 310.1,235.5 310.3,235.7 310.4,235.2 310.6,234.7 310.8,234.9 311.0,234.9 311.2,234.6 311.4,234.5 311.6,234.1 311.8,234.2 312.0,233.8 312.1,234.5 312.3,234.2 312.5,233.8 312.7,233.8 312.9,234.3 313.1,234.4 313.3,234.4 313.5,234.7 313.7,235.1 313.8,235.0 314.0,234.8 314.2,235.3 314.4,235.4 314.6,235.4 314.8,235.5 315.0,235.4 315.2,235.2 315.3,235.2 315.5,234.8 315.7,234.8 315.9,234.4 316.1,234.4 316.3,234.4 316.5,234.8 316.7,234.8 316.9,235.0 317.0,234.9 317.2,235.0 317.4,234.6 317.6,235.4 317.8,234.7 318.0,234.7 318.2,234.4 318.4,234.2 318.6,234.1 318.7,234.1 318.9,234.1 319.1,234.0 319.3,234.2 319.5,234.1 319.7,234.5 319.9,233.8 320.1,233.7 320.2,233.9 320.4,234.2 320.6,233.8 320.8,234.0 321.0,234.5 321.2,234.3 321.4,233.8 321.6,233.5 321.8,233.4 321.9,233.7 322.1,233.8 322.3,234.2 322.5,234.2 322.7,234.5 322.9,234.6 323.1,234.4 323.3,234.5 323.5,234.3 323.6,234.3 323.8,234.5 324.0,234.4 324.2,234.4 324.4,234.6 324.6,234.6 324.8,234.5 325.0,234.4 325.1,234.6 325.3,235.1 325.5,234.8 325.7,234.9 325.9,235.3 326.1,235.4 326.3,235.1 326.5,234.9 326.7,235.1 326.8,234.9 327.0,235.1 327.2,235.0 327.4,234.9 327.6,235.2 327.8,235.0 328.0,235.1 328.2,235.0 328.4,235.5 328.5,235.6 328.7,235.3 328.9,235.4 329.1,235.4 329.3,235.5 329.5,235.6 329.7,235.4 329.9,235.4 330.1,235.1 330.2,235.2 330.4,234.8 330.6,235.3 330.8,235.0 331.0,234.8 331.2,234.8 331.4,234.8 331.6,234.6 331.7,234.1 331.9,234.3 332.1,234.0 332.3,234.3 332.5,234.2 332.7,234.5 332.9,234.6 333.1,234.4 333.3,234.6 333.4,234.7 333.6,234.7 333.8,234.7 334.0,234.4 334.2,234.8 334.4,235.1 334.6,235.0 334.8,234.6 335.0,234.8 335.1,234.9 335.3,234.9 335.5,235.3 335.7,235.2 335.9,235.4 336.1,235.4 336.3,235.7 336.5,235.1 336.6,234.9 336.8,235.0 337.0,235.1 337.2,235.4 337.4,235.2 337.6,235.9 337.8,235.8 338.0,235.5 338.2,235.9 338.3,235.5 338.5,235.4 338.7,235.0 338.9,234.7 339.1,234.7 339.3,234.3 339.5,234.9 339.7,235.1 339.9,235.0 340.0,235.0 340.2,235.0 340.4,234.4 340.6,234.1 340.8,233.7 341.0,233.3 341.2,233.9 341.4,234.6 341.5,235.3 341.7,235.4 341.9,235.7 342.1,235.3 342.3,235.1 342.5,235.4 342.7,235.1 342.9,235.1 343.1,235.1 343.2,235.0 343.4,234.8 343.6,235.0 343.8,234.5 344.0,234.1 344.2,233.8 344.4,234.0 344.6,234.1 344.8,234.7 344.9,234.9 345.1,235.2 345.3,234.4 345.5,234.3 345.7,233.2 345.9,232.8 346.1,232.5 346.3,232.2 346.4,232.4 346.6,232.2 346.8,232.2 347.0,232.6 347.2,232.8 347.4,233.5 347.6,233.8 347.8,233.9 348.0,233.6 348.1,233.9 348.3,233.8 348.5,234.0 348.7,234.2 348.9,234.1 349.1,234.0 349.3,234.3 349.5,234.5 349.7,234.9 349.8,234.4 350.0,235.1 350.2,234.8 350.4,234.5 350.6,234.5 350.8,234.0 351.0,233.8 351.2,234.3 351.4,234.6 351.5,235.2 351.7,235.0 351.9,234.8 352.1,234.6 352.3,234.8 352.5,234.7 352.7,234.8 352.9,234.7 353.0,234.9 353.2,234.7 353.4,235.2 353.6,234.6 353.8,234.1 354.0,234.5 354.2,234.0 354.4,234.2 354.6,234.5 354.7,234.5 354.9,235.2 355.1,234.9 355.3,235.3 355.5,234.9 355.7,234.4 355.9,234.7 356.1,235.1 356.3,234.9 356.4,235.3 356.6,235.2 356.8,235.0 357.0,234.3 357.2,234.6 357.4,233.9 357.6,233.8 357.8,233.8 357.9,234.1 358.1,234.7 358.3,234.6 358.5,234.5 358.7,234.1 358.9,234.0 359.1,233.8 359.3,233.3 359.5,233.0 359.6,232.5 359.8,232.5 360.0,231.6 360.2,230.7 360.4,230.0 360.6,228.3 360.8,226.5 361.0,225.0 361.2,223.3 361.3,221.6 361.5,218.9 361.7,216.1 361.9,213.2 362.1,210.0 362.3,206.2 362.5,203.2 362.7,199.6 362.8,196.4 363.0,193.1 363.2,191.5 363.4,190.4 363.6,189.8 363.8,190.9 364.0,191.9 364.2,193.8 364.4,196.9 364.5,200.1 364.7,203.6 364.9,206.8 365.1,210.7 365.3,213.9 365.5,217.3 365.7,220.1 365.9,222.8 366.1,225.0 366.2,226.5 366.4,227.9 366.6,229.0 366.8,230.2 367.0,231.2 367.2,232.0 367.4,232.7 367.6,233.0 367.8,233.1 367.9,233.1 368.1,233.4 368.3,233.4 368.5,233.4 368.7,234.1 368.9,233.5 369.1,234.0 369.3,234.1 369.4,234.0 369.6,234.6 369.8,234.2 370.0,234.1 370.2,234.5 370.4,234.0 370.6,233.9 370.8,233.9 371.0,234.2 371.1,234.5 371.3,234.8 371.5,234.7 371.7,235.2 371.9,235.4 372.1,234.7 372.3,234.7 372.5,234.8 372.7,234.9 372.8,234.6 373.0,234.5 373.2,234.5 373.4,234.8 373.6,234.6 373.8,233.8 374.0,233.7 374.2,233.7 374.3,233.9 374.5,234.5 374.7,234.7 374.9,235.2 375.1,234.9 375.3,234.7 375.5,234.8 375.7,234.3 375.9,234.1 376.0,234.4 376.2,234.6 376.4,234.2 376.6,234.7 376.8,234.9 377.0,234.8 377.2,235.1 377.4,235.3 377.6,235.2 377.7,235.1 377.9,234.5 378.1,234.6 378.3,234.4 378.5,234.5 378.7,234.1 378.9,234.2 379.1,234.8 379.2,234.7 379.4,234.8 379.6,234.9 379.8,234.9 380.0,235.2 380.2,235.2 380.4,235.3 380.6,235.5 380.8,235.3 380.9,235.5 381.1,234.7 381.3,235.3 381.5,234.4 381.7,234.8 381.9,234.9 382.1,234.9 382.3,235.1 382.5,235.0 382.6,234.7 382.8,235.1 383.0,235.3 383.2,235.0 383.4,234.6 383.6,234.6 383.8,234.6 384.0,234.4 384.1,234.4 384.3,234.2 384.5,234.1 384.7,233.5 384.9,234.1 385.1,233.7 385.3,233.9 385.5,233.7 385.7,233.8 385.8,234.0 386.0,234.6 386.2,235.0 386.4,235.1 386.6,235.6 386.8,235.1 387.0,235.2 387.2,235.0 387.4,235.2 387.5,234.8 387.7,234.8 387.9,234.8 388.1,233.9 388.3,234.6 388.5,234.4 388.7,234.3 388.9,234.1 389.1,234.5 389.2,234.2 389.4,234.7 389.6,234.6 389.8,235.0 390.0,234.7 390.2,234.9 390.4,234.9 390.6,235.1 390.7,234.7 390.9,234.9 391.1,234.6 391.3,234.7 391.5,234.9 391.7,235.2 391.9,235.2 392.1,235.7 392.3,236.1 392.4,235.9 392.6,235.6 392.8,235.1 393.0,235.1 393.2,234.8 393.4,234.7 393.6,234.7 393.8,235.2 394.0,235.1 394.1,234.8 394.3,234.6 394.5,234.6 394.7,235.0 394.9,234.4 395.1,235.1 395.3,234.6 395.5,234.5 395.6,234.8 395.8,234.5 396.0,234.6 396.2,234.3 396.4,234.2 396.6,234.4 396.8,234.6 397.0,234.5 397.2,234.4 397.3,234.9 397.5,234.8 397.7,234.7 397.9,234.6 398.1,234.2 398.3,235.0 398.5,234.7 398.7,235.0 398.9,235.3 399.0,235.4 399.2,235.2 399.4,235.1 399.6,235.1 399.8,235.2 400.0,235.1 400.2,234.7 400.4,234.8 400.5,234.6 400.7,234.7 400.9,235.0 401.1,235.6 401.3,235.7 401.5,236.2 401.7,235.6 401.9,235.1 402.1,234.6 402.2,234.4 402.4,234.5 402.6,234.8 402.8,234.7 403.0,234.8 403.2,235.0 403.4,235.6 403.6,235.6 403.8,235.7 403.9,236.1 404.1,235.4 404.3,235.2 404.5,234.7 404.7,234.2 404.9,233.7 405.1,234.1 405.3,234.3 405.5,233.8 405.6,234.1 405.8,234.0 406.0,234.1 406.2,233.5 406.4,233.4 406.6,233.5 406.8,233.9 407.0,233.6 407.1,233.7 407.3,234.0 407.5,233.3 407.7,233.2 407.9,233.7 408.1,233.5 408.3,233.5 408.5,234.4 408.7,234.8 408.8,235.3 409.0,235.4 409.2,235.3 409.4,235.1 409.6,235.1 409.8,234.9 410.0,235.2 410.2,234.9 410.4,234.4 410.5,234.7" fill="none" stroke="#0000ff" stroke-width="1.38" stroke-linejoin="round"/>
<polyline points="252.2,296.8 252.4,297.2 252.6,296.8 252.8,297.0 253.0,296.7 253.1,296.8 253.3,296.5 253.5,296.4 253.7,296.4 253.9,296.3 254.1,296.7 254.3,297.3 254.5,297.4 254.7,297.4 254.8,297.6 255.0,297.5 255.2,297.5 255.4,297.3 255.6,297.1 255.8,296.8 256.0,296.8 256.2,296.3 256.3,296.7 256.5,296.5 256.7,296.5 256.9,296.3 257.1,296.4 257.3,296.2 257.5,296.4 257.7,296.0 257.9,296.4 258.0,296.3 258.2,296.7 258.4,296.4 258.6,296.6 258.8,296.7 259.0,296.7 259.2,296.6 259.4,296.4 259.6,296.4 259.7,296.4 259.9,296.3 260.1,295.9 260.3,295.7 260.5,295.7 260.7,295.9 260.9,295.7 261.1,295.8 261.2,295.9 261.4,295.8 261.6,295.5 261.8,295.4 262.0,295.1 262.2,295.2 262.4,295.3 262.6,294.9 262.8,295.2 262.9,295.1 263.1,294.7 263.3,294.8 263.5,294.3 263.7,294.4 263.9,294.5 264.1,294.6 264.3,294.7 264.5,294.6 264.6,295.3 264.8,295.3 265.0,295.6 265.2,295.9 265.4,296.1 265.6,296.3 265.8,296.3 266.0,296.3 266.1,297.0 266.3,296.6 266.5,296.4 266.7,296.5 266.9,296.3 267.1,296.8 267.3,296.3 267.5,296.3 267.7,296.0 267.8,295.6 268.0,295.5 268.2,295.5 268.4,295.9 268.6,296.0 268.8,296.4 269.0,296.3 269.2,296.8 269.4,296.8 269.5,296.7 269.7,296.4 269.9,296.7 270.1,296.7 270.3,296.4 270.5,296.1 270.7,296.5 270.9,296.6 271.1,296.1 271.2,296.6 271.4,296.2 271.6,296.5 271.8,296.7 272.0,296.4 272.2,296.4 272.4,296.0 272.6,295.9 272.7,296.1 272.9,295.7 273.1,295.3 273.3,295.1 273.5,295.0 273.7,295.3 273.9,295.1 274.1,295.6 274.3,295.7 274.4,295.8 274.6,296.5 274.8,296.1 275.0,295.8 275.2,295.6 275.4,295.4 275.6,295.5 275.8,295.3 276.0,295.9 276.1,295.8 276.3,295.8 276.5,295.4 276.7,295.3 276.9,295.1 277.1,295.0 277.3,294.8 277.5,294.5 277.6,294.2 277.8,293.8 278.0,293.7 278.2,293.5 278.4,293.2 278.6,292.6 278.8,292.3 279.0,290.5 279.2,288.0 279.3,285.2 279.5,281.2 279.7,276.7 279.9,270.6 280.1,262.7 280.3,254.3 280.5,245.0 280.7,236.8 280.9,231.0 281.0,229.2 281.2,232.4 281.4,239.4 281.6,248.4 281.8,257.5 282.0,266.4 282.2,273.6 282.4,279.3 282.5,283.8 282.7,287.0 282.9,289.2 283.1,290.9 283.3,292.3 283.5,292.8 283.7,293.7 283.9,293.7 284.1,293.9 284.2,294.4 284.4,294.7 284.6,294.6 284.8,294.8 285.0,294.8 285.2,294.8 285.4,294.6 285.6,294.9 285.8,294.9 285.9,295.4 286.1,295.8 286.3,296.2 286.5,295.8 286.7,296.0 286.9,296.1 287.1,296.6 287.3,296.0 287.4,296.3 287.6,296.9 287.8,296.7 288.0,296.5 288.2,296.9 288.4,297.2 288.6,297.3 288.8,297.2 289.0,297.0 289.1,297.1 289.3,296.8 289.5,296.7 289.7,296.5 289.9,296.2 290.1,296.3 290.3,295.8 290.5,295.9 290.7,295.8 290.8,296.0 291.0,296.0 291.2,296.0 291.4,296.3 291.6,296.6 291.8,296.7 292.0,296.7 292.2,296.6 292.4,297.0 292.5,296.9 292.7,297.3 292.9,296.7 293.1,296.9 293.3,296.3 293.5,296.4 293.7,295.8 293.9,296.3 294.0,296.3 294.2,296.3 294.4,296.7 294.6,296.9 294.8,297.0 295.0,296.5 295.2,296.7 295.4,296.7 295.6,296.6 295.7,296.5 295.9,296.2 296.1,295.9 296.3,296.3 296.5,296.4 296.7,296.8 296.9,296.7 297.1,296.9 297.3,296.5 297.4,296.5 297.6,296.4 297.8,296.3 298.0,296.1 298.2,296.3 298.4,296.3 298.6,296.5 298.8,296.7 298.9,297.1 299.1,296.5 299.3,296.6 299.5,296.5 299.7,296.7 299.9,296.7 300.1,296.8 300.3,296.8 300.5,297.0 300.6,296.7 300.8,295.9 301.0,296.1 301.2,296.1 301.4,295.9 301.6,296.3 301.8,296.6 302.0,296.7 302.2,296.6 302.3,295.9 302.5,296.1 302.7,295.7 302.9,295.7 303.1,295.8 303.3,296.0 303.5,296.2 303.7,296.6 303.8,296.5 304.0,296.7 304.2,296.3 304.4,296.6 304.6,296.4 304.8,296.8 305.0,296.8 305.2,297.4 305.4,297.4 305.5,297.4 305.7,297.4 305.9,297.0 306.1,297.0 306.3,296.9 306.5,296.7 306.7,296.4 306.9,296.5 307.1,296.4 307.2,296.4 307.4,296.4 307.6,296.1 307.8,296.3 308.0,296.5 308.2,296.3 308.4,296.6 308.6,296.5 308.8,296.6 308.9,296.8 309.1,296.5 309.3,296.2 309.5,296.5 309.7,296.8 309.9,297.3 310.1,297.2 310.3,297.6 310.4,297.2 310.6,296.3 310.8,296.2 311.0,295.1 311.2,295.2 311.4,295.5 311.6,295.9 311.8,296.5 312.0,296.7 312.1,296.5 312.3,296.1 312.5,295.3 312.7,295.5 312.9,295.4 313.1,296.0 313.3,296.4 313.5,296.8 313.7,297.2 313.8,296.7 314.0,297.0 314.2,296.5 314.4,296.4 314.6,296.6 314.8,297.0 315.0,297.1 315.2,297.7 315.3,297.1 315.5,297.2 315.7,296.8 315.9,296.5 316.1,296.5 316.3,296.5 316.5,296.9 316.7,297.1 316.9,297.2 317.0,297.3 317.2,296.8 317.4,296.6 317.6,296.7 317.8,296.8 318.0,297.4 318.2,297.0 318.4,297.3 318.6,297.4 318.7,297.5 318.9,297.0 319.1,297.0 319.3,296.7 319.5,296.3 319.7,295.9 319.9,295.6 320.1,295.6 320.2,295.2 320.4,295.4 320.6,295.7 320.8,295.8 321.0,296.2 321.2,296.2 321.4,296.2 321.6,296.2 321.8,295.6 321.9,296.0 322.1,296.5 322.3,296.4 322.5,296.8 322.7,297.2 322.9,297.3 323.1,297.1 323.3,297.0 323.5,297.0 323.6,297.1 323.8,296.9 324.0,297.1 324.2,296.8 324.4,296.5 324.6,296.6 324.8,296.7 325.0,296.8 325.1,297.0 325.3,296.9 325.5,297.1 325.7,296.9 325.9,297.0 326.1,296.6 326.3,296.5 326.5,296.6 326.7,296.5 326.8,296.5 327.0,296.7 327.2,296.8 327.4,297.5 327.6,297.7 327.8,297.3 328.0,297.2 328.2,297.1 328.4,297.1 328.5,296.7 328.7,296.5 328.9,296.8 329.1,296.6 329.3,296.8 329.5,296.5 329.7,296.4 329.9,296.3 330.1,296.1 330.2,295.8 330.4,296.2 330.6,296.1 330.8,296.0 331.0,296.2 331.2,296.3 331.4,296.5 331.6,296.7 331.7,296.4 331.9,296.8 332.1,296.6 332.3,296.4 332.5,296.7 332.7,296.4 332.9,296.3 333.1,296.6 333.3,296.6 333.4,296.3 333.6,296.6 333.8,296.7 334.0,296.4 334.2,296.9 334.4,296.5 334.6,296.5 334.8,295.9 335.0,296.3 335.1,295.9 335.3,296.3 335.5,296.0 335.7,296.6 335.9,296.8 336.1,296.9 336.3,295.8 336.5,296.2 336.6,296.0 336.8,295.3 337.0,295.8 337.2,296.0 337.4,296.3 337.6,296.0 337.8,296.2 338.0,296.2 338.2,296.3 338.3,296.1 338.5,296.5 338.7,296.7 338.9,296.4 339.1,297.1 339.3,296.9 339.5,297.0 339.7,297.2 339.9,296.9 340.0,297.0 340.2,297.0 340.4,296.9 340.6,296.6 340.8,296.5 341.0,296.7 341.2,296.6 341.4,296.4 341.5,296.1 341.7,296.1 341.9,296.0 342.1,295.9 342.3,296.2 342.5,296.4 342.7,296.5 342.9,296.3 343.1,296.5 343.2,296.8 343.4,296.8 343.6,296.9 343.8,297.0 344.0,296.9 344.2,297.2 344.4,296.6 344.6,296.4 344.8,295.8 344.9,295.6 345.1,294.7 345.3,294.6 345.5,294.7 345.7,294.2 345.9,294.1 346.1,294.1 346.3,294.1 346.4,293.7 346.6,294.0 346.8,294.0 347.0,294.2 347.2,294.5 347.4,294.7 347.6,295.2 347.8,295.3 348.0,295.3 348.1,295.6 348.3,295.9 348.5,296.0 348.7,296.3 348.9,296.3 349.1,296.5 349.3,296.9 349.5,296.4 349.7,296.4 349.8,296.1 350.0,295.6 350.2,295.7 350.4,296.4 350.6,296.5 350.8,296.9 351.0,296.8 351.2,297.0 351.4,296.5 351.5,296.2 351.7,295.9 351.9,296.0 352.1,296.1 352.3,296.3 352.5,296.3 352.7,296.0 352.9,296.6 353.0,296.6 353.2,296.6 353.4,296.9 353.6,296.5 353.8,296.3 354.0,297.1 354.2,297.0 354.4,296.6 354.6,296.8 354.7,296.9 354.9,296.5 355.1,296.8 355.3,297.1 355.5,296.9 355.7,296.7 355.9,296.7 356.1,296.5 356.3,296.7 356.4,296.6 356.6,296.5 356.8,296.4 357.0,296.7 357.2,296.2 357.4,295.8 357.6,295.7 357.8,296.1 357.9,296.2 358.1,295.9 358.3,296.0 358.5,296.2 358.7,295.9 358.9,295.8 359.1,295.7 359.3,295.7 359.5,295.0 359.6,294.3 359.8,293.9 360.0,293.3 360.2,292.6 360.4,291.6 360.6,290.9 360.8,289.2 361.0,287.9 361.2,286.1 361.3,284.6 361.5,282.3 361.7,279.7 361.9,277.5 362.1,275.5 362.3,272.7 362.5,270.0 362.7,267.4 362.8,264.4 363.0,262.4 363.2,260.6 363.4,259.7 363.6,259.3 363.8,259.8 364.0,261.0 364.2,262.6 364.4,265.3 364.5,267.5 364.7,270.5 364.9,273.5 365.1,276.2 365.3,279.0 365.5,281.7 365.7,283.9 365.9,286.2 366.1,288.2 366.2,289.4 366.4,290.6 366.6,292.1 366.8,292.6 367.0,293.1 367.2,293.2 367.4,293.5 367.6,293.8 367.8,294.2 367.9,294.4 368.1,294.6 368.3,294.6 368.5,294.8 368.7,295.2 368.9,295.5 369.1,295.5 369.3,295.6 369.4,295.5 369.6,295.7 369.8,295.8 370.0,296.3 370.2,295.8 370.4,296.3 370.6,296.0 370.8,296.3 371.0,296.2 371.1,296.3 371.3,296.3 371.5,295.9 371.7,295.9 371.9,296.1 372.1,296.1 372.3,296.5 372.5,296.4 372.7,296.1 372.8,295.9 373.0,295.4 373.2,295.3 373.4,295.1 373.6,296.2 373.8,296.9 374.0,297.3 374.2,297.8 374.3,297.9 374.5,297.4 374.7,296.8 374.9,296.7 375.1,297.1 375.3,296.7 375.5,297.2 375.7,297.2 375.9,296.8 376.0,296.8 376.2,296.4 376.4,296.3 376.6,296.0 376.8,296.4 377.0,296.2 377.2,296.5 377.4,296.7 377.6,297.0 377.7,296.7 377.9,296.9 378.1,297.3 378.3,297.6 378.5,297.6 378.7,297.6 378.9,297.9 379.1,297.6 379.2,297.4 379.4,297.1 379.6,297.1 379.8,296.9 380.0,296.7 380.2,296.4 380.4,296.3 380.6,296.4 380.8,295.8 380.9,295.7 381.1,296.4 381.3,296.6 381.5,296.6 381.7,296.6 381.9,297.1 382.1,296.4 382.3,296.3 382.5,296.4 382.6,296.7 382.8,296.6 383.0,296.8 383.2,297.1 383.4,296.8 383.6,296.6 383.8,296.3 384.0,295.9 384.1,296.0 384.3,295.9 384.5,296.4 384.7,296.2 384.9,296.5 385.1,296.2 385.3,296.5 385.5,296.5 385.7,297.0 385.8,296.7 386.0,296.7 386.2,296.2 386.4,296.2 386.6,296.4 386.8,296.4 387.0,297.0 387.2,296.9 387.4,297.2 387.5,297.0 387.7,296.7 387.9,296.6 388.1,296.1 388.3,296.1 388.5,296.2 388.7,296.0 388.9,296.0 389.1,295.9 389.2,296.1 389.4,296.3 389.6,296.3 389.8,296.1 390.0,296.6 390.2,296.7 390.4,296.9 390.6,297.0 390.7,297.3 390.9,296.7 391.1,296.6 391.3,296.8 391.5,296.3 391.7,296.5 391.9,296.4 392.1,296.0 392.3,296.5 392.4,296.6 392.6,296.6 392.8,296.5 393.0,297.0 393.2,296.9 393.4,297.0 393.6,297.0 393.8,296.7 394.0,296.5 394.1,296.7 394.3,296.6 394.5,296.4 394.7,296.3 394.9,296.5 395.1,296.4 395.3,296.5 395.5,296.5 395.6,296.7 395.8,296.7 396.0,296.6 396.2,296.3 396.4,296.5 396.6,296.4 396.8,296.7 397.0,297.0 397.2,297.0 397.3,297.1 397.5,296.9 397.7,296.8 397.9,296.9 398.1,296.7 398.3,296.6 398.5,296.4 398.7,296.4 398.9,296.3 399.0,296.6 399.2,296.4 399.4,296.2 399.6,296.5 399.8,296.3 400.0,296.6 400.2,296.5 400.4,296.9 400.5,296.2 400.7,296.4 400.9,296.5 401.1,296.7 401.3,296.9 401.5,296.6 401.7,296.7 401.9,296.9 402.1,297.0 402.2,296.6 402.4,296.4 402.6,296.8 402.8,296.6 403.0,296.4 403.2,296.0 403.4,296.2 403.6,296.3 403.8,296.4 403.9,296.3 404.1,296.3 404.3,296.5 404.5,296.2 404.7,296.1 404.9,296.0 405.1,295.9 405.3,295.9 405.5,295.7 405.6,295.5 405.8,295.5 406.0,295.1 406.2,294.7 406.4,294.9 406.6,294.7 406.8,295.1 407.0,295.4 407.1,295.8 407.3,296.2 407.5,296.2 407.7,296.0 407.9,296.1 408.1,296.2 408.3,296.3 408.5,296.5 408.7,297.0 408.8,296.9 409.0,296.8 409.2,296.7 409.4,296.6 409.6,296.6 409.8,296.4 410.0,296.6 410.2,296.1 410.4,296.3 410.5,296.2" fill="none" stroke="#ff0000" stroke-width="1.38" stroke-linejoin="round"/>
<polyline points="252.2,359.9 252.4,359.5 252.6,359.2 252.8,358.7 253.0,358.3 253.1,358.2 253.3,358.3 253.5,358.4 253.7,357.6 253.9,358.3 254.1,358.6 254.3,358.9 254.5,359.0 254.7,359.3 254.8,359.1 255.0,359.1 255.2,359.1 255.4,358.7 255.6,358.7 255.8,358.9 256.0,358.7 256.2,358.9 256.3,358.7 256.5,358.8 256.7,358.6 256.9,358.3 257.1,358.0 257.3,358.1 257.5,357.9 257.7,358.3 257.9,358.5 258.0,358.8 258.2,358.6 258.4,358.7 258.6,359.0 258.8,359.1 259.0,358.6 259.2,358.6 259.4,358.4 259.6,358.0 259.7,357.7 259.9,357.8 260.1,358.2 260.3,358.6 260.5,358.2 260.7,358.5 260.9,358.6 261.1,358.0 261.2,358.1 261.4,358.4 261.6,358.3 261.8,358.2 262.0,358.1 262.2,358.1 262.4,357.8 262.6,358.2 262.8,357.5 262.9,357.3 263.1,357.6 263.3,357.7 263.5,357.3 263.7,357.3 263.9,357.2 264.1,357.5 264.3,357.6 264.5,357.9 264.6,358.0 264.8,358.2 265.0,358.6 265.2,358.3 265.4,358.4 265.6,358.8 265.8,358.5 266.0,358.5 266.1,358.9 266.3,358.7 266.5,358.8 266.7,358.8 266.9,358.3 267.1,358.2 267.3,358.5 267.5,358.0 267.7,358.0 267.8,358.1 268.0,357.9 268.2,357.7 268.4,358.0 268.6,357.5 268.8,357.6 269.0,357.6 269.2,357.9 269.4,357.8 269.5,358.4 269.7,358.2 269.9,358.5 270.1,358.0 270.3,358.1 270.5,358.2 270.7,358.4 270.9,358.6 271.1,359.0 271.2,359.0 271.4,359.3 271.6,358.9 271.8,359.4 272.0,359.6 272.2,359.5 272.4,359.4 272.6,359.1 272.7,359.1 272.9,358.9 273.1,358.6 273.3,358.3 273.5,357.4 273.7,357.8 273.9,357.6 274.1,357.5 274.3,357.1 274.4,357.3 274.6,357.2 274.8,356.9 275.0,357.1 275.2,357.5 275.4,357.4 275.6,357.5 275.8,357.2 276.0,357.4 276.1,356.7 276.3,356.8 276.5,357.0 276.7,357.1 276.9,357.4 277.1,357.7 277.3,357.2 277.5,357.1 277.6,356.9 277.8,356.5 278.0,356.2 278.2,355.7 278.4,355.0 278.6,354.6 278.8,353.6 279.0,352.6 279.2,350.7 279.3,348.0 279.5,344.8 279.7,340.7 279.9,335.1 280.1,328.0 280.3,320.2 280.5,311.4 280.7,303.6 280.9,298.3 281.0,296.6 281.2,299.3 281.4,306.2 281.6,314.4 281.8,322.7 282.0,330.8 282.2,337.0 282.4,342.4 282.5,346.3 282.7,348.6 282.9,351.1 283.1,352.8 283.3,353.7 283.5,354.6 283.7,355.4 283.9,355.5 284.1,356.0 284.2,356.1 284.4,355.9 284.6,356.2 284.8,356.6 285.0,357.1 285.2,357.2 285.4,357.6 285.6,357.4 285.8,357.3 285.9,358.0 286.1,358.1 286.3,357.9 286.5,357.9 286.7,358.4 286.9,358.1 287.1,358.4 287.3,358.2 287.4,358.5 287.6,358.4 287.8,358.3 288.0,358.1 288.2,357.8 288.4,357.8 288.6,358.0 288.8,357.7 289.0,357.9 289.1,357.4 289.3,357.5 289.5,357.4 289.7,357.5 289.9,357.7 290.1,357.3 290.3,357.9 290.5,357.9 290.7,357.9 290.8,357.9 291.0,357.9 291.2,358.2 291.4,358.1 291.6,358.0 291.8,358.2 292.0,358.3 292.2,358.2 292.4,358.1 292.5,358.0 292.7,357.9 292.9,357.9 293.1,357.9 293.3,358.4 293.5,358.9 293.7,358.9 293.9,358.8 294.0,359.1 294.2,358.9 294.4,358.9 294.6,358.9 294.8,358.8 295.0,358.5 295.2,358.2 295.4,358.5 295.6,358.2 295.7,358.0 295.9,358.2 296.1,358.3 296.3,357.9 296.5,358.4 296.7,358.2 296.9,358.6 297.1,358.4 297.3,358.3 297.4,358.5 297.6,358.6 297.8,358.3 298.0,358.4 298.2,358.3 298.4,358.6 298.6,358.2 298.8,358.3 298.9,357.7 299.1,358.0 299.3,357.3 299.5,357.4 299.7,357.8 299.9,357.8 300.1,357.9 300.3,358.0 300.5,358.0 300.6,357.6 300.8,357.8 301.0,357.7 301.2,357.6 301.4,357.7 301.6,358.2 301.8,358.3 302.0,358.6 302.2,358.6 302.3,358.6 302.5,358.6 302.7,358.3 302.9,358.8 303.1,358.4 303.3,358.6 303.5,357.7 303.7,358.0 303.8,357.9 304.0,358.2 304.2,358.2 304.4,358.6 304.6,358.5 304.8,358.5 305.0,358.3 305.2,358.3 305.4,358.3 305.5,358.2 305.7,358.1 305.9,358.3 306.1,358.1 306.3,358.5 306.5,358.7 306.7,358.9 306.9,358.9 307.1,359.6 307.2,359.1 307.4,359.3 307.6,359.4 307.8,358.7 308.0,359.0 308.2,358.8 308.4,358.9 308.6,358.5 308.8,358.6 308.9,358.5 309.1,358.7 309.3,358.7 309.5,358.3 309.7,358.3 309.9,358.9 310.1,358.6 310.3,358.7 310.4,358.6 310.6,358.6 310.8,358.6 311.0,358.3 311.2,358.4 311.4,358.8 311.6,358.8 311.8,358.7 312.0,358.7 312.1,358.5 312.3,358.5 312.5,358.1 312.7,358.0 312.9,358.0 313.1,358.1 313.3,358.3 313.5,358.4 313.7,358.3 313.8,358.4 314.0,358.3 314.2,358.2 314.4,358.1 314.6,358.1 314.8,358.1 315.0,358.1 315.2,357.8 315.3,357.9 315.5,358.3 315.7,359.0 315.9,359.2 316.1,359.2 316.3,359.2 316.5,359.1 316.7,359.0 316.9,358.6 317.0,358.8 317.2,358.3 317.4,358.3 317.6,358.4 317.8,358.2 318.0,357.8 318.2,357.7 318.4,357.6 318.6,357.4 318.7,357.6 318.9,357.8 319.1,357.8 319.3,358.2 319.5,358.1 319.7,358.0 319.9,358.3 320.1,358.2 320.2,358.0 320.4,358.4 320.6,358.3 320.8,358.0 321.0,358.2 321.2,358.0 321.4,357.7 321.6,358.2 321.8,358.0 321.9,357.5 322.1,357.9 322.3,357.6 322.5,358.1 322.7,358.0 322.9,358.1 323.1,358.5 323.3,358.4 323.5,358.4 323.6,358.7 323.8,358.5 324.0,358.8 324.2,358.7 324.4,358.8 324.6,358.4 324.8,358.2 325.0,357.6 325.1,357.8 325.3,357.6 325.5,358.1 325.7,358.0 325.9,358.3 326.1,358.4 326.3,358.5 326.5,358.1 326.7,358.1 326.8,357.7 327.0,357.8 327.2,358.0 327.4,357.9 327.6,357.6 327.8,358.0 328.0,357.9 328.2,358.5 328.4,358.2 328.5,358.7 328.7,358.4 328.9,358.3 329.1,358.1 329.3,358.1 329.5,358.3 329.7,358.1 329.9,358.7 330.1,358.5 330.2,358.8 330.4,358.4 330.6,358.9 330.8,359.0 331.0,358.9 331.2,358.8 331.4,358.5 331.6,358.5 331.7,358.5 331.9,358.2 332.1,358.3 332.3,358.3 332.5,358.1 332.7,358.2 332.9,358.5 333.1,358.7 333.3,359.5 333.4,359.3 333.6,359.7 333.8,359.6 334.0,359.1 334.2,359.5 334.4,359.6 334.6,359.3 334.8,358.9 335.0,358.9 335.1,358.4 335.3,358.4 335.5,358.5 335.7,358.5 335.9,358.7 336.1,358.5 336.3,358.8 336.5,358.5 336.6,358.7 336.8,358.9 337.0,359.3 337.2,358.9 337.4,358.9 337.6,359.2 337.8,359.2 338.0,358.5 338.2,358.5 338.3,358.0 338.5,358.5 338.7,358.7 338.9,358.9 339.1,359.1 339.3,359.3 339.5,359.2 339.7,358.8 339.9,358.5 340.0,358.2 340.2,358.4 340.4,358.4 340.6,358.9 340.8,358.5 341.0,359.0 341.2,358.8 341.4,358.7 341.5,358.3 341.7,357.9 341.9,358.0 342.1,358.4 342.3,358.2 342.5,358.3 342.7,358.2 342.9,358.2 343.1,358.1 343.2,357.8 343.4,357.9 343.6,358.2 343.8,358.3 344.0,358.0 344.2,357.9 344.4,358.2 344.6,357.9 344.8,357.6 344.9,357.7 345.1,357.7 345.3,357.3 345.5,356.5 345.7,356.1 345.9,355.5 346.1,355.5 346.3,355.2 346.4,355.2 346.6,355.0 346.8,355.3 347.0,355.5 347.2,355.2 347.4,356.4 347.6,356.6 347.8,356.7 348.0,356.8 348.1,357.0 348.3,357.2 348.5,357.2 348.7,358.0 348.9,358.4 349.1,358.8 349.3,358.8 349.5,358.6 349.7,358.0 349.8,357.9 350.0,357.7 350.2,357.9 350.4,358.2 350.6,358.7 350.8,359.2 351.0,359.5 351.2,358.9 351.4,358.5 351.5,357.8 351.7,357.7 351.9,357.9 352.1,358.2 352.3,358.7 352.5,358.4 352.7,358.5 352.9,358.9 353.0,358.7 353.2,358.9 353.4,359.0 353.6,358.9 353.8,358.6 354.0,358.7 354.2,358.7 354.4,358.0 354.6,357.9 354.7,357.8 354.9,357.4 355.1,357.1 355.3,357.4 355.5,357.7 355.7,357.5 355.9,357.8 356.1,357.9 356.3,357.7 356.4,357.9 356.6,358.0 356.8,358.1 357.0,358.1 357.2,357.7 357.4,358.1 357.6,358.1 357.8,358.1 357.9,357.8 358.1,358.1 358.3,358.0 358.5,357.6 358.7,358.0 358.9,357.5 359.1,357.3 359.3,357.4 359.5,357.0 359.6,356.9 359.8,356.4 360.0,356.0 360.2,355.2 360.4,353.9 360.6,352.7 360.8,351.2 361.0,349.5 361.2,348.2 361.3,346.4 361.5,344.3 361.7,342.0 361.9,339.0 362.1,335.6 362.3,331.8 362.5,328.7 362.7,325.8 362.8,323.4 363.0,321.4 363.2,319.9 363.4,319.3 363.6,318.6 363.8,319.0 364.0,320.3 364.2,322.1 364.4,324.5 364.5,327.1 364.7,329.9 364.9,332.9 365.1,335.7 365.3,339.0 365.5,342.5 365.7,345.0 365.9,347.8 366.1,349.6 366.2,350.6 366.4,352.2 366.6,353.6 366.8,354.0 367.0,355.1 367.2,355.7 367.4,356.3 367.6,356.6 367.8,356.6 367.9,356.7 368.1,356.3 368.3,356.3 368.5,356.3 368.7,356.6 368.9,356.7 369.1,356.7 369.3,357.0 369.4,357.0 369.6,357.2 369.8,357.8 370.0,357.4 370.2,357.8 370.4,357.7 370.6,357.5 370.8,357.7 371.0,357.8 371.1,357.5 371.3,358.0 371.5,358.1 371.7,357.9 371.9,358.1 372.1,358.0 372.3,357.7 372.5,357.4 372.7,357.9 372.8,357.7 373.0,357.6 373.2,357.9 373.4,357.5 373.6,357.8 373.8,358.0 374.0,357.2 374.2,357.7 374.3,357.8 374.5,358.2 374.7,358.4 374.9,359.0 375.1,358.8 375.3,358.5 375.5,358.2 375.7,358.1 375.9,358.3 376.0,357.8 376.2,357.9 376.4,357.8 376.6,357.3 376.8,358.1 377.0,358.1 377.2,358.8 377.4,358.9 377.6,358.6 377.7,358.6 377.9,358.5 378.1,358.4 378.3,358.7 378.5,358.5 378.7,358.5 378.9,358.5 379.1,358.6 379.2,358.7 379.4,358.5 379.6,358.5 379.8,358.5 380.0,358.8 380.2,358.0 380.4,358.1 380.6,358.3 380.8,358.2 380.9,358.4 381.1,358.5 381.3,358.6 381.5,358.2 381.7,358.3 381.9,357.9 382.1,357.8 382.3,357.4 382.5,357.4 382.6,357.2 382.8,357.4 383.0,357.4 383.2,357.5 383.4,357.5 383.6,357.5 383.8,357.9 384.0,357.8 384.1,358.0 384.3,357.8 384.5,357.9 384.7,358.3 384.9,358.6 385.1,358.8 385.3,359.0 385.5,359.2 385.7,359.3 385.8,359.1 386.0,358.8 386.2,358.5 386.4,358.6 386.6,358.3 386.8,358.2 387.0,358.4 387.2,358.3 387.4,358.4 387.5,358.3 387.7,358.8 387.9,358.8 388.1,358.9 388.3,358.9 388.5,358.6 388.7,358.4 388.9,358.7 389.1,358.0 389.2,358.5 389.4,358.5 389.6,358.5 389.8,358.7 390.0,358.8 390.2,358.9 390.4,358.8 390.6,358.7 390.7,358.4 390.9,358.1 391.1,358.5 391.3,357.8 391.5,357.5 391.7,358.1 391.9,357.8 392.1,358.4 392.3,358.7 392.4,358.7 392.6,358.8 392.8,358.4 393.0,358.4 393.2,358.5 393.4,358.4 393.6,358.2 393.8,358.2 394.0,357.8 394.1,357.5 394.3,357.9 394.5,357.8 394.7,358.0 394.9,358.3 395.1,357.9 395.3,357.9 395.5,357.6 395.6,357.9 395.8,358.1 396.0,358.4 396.2,358.8 396.4,358.8 396.6,359.3 396.8,359.4 397.0,359.7 397.2,359.2 397.3,359.6 397.5,359.8 397.7,359.2 397.9,359.0 398.1,359.2 398.3,359.4 398.5,359.0 398.7,359.0 398.9,359.1 399.0,359.2 399.2,358.7 399.4,358.4 399.6,358.2 399.8,357.8 400.0,358.1 400.2,358.3 400.4,358.5 400.5,359.1 400.7,359.3 400.9,359.2 401.1,359.3 401.3,359.5 401.5,359.5 401.7,359.5 401.9,359.6 402.1,359.6 402.2,359.3 402.4,359.1 402.6,358.6 402.8,358.4 403.0,358.2 403.2,358.1 403.4,358.2 403.6,358.4 403.8,358.5 403.9,358.8 404.1,358.5 404.3,358.5 404.5,358.2 404.7,357.7 404.9,357.8 405.1,357.6 405.3,357.7 405.5,357.4 405.6,357.5 405.8,357.3 406.0,356.6 406.2,356.4 406.4,355.9 406.6,356.0 406.8,355.9 407.0,356.5 407.1,356.6 407.3,357.1 407.5,356.9 407.7,357.2 407.9,357.5 408.1,357.6 408.3,357.5 408.5,358.0 408.7,358.7 408.8,358.6 409.0,358.6 409.2,358.0 409.4,358.3 409.6,358.5 409.8,358.4 410.0,358.6 410.2,358.8 410.4,358.8 410.5,359.1" fill="none" stroke="#000000" stroke-width="1.38" stroke-linejoin="round"/>
<rect x="252.2" y="21.2" width="157.90000000000003" height="349.7" fill="none" stroke="#000" stroke-width="1.7"/>
<line x1="252.2" y1="370.9" x2="252.2" y2="366.9" stroke="#000" stroke-width="1.6"/>
<line x1="267.28" y1="370.9" x2="267.28" y2="368.9" stroke="#000" stroke-width="1.4"/>
<line x1="282.36" y1="370.9" x2="282.36" y2="366.9" stroke="#000" stroke-width="1.6"/>
<line x1="297.44" y1="370.9" x2="297.44" y2="368.9" stroke="#000" stroke-width="1.4"/>
<line x1="312.52" y1="370.9" x2="312.52" y2="366.9" stroke="#000" stroke-width="1.6"/>
<line x1="327.59999999999997" y1="370.9" x2="327.59999999999997" y2="368.9" stroke="#000" stroke-width="1.4"/>
<line x1="342.67999999999995" y1="370.9" x2="342.67999999999995" y2="366.9" stroke="#000" stroke-width="1.6"/>
<line x1="357.76" y1="370.9" x2="357.76" y2="368.9" stroke="#000" stroke-width="1.4"/>
<line x1="372.84" y1="370.9" x2="372.84" y2="366.9" stroke="#000" stroke-width="1.6"/>
<line x1="387.91999999999996" y1="370.9" x2="387.91999999999996" y2="368.9" stroke="#000" stroke-width="1.4"/>
<line x1="403.0" y1="370.9" x2="403.0" y2="366.9" stroke="#000" stroke-width="1.6"/>
<text x="251.4" y="383.4" font-family='"Liberation Sans", sans-serif' font-size="8.6" font-weight="normal" text-anchor="middle" fill="#000">1200</text>
<text x="281.6" y="383.4" font-family='"Liberation Sans", sans-serif' font-size="8.6" font-weight="normal" text-anchor="middle" fill="#000">1600</text>
<text x="311.7" y="383.4" font-family='"Liberation Sans", sans-serif' font-size="8.6" font-weight="normal" text-anchor="middle" fill="#000">2000</text>
<text x="341.9" y="383.4" font-family='"Liberation Sans", sans-serif' font-size="8.6" font-weight="normal" text-anchor="middle" fill="#000">2400</text>
<text x="372.0" y="383.4" font-family='"Liberation Sans", sans-serif' font-size="8.6" font-weight="normal" text-anchor="middle" fill="#000">2800</text>
<text x="402.2" y="383.4" font-family='"Liberation Sans", sans-serif' font-size="8.6" font-weight="normal" text-anchor="middle" fill="#000">3200</text>
<text x="285.9" y="39.3" font-family='"Liberation Sans", sans-serif' font-size="14.0" font-weight="normal" text-anchor="start" fill="#000">G</text>
<text x="259.6" y="101.7" font-family='"Liberation Sans", sans-serif' font-size="14.0" font-weight="normal" text-anchor="start" fill="#000">D</text>
<text x="359.6" y="68.9" font-family='"Liberation Sans", sans-serif' font-size="13.8" font-weight="normal" text-anchor="start" fill="#000">2D</text>
<text x="406.8" y="107.9" font-family='"Liberation Sans", sans-serif' font-size="10.4" font-weight="bold" text-anchor="end" fill="#000">230 s</text>
<text x="406.8" y="168.1" font-family='"Liberation Sans", sans-serif' font-size="10.4" font-weight="bold" text-anchor="end" fill="#000">220 s</text>
<text x="406.8" y="230.7" font-family='"Liberation Sans", sans-serif' font-size="10.4" font-weight="bold" text-anchor="end" fill="#000">190 s</text>
<text x="406.8" y="292.9" font-family='"Liberation Sans", sans-serif' font-size="10.4" font-weight="bold" text-anchor="end" fill="#000">130 s</text>
<text x="406.8" y="353.9" font-family='"Liberation Sans", sans-serif' font-size="10.0" font-weight="bold" text-anchor="end" fill="#000">Pristine</text>
<text x="331.3" y="406.6" font-family='"Liberation Sans", sans-serif' font-size="14.2" font-weight="bold" text-anchor="middle" fill="#000">Raman Shift (cm<tspan dy="-5" font-size="9">-1</tspan><tspan dy="5">)</tspan></text>
<text x="240.0" y="191.2" font-family='"Liberation Sans", sans-serif' font-size="14.0" font-weight="bold" text-anchor="middle" fill="#000" transform="rotate(-90 240.0 191.2)">Intensity (a.u.)</text>
<text x="426.5" y="18.6" font-family='"Liberation Sans", sans-serif' font-size="24" font-weight="bold" text-anchor="start" fill="#000">(c)</text>
<clipPath id="cc"><rect x="496.2" y="21.1" width="186.50000000000006" height="149.8"/></clipPath>
<path d="M690,79.8 C610,79.8 563,92 563,121 C563,151 610,164.6 690,164.6 L690,144.8 C610,144.8 583.5,140 583.5,122 C583.5,104 610,100.8 690,100.8 Z" fill="#dedede" clip-path="url(#cc)"/>
<rect x="496.2" y="21.1" width="186.50000000000006" height="149.8" fill="none" stroke="#000" stroke-width="1.7"/>
<line x1="599.5" y1="71.5" x2="541.0" y2="163.5" stroke="#0a0aff" stroke-width="1.15"/>
<path d="M538.50,167.50 L540.05,159.00 L542.28,161.56 L545.53,162.49Z" fill="#0a0aff"/>
<text x="567.4" y="100.6" font-family='"Liberation Sans", sans-serif' font-size="12.2" font-weight="bold" text-anchor="middle" fill="#0a0aff" transform="rotate(-57.6 567.4 100.6)">Strain</text>
<path d="M582.7,109.6 Q600,99 621,96.6" fill="none" stroke="#9c3cff" stroke-width="1.3"/>
<path d="M627.00,96.00 L620.57,100.54 L620.90,96.86 L619.57,93.41Z" fill="#9c3cff"/>
<text x="655.0" y="94.9" font-family='"Liberation Sans", sans-serif' font-size="10.7" font-weight="bold" text-anchor="middle" fill="#9c3cff" transform="rotate(-4.5 655.0 94.9)">p-doping</text>
<path d="M583.3,135.9 Q600,145 615.5,147.5" fill="none" stroke="#ff19ff" stroke-width="1.3"/>
<path d="M621.50,148.40 L613.90,150.47 L615.47,147.12 L615.40,143.42Z" fill="#ff19ff"/>
<text x="651" y="155.2" font-family='"Liberation Sans", sans-serif' font-size="10.7" font-weight="bold" text-anchor="middle" fill="#ff19ff" transform="rotate(5 651 155.2)">n-doping</text>
<rect x="575.81" y="106.81" width="2.97" height="2.97" fill="#000000"/>
<circle cx="577.60" cy="110.10" r="1.65" fill="#000000"/>
<path d="M576.40,109.50 L578.30,111.40 L576.40,113.30 L574.50,111.40Z" fill="#000000"/>
<path d="M573.72,110.78 L577.18,112.60 L573.72,114.41Z" fill="#000000"/>
<rect x="573.41" y="114.81" width="2.97" height="2.97" fill="#000000"/>
<circle cx="574.60" cy="117.70" r="1.65" fill="#000000"/>
<path d="M562.81,121.39 L566.28,123.20 L562.81,125.02Z" fill="#000000"/>
<circle cx="568.50" cy="121.00" r="1.65" fill="#000000"/>
<rect x="567.62" y="122.02" width="2.97" height="2.97" fill="#000000"/>
<path d="M572.20,119.40 L574.10,121.30 L572.20,123.20 L570.30,121.30Z" fill="#000000"/>
<circle cx="574.00" cy="122.60" r="1.65" fill="#000000"/>
<rect x="565.81" y="123.81" width="2.97" height="2.97" fill="#000000"/>
<circle cx="566.70" cy="126.80" r="1.65" fill="#000000"/>
<circle cx="570.60" cy="122.00" r="1.65" fill="#000000"/>
<path d="M567.00,125.50 L568.90,127.40 L567.00,129.30 L565.10,127.40Z" fill="#000000"/>
<circle cx="562.80" cy="134.40" r="1.65" fill="#000000"/>
<path d="M554.31,137.19 L557.78,139.00 L554.31,140.81Z" fill="#000000"/>
<path d="M557.30,142.90 L559.20,144.80 L557.30,146.70 L555.40,144.80Z" fill="#000000"/>
<path d="M575.81,113.48 L579.28,115.30 L575.81,117.11Z" fill="#ff0000"/>
<circle cx="567.90" cy="125.90" r="1.65" fill="#ff0000"/>
<rect x="567.62" y="126.52" width="2.97" height="2.97" fill="#ff0000"/>
<path d="M570.70,128.00 L572.60,129.90 L570.70,131.80 L568.80,129.90Z" fill="#ff0000"/>
<rect x="566.72" y="127.82" width="2.97" height="2.97" fill="#ff0000"/>
<circle cx="561.90" cy="130.50" r="1.65" fill="#ff0000"/>
<rect x="562.51" y="129.61" width="2.97" height="2.97" fill="#ff0000"/>
<circle cx="559.10" cy="132.90" r="1.65" fill="#ff0000"/>
<path d="M560.60,132.20 L562.50,134.10 L560.60,136.00 L558.70,134.10Z" fill="#ff0000"/>
<rect x="557.01" y="133.51" width="2.97" height="2.97" fill="#ff0000"/>
<circle cx="557.90" cy="137.20" r="1.65" fill="#ff0000"/>
<rect x="558.51" y="135.11" width="2.97" height="2.97" fill="#ff0000"/>
<circle cx="556.70" cy="139.90" r="1.65" fill="#ff0000"/>
<path d="M559.10,137.70 L561.00,139.60 L559.10,141.50 L557.20,139.60Z" fill="#ff0000"/>
<rect x="550.91" y="141.71" width="2.97" height="2.97" fill="#ff0000"/>
<path d="M562.81,135.69 L566.28,137.50 L562.81,139.31Z" fill="#ff0000"/>
<rect x="554.91" y="139.61" width="2.97" height="2.97" fill="#ff0000"/>
<text x="610.2" y="32.1" font-family='"Liberation Sans", sans-serif' font-size="9.2" font-weight="normal" text-anchor="middle" fill="#000">Pristine</text>
<text x="655.5" y="32.1" font-family='"Liberation Sans", sans-serif' font-size="9.2" font-weight="normal" text-anchor="middle" fill="#000">Excimer UV</text>
<rect x="610.92" y="39.52" width="3.15" height="3.15" fill="#000000"/>
<rect x="636.92" y="39.52" width="3.15" height="3.15" fill="#ff0000"/>
<text x="646.9" y="43.9" font-family='"Liberation Sans", sans-serif' font-size="8.9" font-weight="bold" text-anchor="start" fill="#000">130 s</text>
<path d="M610.92,50.18 L614.60,52.10 L610.92,54.02Z" fill="#000000"/>
<path d="M636.92,50.18 L640.60,52.10 L636.92,54.02Z" fill="#ff0000"/>
<text x="646.9" y="54.9" font-family='"Liberation Sans", sans-serif' font-size="8.9" font-weight="bold" text-anchor="start" fill="#000">190 s</text>
<circle cx="612.50" cy="63.70" r="1.75" fill="#000000"/>
<circle cx="638.50" cy="63.70" r="1.75" fill="#ff0000"/>
<text x="646.9" y="66.5" font-family='"Liberation Sans", sans-serif' font-size="8.9" font-weight="bold" text-anchor="start" fill="#000">220 s</text>
<path d="M612.50,73.09 L614.51,75.10 L612.50,77.11 L610.49,75.10Z" fill="#000000"/>
<path d="M638.50,73.09 L640.51,75.10 L638.50,77.11 L636.49,75.10Z" fill="#ff0000"/>
<text x="646.9" y="77.89999999999999" font-family='"Liberation Sans", sans-serif' font-size="8.9" font-weight="bold" text-anchor="start" fill="#000">230 s</text>
<line x1="496.2" y1="170.5" x2="499.0" y2="170.5" stroke="#000" stroke-width="1.5"/>
<line x1="496.2" y1="153.9" x2="501.8" y2="153.9" stroke="#000" stroke-width="1.5"/>
<line x1="496.2" y1="137.3" x2="499.0" y2="137.3" stroke="#000" stroke-width="1.5"/>
<line x1="496.2" y1="120.70000000000002" x2="501.8" y2="120.70000000000002" stroke="#000" stroke-width="1.5"/>
<line x1="496.2" y1="104.1" x2="499.0" y2="104.1" stroke="#000" stroke-width="1.5"/>
<line x1="496.2" y1="87.5" x2="501.8" y2="87.5" stroke="#000" stroke-width="1.5"/>
<line x1="496.2" y1="70.9" x2="499.0" y2="70.9" stroke="#000" stroke-width="1.5"/>
<line x1="496.2" y1="54.300000000000004" x2="501.8" y2="54.300000000000004" stroke="#000" stroke-width="1.5"/>
<line x1="496.2" y1="37.7" x2="499.0" y2="37.7" stroke="#000" stroke-width="1.5"/>
<line x1="496.2" y1="21.1" x2="501.8" y2="21.1" stroke="#000" stroke-width="1.5"/>
<line x1="496.2" y1="170.9" x2="496.2" y2="165.3" stroke="#000" stroke-width="1.5"/>
<line x1="522.875" y1="170.9" x2="522.875" y2="168.1" stroke="#000" stroke-width="1.5"/>
<line x1="549.55" y1="170.9" x2="549.55" y2="165.3" stroke="#000" stroke-width="1.5"/>
<line x1="576.225" y1="170.9" x2="576.225" y2="168.1" stroke="#000" stroke-width="1.5"/>
<line x1="602.9" y1="170.9" x2="602.9" y2="165.3" stroke="#000" stroke-width="1.5"/>
<line x1="629.575" y1="170.9" x2="629.575" y2="168.1" stroke="#000" stroke-width="1.5"/>
<line x1="656.25" y1="170.9" x2="656.25" y2="165.3" stroke="#000" stroke-width="1.5"/>
<line x1="682.925" y1="170.9" x2="682.925" y2="168.1" stroke="#000" stroke-width="1.5"/>
<text x="492.3" y="24.900000000000002" font-family='"Liberation Sans", sans-serif' font-size="10.6" font-weight="normal" text-anchor="end" fill="#000">2720</text>
<text x="492.3" y="58.1" font-family='"Liberation Sans", sans-serif' font-size="10.6" font-weight="normal" text-anchor="end" fill="#000">2710</text>
<text x="492.3" y="91.3" font-family='"Liberation Sans", sans-serif' font-size="10.6" font-weight="normal" text-anchor="end" fill="#000">2700</text>
<text x="492.3" y="124.50000000000001" font-family='"Liberation Sans", sans-serif' font-size="10.6" font-weight="normal" text-anchor="end" fill="#000">2690</text>
<text x="492.3" y="157.70000000000002" font-family='"Liberation Sans", sans-serif' font-size="10.6" font-weight="normal" text-anchor="end" fill="#000">2680</text>
<text x="496.2" y="185.0" font-family='"Liberation Sans", sans-serif' font-size="10.6" font-weight="normal" text-anchor="middle" fill="#000">1570</text>
<text x="549.55" y="185.0" font-family='"Liberation Sans", sans-serif' font-size="10.6" font-weight="normal" text-anchor="middle" fill="#000">1580</text>
<text x="602.9" y="185.0" font-family='"Liberation Sans", sans-serif' font-size="10.6" font-weight="normal" text-anchor="middle" fill="#000">1590</text>
<text x="656.25" y="185.0" font-family='"Liberation Sans", sans-serif' font-size="10.6" font-weight="normal" text-anchor="middle" fill="#000">1600</text>
<text x="589.0" y="206.0" font-family='"Liberation Sans", sans-serif' font-size="14" font-weight="bold" text-anchor="middle" fill="#000"><tspan font-family='"Liberation Serif", serif' font-size="13">ω</tspan><tspan dy="3" font-size="10" dx="0.6">G</tspan><tspan dy="-3"> (cm</tspan><tspan dy="-5" font-size="9">-1</tspan><tspan dy="5">)</tspan></text>
<text x="456.0" y="96.0" font-family='"Liberation Sans", sans-serif' font-size="14" font-weight="bold" text-anchor="middle" fill="#000" transform="rotate(-90 456.0 96.0)"><tspan font-family='"Liberation Serif", serif' font-size="13">ω</tspan><tspan dy="3.4" font-size="8.8" dx="0.6">2D</tspan><tspan dy="-3.4" dx="0.8"> (cm</tspan><tspan dy="-5" font-size="9">-1</tspan><tspan dy="5">)</tspan></text>
<text x="426.5" y="224.0" font-family='"Liberation Sans", sans-serif' font-size="24" font-weight="bold" text-anchor="start" fill="#000">(d)</text>
<path d="M507.1,294.9 L539.2,294.9 L541,299.5 L543.4,304.9 L546.3,309.5 L549.6,313.5 L553.8,317.5 L558.3,321 L562,324.5 L565.8,327.7 L661.1,327.7 L661.1,363.6 L567,363.6 L558,361.5 L549.6,358.3 L540.5,353.9 L532.3,348.3 L525,340.8 L518.6,332.2 L513.5,322.5 L509.9,312.3 L507.8,303 Z" fill="#dedede"/>
<rect x="496.1" y="221.6" width="186.29999999999995" height="149.6" fill="none" stroke="#000" stroke-width="1.7"/>
<path d="M584.4,267 C560,265.5 530,259 512,240" fill="none" stroke="#0a0aff" stroke-width="1.7"/>
<path d="M506.90,233.20 L515.90,238.22 L512.05,239.79 L509.60,243.15Z" fill="#0a0aff"/>
<text x="563.8" y="282.8" font-family='"Liberation Sans", sans-serif' font-size="12.6" font-weight="bold" text-anchor="middle" fill="#0a0aff">Anti-doping</text>
<path d="M530.3,308.1 C540,325 555,334 580,336 L621,336.6" fill="none" stroke="#9c3cff" stroke-width="1.6"/>
<path d="M627.30,336.60 L620.30,340.10 L621.14,336.60 L620.30,333.10Z" fill="#9c3cff"/>
<text x="614.5" y="352.5" font-family='"Liberation Sans", sans-serif' font-size="12.4" font-weight="bold" text-anchor="middle" fill="#9c3cff">Doping</text>
<path d="M539.20,239.40 L543.40,241.60 L539.20,243.80Z" fill="#ff0000"/>
<circle cx="537.00" cy="247.50" r="2.00" fill="#ff0000"/>
<circle cx="539.00" cy="247.30" r="2.00" fill="#ff0000"/>
<path d="M545.20,246.90 L549.40,249.10 L545.20,251.30Z" fill="#ff0000"/>
<path d="M551.70,247.50 L554.00,249.80 L551.70,252.10 L549.40,249.80Z" fill="#ff0000"/>
<path d="M562.30,245.90 L566.50,248.10 L562.30,250.30Z" fill="#ff0000"/>
<path d="M521.70,248.80 L524.00,251.10 L521.70,253.40 L519.40,251.10Z" fill="#ff0000"/>
<path d="M525.20,248.40 L529.40,250.60 L525.20,252.80Z" fill="#ff0000"/>
<rect x="529.10" y="250.20" width="3.60" height="3.60" fill="#ff0000"/>
<circle cx="532.90" cy="250.60" r="2.00" fill="#ff0000"/>
<path d="M534.80,250.70 L537.10,253.00 L534.80,255.30 L532.50,253.00Z" fill="#ff0000"/>
<circle cx="531.90" cy="255.90" r="2.00" fill="#ff0000"/>
<rect x="527.70" y="250.70" width="3.60" height="3.60" fill="#ff0000"/>
<circle cx="546.80" cy="254.30" r="2.00" fill="#ff0000"/>
<path d="M539.60,256.00 L543.80,258.20 L539.60,260.40Z" fill="#ff0000"/>
<circle cx="534.30" cy="259.80" r="2.00" fill="#ff0000"/>
<path d="M533.40,260.00 L535.70,262.30 L533.40,264.60 L531.10,262.30Z" fill="#ff0000"/>
<path d="M518.70,261.80 L522.90,264.00 L518.70,266.20Z" fill="#ff0000"/>
<rect x="544.00" y="263.40" width="3.60" height="3.60" fill="#ff0000"/>
<circle cx="551.40" cy="262.80" r="2.00" fill="#ff0000"/>
<rect x="558.70" y="267.60" width="3.60" height="3.60" fill="#ff0000"/>
<path d="M557.70,243.60 L560.00,245.90 L557.70,248.20 L555.40,245.90Z" fill="#000000"/>
<circle cx="537.10" cy="253.00" r="2.00" fill="#000000"/>
<circle cx="549.90" cy="253.30" r="2.00" fill="#000000"/>
<rect x="558.70" y="250.90" width="3.60" height="3.60" fill="#000000"/>
<circle cx="554.30" cy="256.90" r="2.00" fill="#000000"/>
<path d="M559.30,254.00 L563.50,256.20 L559.30,258.40Z" fill="#000000"/>
<path d="M524.80,257.60 L529.00,259.80 L524.80,262.00Z" fill="#000000"/>
<circle cx="545.60" cy="260.50" r="2.00" fill="#000000"/>
<circle cx="549.00" cy="260.30" r="2.00" fill="#000000"/>
<path d="M547.50,259.00 L549.80,261.30 L547.50,263.60 L545.20,261.30Z" fill="#000000"/>
<path d="M555.00,261.10 L557.30,263.40 L555.00,265.70 L552.70,263.40Z" fill="#000000"/>
<circle cx="563.40" cy="262.60" r="2.00" fill="#000000"/>
<path d="M529.00,263.10 L531.30,265.40 L529.00,267.70 L526.70,265.40Z" fill="#000000"/>
<rect x="522.50" y="229.60" width="3.60" height="3.60" fill="#000000"/>
<text x="608.0" y="232.8" font-family='"Liberation Sans", sans-serif' font-size="9.2" font-weight="normal" text-anchor="middle" fill="#000">Pristine</text>
<text x="655.0" y="232.8" font-family='"Liberation Sans", sans-serif' font-size="9.2" font-weight="normal" text-anchor="middle" fill="#000">Excimer UV</text>
<rect x="609.88" y="240.58" width="3.24" height="3.24" fill="#000000"/>
<rect x="637.88" y="240.58" width="3.24" height="3.24" fill="#ff0000"/>
<text x="648.1" y="245.0" font-family='"Liberation Sans", sans-serif' font-size="8.9" font-weight="bold" text-anchor="start" fill="#000">130 s</text>
<path d="M609.88,251.22 L613.66,253.20 L609.88,255.18Z" fill="#000000"/>
<path d="M637.88,251.22 L641.66,253.20 L637.88,255.18Z" fill="#ff0000"/>
<text x="648.1" y="256.0" font-family='"Liberation Sans", sans-serif' font-size="8.9" font-weight="bold" text-anchor="start" fill="#000">190 s</text>
<circle cx="611.50" cy="264.80" r="1.80" fill="#000000"/>
<circle cx="639.50" cy="264.80" r="1.80" fill="#ff0000"/>
<text x="648.1" y="267.6" font-family='"Liberation Sans", sans-serif' font-size="8.9" font-weight="bold" text-anchor="start" fill="#000">220 s</text>
<path d="M611.50,274.03 L613.57,276.10 L611.50,278.17 L609.43,276.10Z" fill="#000000"/>
<path d="M639.50,274.03 L641.57,276.10 L639.50,278.17 L637.43,276.10Z" fill="#ff0000"/>
<text x="648.1" y="278.90000000000003" font-family='"Liberation Sans", sans-serif' font-size="8.9" font-weight="bold" text-anchor="start" fill="#000">230 s</text>
<line x1="496.1" y1="371.45" x2="498.90000000000003" y2="371.45" stroke="#000" stroke-width="1.5"/>
<line x1="496.1" y1="354.79999999999995" x2="501.70000000000005" y2="354.79999999999995" stroke="#000" stroke-width="1.5"/>
<line x1="496.1" y1="338.15" x2="498.90000000000003" y2="338.15" stroke="#000" stroke-width="1.5"/>
<line x1="496.1" y1="321.5" x2="501.70000000000005" y2="321.5" stroke="#000" stroke-width="1.5"/>
<line x1="496.1" y1="304.85" x2="498.90000000000003" y2="304.85" stroke="#000" stroke-width="1.5"/>
<line x1="496.1" y1="288.2" x2="501.70000000000005" y2="288.2" stroke="#000" stroke-width="1.5"/>
<line x1="496.1" y1="271.55" x2="498.90000000000003" y2="271.55" stroke="#000" stroke-width="1.5"/>
<line x1="496.1" y1="254.89999999999998" x2="501.70000000000005" y2="254.89999999999998" stroke="#000" stroke-width="1.5"/>
<line x1="496.1" y1="238.25" x2="498.90000000000003" y2="238.25" stroke="#000" stroke-width="1.5"/>
<line x1="496.1" y1="221.6" x2="501.70000000000005" y2="221.6" stroke="#000" stroke-width="1.5"/>
<line x1="514.72" y1="371.2" x2="514.72" y2="365.59999999999997" stroke="#000" stroke-width="1.5"/>
<line x1="537.995" y1="371.2" x2="537.995" y2="368.4" stroke="#000" stroke-width="1.5"/>
<line x1="561.27" y1="371.2" x2="561.27" y2="365.59999999999997" stroke="#000" stroke-width="1.5"/>
<line x1="584.5450000000001" y1="371.2" x2="584.5450000000001" y2="368.4" stroke="#000" stroke-width="1.5"/>
<line x1="607.82" y1="371.2" x2="607.82" y2="365.59999999999997" stroke="#000" stroke-width="1.5"/>
<line x1="631.095" y1="371.2" x2="631.095" y2="368.4" stroke="#000" stroke-width="1.5"/>
<line x1="654.37" y1="371.2" x2="654.37" y2="365.59999999999997" stroke="#000" stroke-width="1.5"/>
<line x1="677.645" y1="371.2" x2="677.645" y2="368.4" stroke="#000" stroke-width="1.5"/>
<text x="492.5" y="226.1" font-family='"Liberation Sans", sans-serif' font-size="10.6" font-weight="normal" text-anchor="end" fill="#000">24</text>
<text x="492.5" y="259.4" font-family='"Liberation Sans", sans-serif' font-size="10.6" font-weight="normal" text-anchor="end" fill="#000">20</text>
<text x="492.5" y="292.7" font-family='"Liberation Sans", sans-serif' font-size="10.6" font-weight="normal" text-anchor="end" fill="#000">16</text>
<text x="492.5" y="326.0" font-family='"Liberation Sans", sans-serif' font-size="10.6" font-weight="normal" text-anchor="end" fill="#000">12</text>
<text x="492.5" y="359.29999999999995" font-family='"Liberation Sans", sans-serif' font-size="10.6" font-weight="normal" text-anchor="end" fill="#000">8</text>
<text x="514.72" y="385.0" font-family='"Liberation Sans", sans-serif' font-size="10.6" font-weight="normal" text-anchor="middle" fill="#000">1580</text>
<text x="561.27" y="385.0" font-family='"Liberation Sans", sans-serif' font-size="10.6" font-weight="normal" text-anchor="middle" fill="#000">1585</text>
<text x="607.82" y="385.0" font-family='"Liberation Sans", sans-serif' font-size="10.6" font-weight="normal" text-anchor="middle" fill="#000">1590</text>
<text x="654.37" y="385.0" font-family='"Liberation Sans", sans-serif' font-size="10.6" font-weight="normal" text-anchor="middle" fill="#000">1595</text>
<text x="588.0" y="406.3" font-family='"Liberation Sans", sans-serif' font-size="14" font-weight="bold" text-anchor="middle" fill="#000"><tspan font-family='"Liberation Serif", serif' font-size="13">ω</tspan><tspan dy="3" font-size="10" dx="0.6">G</tspan><tspan dy="-3"> (cm</tspan><tspan dy="-5" font-size="9">-1</tspan><tspan dy="5">)</tspan></text>
<text x="467.0" y="296.5" font-family='"Liberation Sans", sans-serif' font-size="14" font-weight="bold" text-anchor="middle" fill="#000" transform="rotate(-90 467.0 296.5)"><tspan font-family='"Liberation Serif", serif' font-size="15" font-weight="normal">Γ</tspan><tspan dy="3" font-size="10">G</tspan><tspan dy="-3"> (cm</tspan><tspan dy="-5" font-size="9">-1</tspan><tspan dy="5">)</tspan></text>
</svg>
</body></html>
